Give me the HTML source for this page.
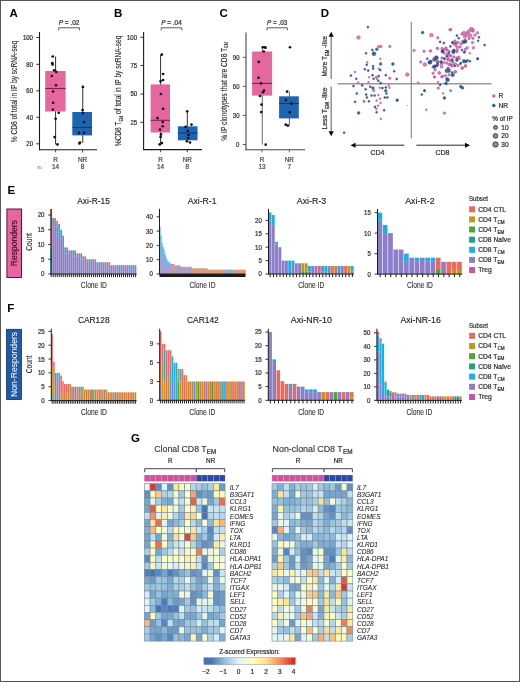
<!DOCTYPE html>
<html><head><meta charset="utf-8"><style>
html,body{margin:0;padding:0;background:#fff;}
svg{display:block;filter:blur(0.3px);}
text{font-family:"Liberation Sans", sans-serif;}
</style></head><body>
<svg width="520" height="682" viewBox="0 0 520 682">
<rect x="0" y="0" width="520" height="682" fill="#fff"/>
<text x="9.60" y="17.20" font-size="11.5" fill="#000" text-anchor="start" font-weight="bold" >A</text>
<text x="114.00" y="17.20" font-size="11.5" fill="#000" text-anchor="start" font-weight="bold" >B</text>
<text x="219.60" y="17.20" font-size="11.5" fill="#000" text-anchor="start" font-weight="bold" >C</text>
<text x="320.80" y="17.20" font-size="11.5" fill="#000" text-anchor="start" font-weight="bold" >D</text>
<text x="7.40" y="193.60" font-size="11.5" fill="#000" text-anchor="start" font-weight="bold" >E</text>
<text x="7.30" y="312.40" font-size="11.5" fill="#000" text-anchor="start" font-weight="bold" >F</text>
<text x="131.00" y="442.00" font-size="11.5" fill="#000" text-anchor="start" font-weight="bold" >G</text>
<line x1="36.30" y1="37.50" x2="39.50" y2="37.50" stroke="#1a1a1a" stroke-width="0.9" />
<text x="33.00" y="39.85" font-size="6.7" fill="#333" text-anchor="end" textLength="10.1" lengthAdjust="spacingAndGlyphs"  stroke="#333" stroke-width="0.24">100</text>
<line x1="36.30" y1="64.30" x2="39.50" y2="64.30" stroke="#1a1a1a" stroke-width="0.9" />
<text x="33.00" y="66.65" font-size="6.7" fill="#333" text-anchor="end" textLength="6.7" lengthAdjust="spacingAndGlyphs"  stroke="#333" stroke-width="0.24">80</text>
<line x1="36.30" y1="90.80" x2="39.50" y2="90.80" stroke="#1a1a1a" stroke-width="0.9" />
<text x="33.00" y="93.15" font-size="6.7" fill="#333" text-anchor="end" textLength="6.7" lengthAdjust="spacingAndGlyphs"  stroke="#333" stroke-width="0.24">60</text>
<line x1="36.30" y1="117.30" x2="39.50" y2="117.30" stroke="#1a1a1a" stroke-width="0.9" />
<text x="33.00" y="119.65" font-size="6.7" fill="#333" text-anchor="end" textLength="6.7" lengthAdjust="spacingAndGlyphs"  stroke="#333" stroke-width="0.24">40</text>
<line x1="36.30" y1="143.80" x2="39.50" y2="143.80" stroke="#1a1a1a" stroke-width="0.9" />
<text x="33.00" y="146.15" font-size="6.7" fill="#333" text-anchor="end" textLength="6.7" lengthAdjust="spacingAndGlyphs"  stroke="#333" stroke-width="0.24">20</text>
<line x1="55.60" y1="56.50" x2="55.60" y2="144.40" stroke="#1a1a1a" stroke-width="0.9" />
<rect x="45.20" y="71.00" width="20.40" height="40.50" fill="#e6669f" />
<line x1="45.20" y1="88.50" x2="65.60" y2="88.50" stroke="#8a1d55" stroke-width="1.1" />
<line x1="82.75" y1="86.90" x2="82.75" y2="142.80" stroke="#1a1a1a" stroke-width="0.9" />
<rect x="72.30" y="112.00" width="19.70" height="23.40" fill="#1f64b1" />
<line x1="72.30" y1="127.50" x2="92.00" y2="127.50" stroke="#143d70" stroke-width="1.1" />
<circle cx="52.75" cy="56.50" r="1.35" fill="#111"/>
<circle cx="52.30" cy="63.20" r="1.35" fill="#111"/>
<circle cx="52.60" cy="64.40" r="1.35" fill="#111"/>
<circle cx="54.10" cy="70.25" r="1.35" fill="#111"/>
<circle cx="56.25" cy="71.90" r="1.35" fill="#111"/>
<circle cx="51.90" cy="76.00" r="1.35" fill="#111"/>
<circle cx="56.00" cy="85.25" r="1.35" fill="#111"/>
<circle cx="53.10" cy="91.50" r="1.35" fill="#111"/>
<circle cx="53.10" cy="102.75" r="1.35" fill="#111"/>
<circle cx="52.90" cy="109.60" r="1.35" fill="#111"/>
<circle cx="58.75" cy="112.75" r="1.35" fill="#111"/>
<circle cx="55.60" cy="118.75" r="1.35" fill="#111"/>
<circle cx="54.60" cy="137.10" r="1.35" fill="#111"/>
<circle cx="57.50" cy="144.40" r="1.35" fill="#111"/>
<circle cx="82.90" cy="86.90" r="1.35" fill="#111"/>
<circle cx="82.50" cy="110.00" r="1.35" fill="#111"/>
<circle cx="82.90" cy="113.10" r="1.35" fill="#111"/>
<circle cx="84.00" cy="122.10" r="1.35" fill="#111"/>
<circle cx="79.00" cy="132.90" r="1.35" fill="#111"/>
<circle cx="84.00" cy="132.90" r="1.35" fill="#111"/>
<circle cx="80.00" cy="142.50" r="1.35" fill="#111"/>
<circle cx="79.40" cy="143.40" r="1.35" fill="#111"/>
<line x1="39.50" y1="32.00" x2="39.50" y2="150.30" stroke="#1a1a1a" stroke-width="1.1" />
<line x1="39.00" y1="149.80" x2="97.00" y2="149.80" stroke="#1a1a1a" stroke-width="1.1" />
<line x1="55.60" y1="149.80" x2="55.60" y2="152.40" stroke="#1a1a1a" stroke-width="0.8" />
<line x1="82.60" y1="149.80" x2="82.60" y2="152.40" stroke="#1a1a1a" stroke-width="0.8" />
<text x="55.60" y="161.60" font-size="6.4" fill="#4d4d4d" text-anchor="middle"  stroke="#4d4d4d" stroke-width="0.24">R</text>
<text x="82.60" y="161.60" font-size="6.4" fill="#4d4d4d" text-anchor="middle"  stroke="#4d4d4d" stroke-width="0.24">NR</text>
<text x="55.60" y="169.40" font-size="6.4" fill="#4d4d4d" text-anchor="middle"  stroke="#4d4d4d" stroke-width="0.24">14</text>
<text x="82.60" y="169.40" font-size="6.4" fill="#4d4d4d" text-anchor="middle"  stroke="#4d4d4d" stroke-width="0.24">8</text>
<text x="17.20" y="91.55" font-size="8.4" fill="#2a2a2a" text-anchor="middle" textLength="101.3" lengthAdjust="spacingAndGlyphs" transform="rotate(-90 17.20 91.55)" stroke="#2a2a2a" stroke-width="0.12">% CD8 of total in IP by scRNA-seq</text>
<text x="69.05" y="25.0" font-size="6.4" fill="#333" text-anchor="middle" textLength="20.7" lengthAdjust="spacingAndGlyphs" stroke="#333" stroke-width="0.24"><tspan font-style="italic">P</tspan> = .02</text>
<polyline points="58.70,30.4 58.70,27.8 79.40,27.8 79.40,30.4" fill="none" stroke="#333" stroke-width="0.8"/>
<text x="39.80" y="169.40" font-size="6.0" fill="#999" text-anchor="middle"  stroke="#999" stroke-width="0.24">n:</text>
<line x1="140.40" y1="37.30" x2="143.60" y2="37.30" stroke="#1a1a1a" stroke-width="0.9" />
<text x="137.10" y="39.65" font-size="6.7" fill="#333" text-anchor="end" textLength="10.1" lengthAdjust="spacingAndGlyphs"  stroke="#333" stroke-width="0.24">100</text>
<line x1="140.40" y1="65.60" x2="143.60" y2="65.60" stroke="#1a1a1a" stroke-width="0.9" />
<text x="137.10" y="67.95" font-size="6.7" fill="#333" text-anchor="end" textLength="6.7" lengthAdjust="spacingAndGlyphs"  stroke="#333" stroke-width="0.24">75</text>
<line x1="140.40" y1="94.00" x2="143.60" y2="94.00" stroke="#1a1a1a" stroke-width="0.9" />
<text x="137.10" y="96.35" font-size="6.7" fill="#333" text-anchor="end" textLength="6.7" lengthAdjust="spacingAndGlyphs"  stroke="#333" stroke-width="0.24">50</text>
<line x1="140.40" y1="122.30" x2="143.60" y2="122.30" stroke="#1a1a1a" stroke-width="0.9" />
<text x="137.10" y="124.65" font-size="6.7" fill="#333" text-anchor="end" textLength="6.7" lengthAdjust="spacingAndGlyphs"  stroke="#333" stroke-width="0.24">25</text>
<line x1="160.60" y1="54.60" x2="160.60" y2="144.20" stroke="#1a1a1a" stroke-width="0.9" />
<rect x="150.60" y="84.40" width="19.40" height="48.10" fill="#e6669f" />
<line x1="150.60" y1="120.30" x2="170.00" y2="120.30" stroke="#8a1d55" stroke-width="1.1" />
<line x1="187.30" y1="111.30" x2="187.30" y2="141.50" stroke="#1a1a1a" stroke-width="0.9" />
<rect x="177.90" y="126.30" width="19.60" height="14.00" fill="#1f64b1" />
<line x1="177.90" y1="133.10" x2="197.50" y2="133.10" stroke="#143d70" stroke-width="1.1" />
<circle cx="161.90" cy="54.60" r="1.35" fill="#111"/>
<circle cx="163.10" cy="74.00" r="1.35" fill="#111"/>
<circle cx="163.10" cy="80.00" r="1.35" fill="#111"/>
<circle cx="160.60" cy="81.25" r="1.35" fill="#111"/>
<circle cx="160.90" cy="94.00" r="1.35" fill="#111"/>
<circle cx="163.10" cy="108.75" r="1.35" fill="#111"/>
<circle cx="157.50" cy="118.10" r="1.35" fill="#111"/>
<circle cx="162.75" cy="122.10" r="1.35" fill="#111"/>
<circle cx="162.75" cy="126.25" r="1.35" fill="#111"/>
<circle cx="160.00" cy="129.60" r="1.35" fill="#111"/>
<circle cx="161.00" cy="134.40" r="1.35" fill="#111"/>
<circle cx="160.60" cy="136.90" r="1.35" fill="#111"/>
<circle cx="161.90" cy="143.10" r="1.35" fill="#111"/>
<circle cx="159.75" cy="144.40" r="1.35" fill="#111"/>
<circle cx="187.25" cy="111.25" r="1.35" fill="#111"/>
<circle cx="185.60" cy="126.90" r="1.35" fill="#111"/>
<circle cx="191.50" cy="124.60" r="1.35" fill="#111"/>
<circle cx="187.90" cy="131.00" r="1.35" fill="#111"/>
<circle cx="188.50" cy="135.00" r="1.35" fill="#111"/>
<circle cx="186.90" cy="141.25" r="1.35" fill="#111"/>
<circle cx="190.00" cy="142.50" r="1.35" fill="#111"/>
<circle cx="188.10" cy="138.10" r="1.35" fill="#111"/>
<line x1="143.60" y1="32.00" x2="143.60" y2="150.10" stroke="#1a1a1a" stroke-width="1.1" />
<line x1="143.10" y1="149.60" x2="202.00" y2="149.60" stroke="#1a1a1a" stroke-width="1.1" />
<line x1="160.60" y1="149.60" x2="160.60" y2="152.20" stroke="#1a1a1a" stroke-width="0.8" />
<line x1="187.30" y1="149.60" x2="187.30" y2="152.20" stroke="#1a1a1a" stroke-width="0.8" />
<text x="160.60" y="161.60" font-size="6.4" fill="#4d4d4d" text-anchor="middle"  stroke="#4d4d4d" stroke-width="0.24">R</text>
<text x="187.30" y="161.60" font-size="6.4" fill="#4d4d4d" text-anchor="middle"  stroke="#4d4d4d" stroke-width="0.24">NR</text>
<text x="160.60" y="169.40" font-size="6.4" fill="#4d4d4d" text-anchor="middle"  stroke="#4d4d4d" stroke-width="0.24">14</text>
<text x="187.30" y="169.40" font-size="6.4" fill="#4d4d4d" text-anchor="middle"  stroke="#4d4d4d" stroke-width="0.24">8</text>
<text x="121.00" y="90.95" font-size="8.4" fill="#2a2a2a" text-anchor="middle" textLength="110.7" lengthAdjust="spacingAndGlyphs" transform="rotate(-90 121.00 90.95)" stroke="#2a2a2a" stroke-width="0.12">%CD8 T<tspan font-size="5" dy="1.6">EM</tspan><tspan dy="-1.6"> of total in IP by scRNA-seq</tspan></text>
<text x="171.50" y="25.0" font-size="6.4" fill="#333" text-anchor="middle" textLength="20.6" lengthAdjust="spacingAndGlyphs" stroke="#333" stroke-width="0.24"><tspan font-style="italic">P</tspan> = .04</text>
<polyline points="161.20,30.4 161.20,27.8 181.80,27.8 181.80,30.4" fill="none" stroke="#333" stroke-width="0.8"/>
<line x1="242.80" y1="57.30" x2="246.00" y2="57.30" stroke="#444" stroke-width="0.9" />
<text x="239.50" y="59.65" font-size="6.7" fill="#333" text-anchor="end" textLength="6.7" lengthAdjust="spacingAndGlyphs"  stroke="#333" stroke-width="0.24">90</text>
<line x1="242.80" y1="86.30" x2="246.00" y2="86.30" stroke="#444" stroke-width="0.9" />
<text x="239.50" y="88.65" font-size="6.7" fill="#333" text-anchor="end" textLength="6.7" lengthAdjust="spacingAndGlyphs"  stroke="#333" stroke-width="0.24">60</text>
<line x1="242.80" y1="115.40" x2="246.00" y2="115.40" stroke="#444" stroke-width="0.9" />
<text x="239.50" y="117.75" font-size="6.7" fill="#333" text-anchor="end" textLength="6.7" lengthAdjust="spacingAndGlyphs"  stroke="#333" stroke-width="0.24">30</text>
<line x1="242.80" y1="144.50" x2="246.00" y2="144.50" stroke="#444" stroke-width="0.9" />
<text x="239.50" y="146.85" font-size="6.7" fill="#333" text-anchor="end" textLength="3.4" lengthAdjust="spacingAndGlyphs"  stroke="#333" stroke-width="0.24">0</text>
<line x1="262.25" y1="47.25" x2="262.25" y2="144.50" stroke="#555" stroke-width="0.9" />
<rect x="252.10" y="51.50" width="20.00" height="44.10" fill="#e6669f" />
<line x1="252.10" y1="83.40" x2="272.10" y2="83.40" stroke="#8a1d55" stroke-width="1.1" />
<line x1="289.40" y1="91.60" x2="289.40" y2="125.60" stroke="#555" stroke-width="0.9" />
<rect x="279.10" y="96.30" width="19.70" height="22.10" fill="#1f64b1" />
<line x1="279.10" y1="103.40" x2="298.80" y2="103.40" stroke="#143d70" stroke-width="1.1" />
<circle cx="262.90" cy="47.25" r="1.35" fill="#111"/>
<circle cx="264.75" cy="47.25" r="1.35" fill="#111"/>
<circle cx="265.60" cy="47.75" r="1.35" fill="#111"/>
<circle cx="263.75" cy="51.50" r="1.35" fill="#111"/>
<circle cx="258.75" cy="61.90" r="1.35" fill="#111"/>
<circle cx="258.50" cy="77.75" r="1.35" fill="#111"/>
<circle cx="261.00" cy="83.40" r="1.35" fill="#111"/>
<circle cx="264.00" cy="90.60" r="1.35" fill="#111"/>
<circle cx="262.90" cy="92.25" r="1.35" fill="#111"/>
<circle cx="260.00" cy="96.00" r="1.35" fill="#111"/>
<circle cx="261.50" cy="104.60" r="1.35" fill="#111"/>
<circle cx="261.25" cy="112.10" r="1.35" fill="#111"/>
<circle cx="265.70" cy="144.70" r="1.35" fill="#111"/>
<circle cx="290.00" cy="47.25" r="1.35" fill="#111"/>
<circle cx="287.10" cy="91.60" r="1.35" fill="#111"/>
<circle cx="285.90" cy="100.00" r="1.35" fill="#111"/>
<circle cx="291.50" cy="103.50" r="1.35" fill="#111"/>
<circle cx="289.75" cy="112.25" r="1.35" fill="#111"/>
<circle cx="285.70" cy="124.70" r="1.35" fill="#111"/>
<circle cx="287.80" cy="125.60" r="1.35" fill="#111"/>
<line x1="246.00" y1="32.50" x2="246.00" y2="150.30" stroke="#444" stroke-width="1.1" />
<line x1="245.50" y1="149.80" x2="305.00" y2="149.80" stroke="#444" stroke-width="1.1" />
<line x1="262.00" y1="149.80" x2="262.00" y2="152.40" stroke="#444" stroke-width="0.8" />
<line x1="289.30" y1="149.80" x2="289.30" y2="152.40" stroke="#444" stroke-width="0.8" />
<text x="262.00" y="161.60" font-size="6.4" fill="#4d4d4d" text-anchor="middle"  stroke="#4d4d4d" stroke-width="0.24">R</text>
<text x="289.30" y="161.60" font-size="6.4" fill="#4d4d4d" text-anchor="middle"  stroke="#4d4d4d" stroke-width="0.24">NR</text>
<text x="262.00" y="169.40" font-size="6.4" fill="#4d4d4d" text-anchor="middle"  stroke="#4d4d4d" stroke-width="0.24">13</text>
<text x="289.30" y="169.40" font-size="6.4" fill="#4d4d4d" text-anchor="middle"  stroke="#4d4d4d" stroke-width="0.24">7</text>
<text x="226.90" y="91.30" font-size="8.4" fill="#2a2a2a" text-anchor="middle" textLength="98.8" lengthAdjust="spacingAndGlyphs" transform="rotate(-90 226.90 91.30)" stroke="#2a2a2a" stroke-width="0.12">% IP clonotypes that are CD8 T<tspan font-size="5" dy="1.6">EM</tspan></text>
<text x="277.15" y="25.0" font-size="6.4" fill="#333" text-anchor="middle" textLength="20.3" lengthAdjust="spacingAndGlyphs" stroke="#333" stroke-width="0.24"><tspan font-style="italic">P</tspan> = .03</text>
<polyline points="267.00,30.4 267.00,27.8 287.30,27.8 287.30,30.4" fill="none" stroke="#333" stroke-width="0.8"/>
<line x1="337.50" y1="83.75" x2="491.50" y2="83.75" stroke="#9a9a9a" stroke-width="1.3" />
<line x1="411.25" y1="21.90" x2="411.25" y2="138.40" stroke="#6a6a6a" stroke-width="0.9" />
<circle cx="443.50" cy="62.50" r="1.20" fill="#d875b2" stroke="#c0509a" stroke-width="0.65" fill-opacity="0.9"/>
<circle cx="362.20" cy="85.40" r="1.05" fill="#2c5c96" stroke="#214a7a" stroke-width="0.4" fill-opacity="0.95"/>
<circle cx="456.90" cy="35.60" r="1.05" fill="#2c5c96" stroke="#214a7a" stroke-width="0.4" fill-opacity="0.95"/>
<circle cx="439.20" cy="73.10" r="1.20" fill="#d875b2" stroke="#c0509a" stroke-width="0.65" fill-opacity="0.9"/>
<circle cx="457.00" cy="51.50" r="1.20" fill="#d875b2" stroke="#c0509a" stroke-width="0.65" fill-opacity="0.9"/>
<circle cx="422.60" cy="32.60" r="1.40" fill="#2c5c96" stroke="#214a7a" stroke-width="0.4" fill-opacity="0.95"/>
<circle cx="479.00" cy="37.30" r="1.05" fill="#2c5c96" stroke="#214a7a" stroke-width="0.4" fill-opacity="0.95"/>
<circle cx="355.10" cy="101.80" r="1.05" fill="#2c5c96" stroke="#214a7a" stroke-width="0.4" fill-opacity="0.95"/>
<circle cx="469.00" cy="38.50" r="1.20" fill="#d875b2" stroke="#c0509a" stroke-width="0.65" fill-opacity="0.9"/>
<circle cx="441.50" cy="64.50" r="1.20" fill="#d875b2" stroke="#c0509a" stroke-width="0.65" fill-opacity="0.9"/>
<circle cx="469.90" cy="61.20" r="1.05" fill="#2c5c96" stroke="#214a7a" stroke-width="0.4" fill-opacity="0.95"/>
<circle cx="456.90" cy="60.20" r="1.05" fill="#2c5c96" stroke="#214a7a" stroke-width="0.4" fill-opacity="0.95"/>
<circle cx="450.40" cy="46.40" r="1.05" fill="#2c5c96" stroke="#214a7a" stroke-width="0.4" fill-opacity="0.95"/>
<circle cx="462.00" cy="50.00" r="1.05" fill="#2c5c96" stroke="#214a7a" stroke-width="0.4" fill-opacity="0.95"/>
<circle cx="465.10" cy="41.20" r="1.95" fill="#2c5c96" stroke="#214a7a" stroke-width="0.4" fill-opacity="0.95"/>
<circle cx="445.00" cy="59.00" r="1.20" fill="#d875b2" stroke="#c0509a" stroke-width="0.65" fill-opacity="0.9"/>
<circle cx="435.10" cy="69.90" r="1.20" fill="#d875b2" stroke="#c0509a" stroke-width="0.65" fill-opacity="0.9"/>
<circle cx="442.30" cy="76.20" r="1.20" fill="#d875b2" stroke="#c0509a" stroke-width="0.65" fill-opacity="0.9"/>
<circle cx="367.30" cy="62.30" r="0.85" fill="#d875b2" stroke="#c0509a" stroke-width="0.65" fill-opacity="0.9"/>
<circle cx="453.90" cy="50.30" r="1.40" fill="#2c5c96" stroke="#214a7a" stroke-width="0.4" fill-opacity="0.95"/>
<circle cx="407.30" cy="74.60" r="1.75" fill="#d875b2" stroke="#c0509a" stroke-width="0.65" fill-opacity="0.9"/>
<circle cx="460.40" cy="63.70" r="1.05" fill="#2c5c96" stroke="#214a7a" stroke-width="0.4" fill-opacity="0.95"/>
<circle cx="444.40" cy="113.10" r="1.20" fill="#d875b2" stroke="#c0509a" stroke-width="0.65" fill-opacity="0.9"/>
<circle cx="456.90" cy="50.30" r="1.20" fill="#d875b2" stroke="#c0509a" stroke-width="0.65" fill-opacity="0.9"/>
<circle cx="366.20" cy="94.50" r="1.05" fill="#2c5c96" stroke="#214a7a" stroke-width="0.4" fill-opacity="0.95"/>
<circle cx="477.50" cy="32.80" r="1.20" fill="#d875b2" stroke="#c0509a" stroke-width="0.65" fill-opacity="0.9"/>
<circle cx="461.00" cy="44.00" r="1.20" fill="#d875b2" stroke="#c0509a" stroke-width="0.65" fill-opacity="0.9"/>
<circle cx="454.00" cy="44.00" r="1.20" fill="#d875b2" stroke="#c0509a" stroke-width="0.65" fill-opacity="0.9"/>
<circle cx="374.70" cy="95.50" r="1.05" fill="#237888" stroke="#214a7a" stroke-width="0.4" fill-opacity="0.95"/>
<circle cx="392.90" cy="64.00" r="1.40" fill="#2c5c96" stroke="#214a7a" stroke-width="0.4" fill-opacity="0.95"/>
<circle cx="437.70" cy="64.60" r="1.20" fill="#d875b2" stroke="#c0509a" stroke-width="0.65" fill-opacity="0.9"/>
<circle cx="430.30" cy="51.00" r="1.20" fill="#d875b2" stroke="#c0509a" stroke-width="0.65" fill-opacity="0.9"/>
<circle cx="447.00" cy="56.00" r="1.40" fill="#2c5c96" stroke="#214a7a" stroke-width="0.4" fill-opacity="0.95"/>
<circle cx="370.30" cy="86.70" r="1.05" fill="#2c5c96" stroke="#214a7a" stroke-width="0.4" fill-opacity="0.95"/>
<circle cx="458.70" cy="57.20" r="1.20" fill="#d875b2" stroke="#c0509a" stroke-width="0.65" fill-opacity="0.9"/>
<circle cx="447.50" cy="79.80" r="1.95" fill="#2c5c96" stroke="#214a7a" stroke-width="0.4" fill-opacity="0.95"/>
<circle cx="424.40" cy="90.70" r="1.05" fill="#2c5c96" stroke="#214a7a" stroke-width="0.4" fill-opacity="0.95"/>
<circle cx="460.00" cy="47.00" r="1.20" fill="#d875b2" stroke="#c0509a" stroke-width="0.65" fill-opacity="0.9"/>
<circle cx="458.70" cy="38.20" r="1.05" fill="#2c5c96" stroke="#214a7a" stroke-width="0.4" fill-opacity="0.95"/>
<circle cx="467.30" cy="47.70" r="1.20" fill="#d875b2" stroke="#c0509a" stroke-width="0.65" fill-opacity="0.9"/>
<circle cx="453.00" cy="62.00" r="1.20" fill="#d875b2" stroke="#c0509a" stroke-width="0.65" fill-opacity="0.9"/>
<circle cx="373.10" cy="68.60" r="1.05" fill="#2c5c96" stroke="#214a7a" stroke-width="0.4" fill-opacity="0.95"/>
<circle cx="457.50" cy="47.50" r="1.20" fill="#d875b2" stroke="#c0509a" stroke-width="0.65" fill-opacity="0.9"/>
<circle cx="472.50" cy="42.50" r="1.20" fill="#d875b2" stroke="#c0509a" stroke-width="0.65" fill-opacity="0.9"/>
<circle cx="467.50" cy="60.50" r="1.05" fill="#2c5c96" stroke="#214a7a" stroke-width="0.4" fill-opacity="0.95"/>
<circle cx="470.00" cy="35.50" r="1.75" fill="#d875b2" stroke="#c0509a" stroke-width="0.65" fill-opacity="0.9"/>
<circle cx="421.80" cy="94.50" r="1.05" fill="#2c5c96" stroke="#214a7a" stroke-width="0.4" fill-opacity="0.95"/>
<circle cx="456.00" cy="43.00" r="1.05" fill="#2c5c96" stroke="#214a7a" stroke-width="0.4" fill-opacity="0.95"/>
<circle cx="477.70" cy="58.50" r="1.05" fill="#2c5c96" stroke="#214a7a" stroke-width="0.4" fill-opacity="0.95"/>
<circle cx="356.80" cy="93.50" r="1.05" fill="#2c5c96" stroke="#214a7a" stroke-width="0.4" fill-opacity="0.95"/>
<circle cx="446.50" cy="63.00" r="1.20" fill="#d875b2" stroke="#c0509a" stroke-width="0.65" fill-opacity="0.9"/>
<circle cx="450.40" cy="90.70" r="0.85" fill="#d875b2" stroke="#c0509a" stroke-width="0.65" fill-opacity="0.9"/>
<circle cx="484.60" cy="45.10" r="1.05" fill="#2c5c96" stroke="#214a7a" stroke-width="0.4" fill-opacity="0.95"/>
<circle cx="452.60" cy="42.50" r="1.05" fill="#2c5c96" stroke="#214a7a" stroke-width="0.4" fill-opacity="0.95"/>
<circle cx="433.10" cy="66.90" r="1.20" fill="#d875b2" stroke="#c0509a" stroke-width="0.65" fill-opacity="0.9"/>
<circle cx="444.00" cy="53.00" r="1.20" fill="#d875b2" stroke="#c0509a" stroke-width="0.65" fill-opacity="0.9"/>
<circle cx="437.80" cy="37.80" r="1.20" fill="#d875b2" stroke="#c0509a" stroke-width="0.65" fill-opacity="0.9"/>
<circle cx="450.90" cy="90.50" r="0.85" fill="#d875b2" stroke="#c0509a" stroke-width="0.65" fill-opacity="0.9"/>
<circle cx="380.20" cy="58.80" r="0.85" fill="#d875b2" stroke="#c0509a" stroke-width="0.65" fill-opacity="0.9"/>
<circle cx="477.50" cy="58.90" r="1.05" fill="#2c5c96" stroke="#214a7a" stroke-width="0.4" fill-opacity="0.95"/>
<circle cx="389.80" cy="46.40" r="1.20" fill="#d875b2" stroke="#c0509a" stroke-width="0.65" fill-opacity="0.9"/>
<circle cx="376.30" cy="108.90" r="0.85" fill="#d875b2" stroke="#c0509a" stroke-width="0.65" fill-opacity="0.9"/>
<circle cx="385.80" cy="87.40" r="1.05" fill="#2c5c96" stroke="#214a7a" stroke-width="0.4" fill-opacity="0.95"/>
<circle cx="434.60" cy="66.20" r="1.40" fill="#2c5c96" stroke="#214a7a" stroke-width="0.4" fill-opacity="0.95"/>
<circle cx="358.10" cy="82.50" r="0.85" fill="#d875b2" stroke="#c0509a" stroke-width="0.65" fill-opacity="0.9"/>
<circle cx="437.30" cy="48.10" r="0.85" fill="#d875b2" stroke="#c0509a" stroke-width="0.65" fill-opacity="0.9"/>
<circle cx="457.00" cy="58.00" r="1.20" fill="#d875b2" stroke="#c0509a" stroke-width="0.65" fill-opacity="0.9"/>
<circle cx="456.90" cy="60.00" r="1.40" fill="#237888" stroke="#214a7a" stroke-width="0.4" fill-opacity="0.95"/>
<circle cx="459.20" cy="58.50" r="1.20" fill="#d875b2" stroke="#c0509a" stroke-width="0.65" fill-opacity="0.9"/>
<circle cx="438.30" cy="88.00" r="1.20" fill="#d875b2" stroke="#c0509a" stroke-width="0.65" fill-opacity="0.9"/>
<circle cx="378.80" cy="68.60" r="0.85" fill="#d875b2" stroke="#c0509a" stroke-width="0.65" fill-opacity="0.9"/>
<circle cx="426.30" cy="109.80" r="0.85" fill="#d875b2" stroke="#c0509a" stroke-width="0.65" fill-opacity="0.9"/>
<circle cx="376.80" cy="49.30" r="1.40" fill="#237888" stroke="#214a7a" stroke-width="0.4" fill-opacity="0.95"/>
<circle cx="473.40" cy="47.70" r="1.20" fill="#d875b2" stroke="#c0509a" stroke-width="0.65" fill-opacity="0.9"/>
<circle cx="444.00" cy="58.50" r="1.05" fill="#2c5c96" stroke="#214a7a" stroke-width="0.4" fill-opacity="0.95"/>
<circle cx="420.70" cy="62.00" r="1.20" fill="#d875b2" stroke="#c0509a" stroke-width="0.65" fill-opacity="0.9"/>
<circle cx="430.80" cy="50.80" r="0.85" fill="#d875b2" stroke="#c0509a" stroke-width="0.65" fill-opacity="0.9"/>
<circle cx="448.00" cy="60.00" r="1.20" fill="#d875b2" stroke="#c0509a" stroke-width="0.65" fill-opacity="0.9"/>
<circle cx="373.00" cy="88.10" r="1.40" fill="#237888" stroke="#214a7a" stroke-width="0.4" fill-opacity="0.95"/>
<circle cx="358.50" cy="37.50" r="1.75" fill="#d875b2" stroke="#c0509a" stroke-width="0.65" fill-opacity="0.9"/>
<circle cx="433.80" cy="60.00" r="1.20" fill="#d875b2" stroke="#c0509a" stroke-width="0.65" fill-opacity="0.9"/>
<circle cx="437.50" cy="48.50" r="1.20" fill="#d875b2" stroke="#c0509a" stroke-width="0.65" fill-opacity="0.9"/>
<circle cx="443.80" cy="43.10" r="1.05" fill="#2c5c96" stroke="#214a7a" stroke-width="0.4" fill-opacity="0.95"/>
<circle cx="473.00" cy="31.00" r="1.20" fill="#d875b2" stroke="#c0509a" stroke-width="0.65" fill-opacity="0.9"/>
<circle cx="384.80" cy="97.50" r="1.05" fill="#2c5c96" stroke="#214a7a" stroke-width="0.4" fill-opacity="0.95"/>
<circle cx="380.90" cy="46.40" r="1.20" fill="#d875b2" stroke="#c0509a" stroke-width="0.65" fill-opacity="0.9"/>
<circle cx="394.20" cy="71.30" r="1.05" fill="#2c5c96" stroke="#214a7a" stroke-width="0.4" fill-opacity="0.95"/>
<circle cx="462.50" cy="41.50" r="1.20" fill="#d875b2" stroke="#c0509a" stroke-width="0.65" fill-opacity="0.9"/>
<circle cx="448.00" cy="68.00" r="1.05" fill="#2c5c96" stroke="#214a7a" stroke-width="0.4" fill-opacity="0.95"/>
<circle cx="375.00" cy="106.90" r="1.05" fill="#2c5c96" stroke="#214a7a" stroke-width="0.4" fill-opacity="0.95"/>
<circle cx="446.90" cy="78.80" r="1.05" fill="#2c5c96" stroke="#214a7a" stroke-width="0.4" fill-opacity="0.95"/>
<circle cx="466.00" cy="61.50" r="1.40" fill="#237888" stroke="#214a7a" stroke-width="0.4" fill-opacity="0.95"/>
<circle cx="427.30" cy="58.80" r="1.05" fill="#2c5c96" stroke="#214a7a" stroke-width="0.4" fill-opacity="0.95"/>
<circle cx="450.00" cy="29.80" r="1.20" fill="#d875b2" stroke="#c0509a" stroke-width="0.65" fill-opacity="0.9"/>
<circle cx="478.10" cy="40.80" r="1.05" fill="#237888" stroke="#214a7a" stroke-width="0.4" fill-opacity="0.95"/>
<circle cx="450.80" cy="64.60" r="1.05" fill="#2c5c96" stroke="#214a7a" stroke-width="0.4" fill-opacity="0.95"/>
<circle cx="465.40" cy="49.20" r="1.20" fill="#d875b2" stroke="#c0509a" stroke-width="0.65" fill-opacity="0.9"/>
<circle cx="441.80" cy="76.90" r="1.20" fill="#d875b2" stroke="#c0509a" stroke-width="0.65" fill-opacity="0.9"/>
<circle cx="449.00" cy="51.50" r="1.20" fill="#d875b2" stroke="#c0509a" stroke-width="0.65" fill-opacity="0.9"/>
<circle cx="451.00" cy="56.00" r="1.20" fill="#d875b2" stroke="#c0509a" stroke-width="0.65" fill-opacity="0.9"/>
<circle cx="454.00" cy="57.00" r="1.20" fill="#d875b2" stroke="#c0509a" stroke-width="0.65" fill-opacity="0.9"/>
<circle cx="449.20" cy="74.80" r="1.20" fill="#d875b2" stroke="#c0509a" stroke-width="0.65" fill-opacity="0.9"/>
<circle cx="449.00" cy="53.00" r="1.05" fill="#2c5c96" stroke="#214a7a" stroke-width="0.4" fill-opacity="0.95"/>
<circle cx="448.40" cy="58.40" r="1.20" fill="#d875b2" stroke="#c0509a" stroke-width="0.65" fill-opacity="0.9"/>
<circle cx="467.00" cy="34.00" r="1.75" fill="#d875b2" stroke="#c0509a" stroke-width="0.65" fill-opacity="0.9"/>
<circle cx="439.30" cy="72.80" r="1.20" fill="#d875b2" stroke="#c0509a" stroke-width="0.65" fill-opacity="0.9"/>
<circle cx="464.20" cy="52.30" r="1.05" fill="#2c5c96" stroke="#214a7a" stroke-width="0.4" fill-opacity="0.95"/>
<circle cx="449.20" cy="69.20" r="1.20" fill="#d875b2" stroke="#c0509a" stroke-width="0.65" fill-opacity="0.9"/>
<circle cx="356.30" cy="78.80" r="1.05" fill="#2c5c96" stroke="#214a7a" stroke-width="0.4" fill-opacity="0.95"/>
<circle cx="358.60" cy="113.00" r="1.40" fill="#2c5c96" stroke="#214a7a" stroke-width="0.4" fill-opacity="0.95"/>
<circle cx="452.60" cy="75.30" r="1.40" fill="#237888" stroke="#214a7a" stroke-width="0.4" fill-opacity="0.95"/>
<circle cx="433.10" cy="73.20" r="1.20" fill="#d875b2" stroke="#c0509a" stroke-width="0.65" fill-opacity="0.9"/>
<circle cx="436.20" cy="57.70" r="1.40" fill="#2c5c96" stroke="#214a7a" stroke-width="0.4" fill-opacity="0.95"/>
<circle cx="446.00" cy="48.00" r="1.20" fill="#d875b2" stroke="#c0509a" stroke-width="0.65" fill-opacity="0.9"/>
<circle cx="366.70" cy="64.80" r="1.05" fill="#2c5c96" stroke="#214a7a" stroke-width="0.4" fill-opacity="0.95"/>
<circle cx="446.00" cy="83.50" r="1.40" fill="#2c5c96" stroke="#214a7a" stroke-width="0.4" fill-opacity="0.95"/>
<circle cx="372.30" cy="50.00" r="1.05" fill="#2c5c96" stroke="#214a7a" stroke-width="0.4" fill-opacity="0.95"/>
<circle cx="431.40" cy="35.10" r="1.75" fill="#d875b2" stroke="#c0509a" stroke-width="0.65" fill-opacity="0.9"/>
<circle cx="354.80" cy="71.90" r="0.85" fill="#d875b2" stroke="#c0509a" stroke-width="0.65" fill-opacity="0.9"/>
<circle cx="449.00" cy="71.00" r="1.40" fill="#237888" stroke="#214a7a" stroke-width="0.4" fill-opacity="0.95"/>
<circle cx="452.00" cy="60.00" r="1.40" fill="#2c5c96" stroke="#214a7a" stroke-width="0.4" fill-opacity="0.95"/>
<circle cx="429.80" cy="62.40" r="1.95" fill="#2c5c96" stroke="#214a7a" stroke-width="0.4" fill-opacity="0.95"/>
<circle cx="364.00" cy="101.30" r="1.20" fill="#d875b2" stroke="#c0509a" stroke-width="0.65" fill-opacity="0.9"/>
<circle cx="450.70" cy="29.50" r="1.20" fill="#d875b2" stroke="#c0509a" stroke-width="0.65" fill-opacity="0.9"/>
<circle cx="443.20" cy="93.40" r="0.85" fill="#d875b2" stroke="#c0509a" stroke-width="0.65" fill-opacity="0.9"/>
<circle cx="462.30" cy="67.70" r="1.20" fill="#d875b2" stroke="#c0509a" stroke-width="0.65" fill-opacity="0.9"/>
<circle cx="378.60" cy="46.70" r="1.20" fill="#d875b2" stroke="#c0509a" stroke-width="0.65" fill-opacity="0.9"/>
<circle cx="444.50" cy="49.50" r="1.20" fill="#d875b2" stroke="#c0509a" stroke-width="0.65" fill-opacity="0.9"/>
<circle cx="450.50" cy="61.00" r="1.20" fill="#d875b2" stroke="#c0509a" stroke-width="0.65" fill-opacity="0.9"/>
<circle cx="465.00" cy="36.50" r="1.75" fill="#d875b2" stroke="#c0509a" stroke-width="0.65" fill-opacity="0.9"/>
<circle cx="385.80" cy="90.80" r="1.40" fill="#237888" stroke="#214a7a" stroke-width="0.4" fill-opacity="0.95"/>
<circle cx="455.00" cy="41.00" r="1.20" fill="#d875b2" stroke="#c0509a" stroke-width="0.65" fill-opacity="0.9"/>
<circle cx="436.40" cy="57.60" r="1.95" fill="#2c5c96" stroke="#214a7a" stroke-width="0.4" fill-opacity="0.95"/>
<circle cx="453.70" cy="51.40" r="1.40" fill="#2c5c96" stroke="#214a7a" stroke-width="0.4" fill-opacity="0.95"/>
<circle cx="465.40" cy="66.20" r="1.20" fill="#d875b2" stroke="#c0509a" stroke-width="0.65" fill-opacity="0.9"/>
<circle cx="464.00" cy="33.00" r="1.75" fill="#d875b2" stroke="#c0509a" stroke-width="0.65" fill-opacity="0.9"/>
<circle cx="460.80" cy="63.10" r="1.05" fill="#2c5c96" stroke="#214a7a" stroke-width="0.4" fill-opacity="0.95"/>
<circle cx="446.90" cy="70.80" r="1.95" fill="#237888" stroke="#214a7a" stroke-width="0.4" fill-opacity="0.95"/>
<circle cx="384.10" cy="110.30" r="1.05" fill="#2c5c96" stroke="#214a7a" stroke-width="0.4" fill-opacity="0.95"/>
<circle cx="452.50" cy="42.50" r="1.05" fill="#2c5c96" stroke="#214a7a" stroke-width="0.4" fill-opacity="0.95"/>
<circle cx="447.00" cy="50.00" r="1.20" fill="#d875b2" stroke="#c0509a" stroke-width="0.65" fill-opacity="0.9"/>
<circle cx="376.60" cy="112.30" r="1.05" fill="#2c5c96" stroke="#214a7a" stroke-width="0.4" fill-opacity="0.95"/>
<circle cx="344.10" cy="132.75" r="1.05" fill="#2c5c96" stroke="#214a7a" stroke-width="0.4" fill-opacity="0.95"/>
<circle cx="444.40" cy="98.00" r="1.40" fill="#2c5c96" stroke="#214a7a" stroke-width="0.4" fill-opacity="0.95"/>
<circle cx="378.40" cy="95.10" r="0.85" fill="#d875b2" stroke="#c0509a" stroke-width="0.65" fill-opacity="0.9"/>
<circle cx="376.30" cy="77.10" r="1.20" fill="#d875b2" stroke="#c0509a" stroke-width="0.65" fill-opacity="0.9"/>
<circle cx="365.60" cy="89.20" r="1.05" fill="#2c5c96" stroke="#214a7a" stroke-width="0.4" fill-opacity="0.95"/>
<circle cx="453.80" cy="64.60" r="1.20" fill="#d875b2" stroke="#c0509a" stroke-width="0.65" fill-opacity="0.9"/>
<circle cx="464.00" cy="61.50" r="1.40" fill="#2c5c96" stroke="#214a7a" stroke-width="0.4" fill-opacity="0.95"/>
<circle cx="442.60" cy="51.00" r="1.40" fill="#2c5c96" stroke="#214a7a" stroke-width="0.4" fill-opacity="0.95"/>
<circle cx="469.90" cy="53.30" r="0.85" fill="#d875b2" stroke="#c0509a" stroke-width="0.65" fill-opacity="0.9"/>
<circle cx="440.10" cy="84.90" r="1.05" fill="#2c5c96" stroke="#214a7a" stroke-width="0.4" fill-opacity="0.95"/>
<circle cx="380.60" cy="64.00" r="1.40" fill="#237888" stroke="#214a7a" stroke-width="0.4" fill-opacity="0.95"/>
<circle cx="436.80" cy="65.70" r="1.40" fill="#2c5c96" stroke="#214a7a" stroke-width="0.4" fill-opacity="0.95"/>
<circle cx="437.50" cy="62.50" r="1.40" fill="#2c5c96" stroke="#214a7a" stroke-width="0.4" fill-opacity="0.95"/>
<circle cx="382.40" cy="88.10" r="1.05" fill="#2c5c96" stroke="#214a7a" stroke-width="0.4" fill-opacity="0.95"/>
<circle cx="468.50" cy="31.50" r="1.75" fill="#d875b2" stroke="#c0509a" stroke-width="0.65" fill-opacity="0.9"/>
<circle cx="434.60" cy="76.90" r="1.20" fill="#d875b2" stroke="#c0509a" stroke-width="0.65" fill-opacity="0.9"/>
<circle cx="442.00" cy="48.50" r="1.20" fill="#d875b2" stroke="#c0509a" stroke-width="0.65" fill-opacity="0.9"/>
<circle cx="367.90" cy="27.10" r="1.05" fill="#2c5c96" stroke="#214a7a" stroke-width="0.4" fill-opacity="0.95"/>
<circle cx="373.10" cy="66.30" r="1.05" fill="#2c5c96" stroke="#214a7a" stroke-width="0.4" fill-opacity="0.95"/>
<circle cx="397.20" cy="100.20" r="1.40" fill="#2c5c96" stroke="#214a7a" stroke-width="0.4" fill-opacity="0.95"/>
<circle cx="462.50" cy="87.90" r="1.40" fill="#2c5c96" stroke="#214a7a" stroke-width="0.4" fill-opacity="0.95"/>
<circle cx="380.00" cy="98.60" r="0.85" fill="#d875b2" stroke="#c0509a" stroke-width="0.65" fill-opacity="0.9"/>
<circle cx="462.10" cy="68.40" r="1.20" fill="#d875b2" stroke="#c0509a" stroke-width="0.65" fill-opacity="0.9"/>
<circle cx="453.50" cy="52.40" r="1.40" fill="#2c5c96" stroke="#214a7a" stroke-width="0.4" fill-opacity="0.95"/>
<circle cx="455.20" cy="71.90" r="1.20" fill="#d875b2" stroke="#c0509a" stroke-width="0.65" fill-opacity="0.9"/>
<circle cx="475.00" cy="35.00" r="1.20" fill="#d875b2" stroke="#c0509a" stroke-width="0.65" fill-opacity="0.9"/>
<circle cx="447.00" cy="54.00" r="1.20" fill="#d875b2" stroke="#c0509a" stroke-width="0.65" fill-opacity="0.9"/>
<circle cx="437.70" cy="60.80" r="1.20" fill="#d875b2" stroke="#c0509a" stroke-width="0.65" fill-opacity="0.9"/>
<circle cx="460.80" cy="86.60" r="1.40" fill="#2c5c96" stroke="#214a7a" stroke-width="0.4" fill-opacity="0.95"/>
<circle cx="441.50" cy="66.90" r="1.20" fill="#d875b2" stroke="#c0509a" stroke-width="0.65" fill-opacity="0.9"/>
<circle cx="458.00" cy="42.50" r="1.20" fill="#d875b2" stroke="#c0509a" stroke-width="0.65" fill-opacity="0.9"/>
<circle cx="452.00" cy="66.00" r="1.20" fill="#d875b2" stroke="#c0509a" stroke-width="0.65" fill-opacity="0.9"/>
<circle cx="380.20" cy="70.10" r="1.05" fill="#2c5c96" stroke="#214a7a" stroke-width="0.4" fill-opacity="0.95"/>
<circle cx="464.70" cy="52.00" r="1.05" fill="#2c5c96" stroke="#214a7a" stroke-width="0.4" fill-opacity="0.95"/>
<circle cx="366.00" cy="53.30" r="1.05" fill="#2c5c96" stroke="#214a7a" stroke-width="0.4" fill-opacity="0.95"/>
<circle cx="434.30" cy="77.10" r="0.85" fill="#d875b2" stroke="#c0509a" stroke-width="0.65" fill-opacity="0.9"/>
<circle cx="386.40" cy="93.50" r="1.05" fill="#237888" stroke="#214a7a" stroke-width="0.4" fill-opacity="0.95"/>
<circle cx="424.60" cy="90.60" r="1.05" fill="#2c5c96" stroke="#214a7a" stroke-width="0.4" fill-opacity="0.95"/>
<circle cx="430.80" cy="61.50" r="1.40" fill="#2c5c96" stroke="#214a7a" stroke-width="0.4" fill-opacity="0.95"/>
<circle cx="379.70" cy="87.80" r="0.85" fill="#d875b2" stroke="#c0509a" stroke-width="0.65" fill-opacity="0.9"/>
<circle cx="350.90" cy="75.60" r="1.05" fill="#2c5c96" stroke="#214a7a" stroke-width="0.4" fill-opacity="0.95"/>
<circle cx="455.00" cy="66.00" r="1.05" fill="#2c5c96" stroke="#214a7a" stroke-width="0.4" fill-opacity="0.95"/>
<circle cx="442.00" cy="58.00" r="1.20" fill="#d875b2" stroke="#c0509a" stroke-width="0.65" fill-opacity="0.9"/>
<circle cx="424.80" cy="64.50" r="1.75" fill="#d875b2" stroke="#c0509a" stroke-width="0.65" fill-opacity="0.9"/>
<circle cx="387.40" cy="97.50" r="1.05" fill="#2c5c96" stroke="#214a7a" stroke-width="0.4" fill-opacity="0.95"/>
<circle cx="434.30" cy="67.00" r="1.40" fill="#2c5c96" stroke="#214a7a" stroke-width="0.4" fill-opacity="0.95"/>
<circle cx="380.60" cy="83.10" r="1.05" fill="#2c5c96" stroke="#214a7a" stroke-width="0.4" fill-opacity="0.95"/>
<circle cx="380.80" cy="118.80" r="0.85" fill="#d875b2" stroke="#c0509a" stroke-width="0.65" fill-opacity="0.9"/>
<circle cx="434.30" cy="59.50" r="1.20" fill="#d875b2" stroke="#c0509a" stroke-width="0.65" fill-opacity="0.9"/>
<circle cx="440.10" cy="41.90" r="1.05" fill="#2c5c96" stroke="#214a7a" stroke-width="0.4" fill-opacity="0.95"/>
<circle cx="373.60" cy="78.80" r="1.05" fill="#2c5c96" stroke="#214a7a" stroke-width="0.4" fill-opacity="0.95"/>
<circle cx="472.50" cy="30.00" r="1.75" fill="#d875b2" stroke="#c0509a" stroke-width="0.65" fill-opacity="0.9"/>
<circle cx="396.70" cy="79.00" r="1.05" fill="#2c5c96" stroke="#214a7a" stroke-width="0.4" fill-opacity="0.95"/>
<circle cx="414.10" cy="50.40" r="1.20" fill="#d875b2" stroke="#c0509a" stroke-width="0.65" fill-opacity="0.9"/>
<circle cx="368.20" cy="70.60" r="1.05" fill="#2c5c96" stroke="#214a7a" stroke-width="0.4" fill-opacity="0.95"/>
<circle cx="471.20" cy="29.10" r="1.75" fill="#d875b2" stroke="#c0509a" stroke-width="0.65" fill-opacity="0.9"/>
<circle cx="453.10" cy="74.60" r="1.40" fill="#237888" stroke="#214a7a" stroke-width="0.4" fill-opacity="0.95"/>
<circle cx="462.00" cy="34.00" r="1.20" fill="#d875b2" stroke="#c0509a" stroke-width="0.65" fill-opacity="0.9"/>
<circle cx="433.90" cy="58.40" r="1.20" fill="#d875b2" stroke="#c0509a" stroke-width="0.65" fill-opacity="0.9"/>
<circle cx="378.80" cy="76.10" r="1.05" fill="#2c5c96" stroke="#214a7a" stroke-width="0.4" fill-opacity="0.95"/>
<circle cx="377.10" cy="79.00" r="0.85" fill="#d875b2" stroke="#c0509a" stroke-width="0.65" fill-opacity="0.9"/>
<circle cx="418.20" cy="82.70" r="0.85" fill="#d875b2" stroke="#c0509a" stroke-width="0.65" fill-opacity="0.9"/>
<circle cx="435.00" cy="59.50" r="1.40" fill="#2c5c96" stroke="#214a7a" stroke-width="0.4" fill-opacity="0.95"/>
<circle cx="452.00" cy="72.50" r="1.05" fill="#2c5c96" stroke="#214a7a" stroke-width="0.4" fill-opacity="0.95"/>
<circle cx="442.30" cy="51.50" r="1.40" fill="#2c5c96" stroke="#214a7a" stroke-width="0.4" fill-opacity="0.95"/>
<circle cx="378.30" cy="80.80" r="1.05" fill="#2c5c96" stroke="#214a7a" stroke-width="0.4" fill-opacity="0.95"/>
<circle cx="463.80" cy="60.80" r="1.40" fill="#237888" stroke="#214a7a" stroke-width="0.4" fill-opacity="0.95"/>
<circle cx="441.00" cy="62.00" r="1.40" fill="#2c5c96" stroke="#214a7a" stroke-width="0.4" fill-opacity="0.95"/>
<circle cx="366.90" cy="97.50" r="1.05" fill="#2c5c96" stroke="#214a7a" stroke-width="0.4" fill-opacity="0.95"/>
<circle cx="371.60" cy="95.50" r="1.05" fill="#237888" stroke="#214a7a" stroke-width="0.4" fill-opacity="0.95"/>
<circle cx="438.00" cy="81.90" r="0.85" fill="#d875b2" stroke="#c0509a" stroke-width="0.65" fill-opacity="0.9"/>
<circle cx="424.00" cy="51.20" r="1.20" fill="#d875b2" stroke="#c0509a" stroke-width="0.65" fill-opacity="0.9"/>
<circle cx="385.80" cy="75.20" r="1.05" fill="#2c5c96" stroke="#214a7a" stroke-width="0.4" fill-opacity="0.95"/>
<circle cx="463.80" cy="42.30" r="1.40" fill="#2c5c96" stroke="#214a7a" stroke-width="0.4" fill-opacity="0.95"/>
<circle cx="373.60" cy="90.50" r="1.20" fill="#d875b2" stroke="#c0509a" stroke-width="0.65" fill-opacity="0.9"/>
<circle cx="458.00" cy="65.50" r="1.20" fill="#d875b2" stroke="#c0509a" stroke-width="0.65" fill-opacity="0.9"/>
<circle cx="372.50" cy="75.20" r="1.05" fill="#2c5c96" stroke="#214a7a" stroke-width="0.4" fill-opacity="0.95"/>
<circle cx="380.60" cy="102.90" r="0.85" fill="#d875b2" stroke="#c0509a" stroke-width="0.65" fill-opacity="0.9"/>
<circle cx="465.60" cy="65.60" r="1.20" fill="#d875b2" stroke="#c0509a" stroke-width="0.65" fill-opacity="0.9"/>
<circle cx="388.70" cy="85.40" r="0.85" fill="#d875b2" stroke="#c0509a" stroke-width="0.65" fill-opacity="0.9"/>
<circle cx="455.50" cy="64.00" r="1.20" fill="#d875b2" stroke="#c0509a" stroke-width="0.65" fill-opacity="0.9"/>
<circle cx="455.40" cy="71.50" r="1.20" fill="#d875b2" stroke="#c0509a" stroke-width="0.65" fill-opacity="0.9"/>
<circle cx="376.60" cy="100.50" r="0.85" fill="#d875b2" stroke="#c0509a" stroke-width="0.65" fill-opacity="0.9"/>
<circle cx="369.00" cy="77.30" r="0.85" fill="#d875b2" stroke="#c0509a" stroke-width="0.65" fill-opacity="0.9"/>
<circle cx="445.50" cy="75.70" r="1.20" fill="#d875b2" stroke="#c0509a" stroke-width="0.65" fill-opacity="0.9"/>
<circle cx="373.90" cy="53.70" r="1.95" fill="#2c5c96" stroke="#214a7a" stroke-width="0.4" fill-opacity="0.95"/>
<circle cx="368.50" cy="82.10" r="0.85" fill="#d875b2" stroke="#c0509a" stroke-width="0.65" fill-opacity="0.9"/>
<circle cx="353.50" cy="86.10" r="1.05" fill="#2c5c96" stroke="#214a7a" stroke-width="0.4" fill-opacity="0.95"/>
<circle cx="449.50" cy="55.00" r="1.20" fill="#d875b2" stroke="#c0509a" stroke-width="0.65" fill-opacity="0.9"/>
<circle cx="378.00" cy="105.60" r="0.85" fill="#d875b2" stroke="#c0509a" stroke-width="0.65" fill-opacity="0.9"/>
<circle cx="364.80" cy="69.20" r="1.05" fill="#2c5c96" stroke="#214a7a" stroke-width="0.4" fill-opacity="0.95"/>
<circle cx="453.10" cy="51.50" r="1.40" fill="#2c5c96" stroke="#214a7a" stroke-width="0.4" fill-opacity="0.95"/>
<circle cx="389.50" cy="87.80" r="0.85" fill="#d875b2" stroke="#c0509a" stroke-width="0.65" fill-opacity="0.9"/>
<circle cx="389.80" cy="78.20" r="1.20" fill="#d875b2" stroke="#c0509a" stroke-width="0.65" fill-opacity="0.9"/>
<circle cx="368.90" cy="101.30" r="1.05" fill="#2c5c96" stroke="#214a7a" stroke-width="0.4" fill-opacity="0.95"/>
<circle cx="449.00" cy="64.50" r="1.20" fill="#d875b2" stroke="#c0509a" stroke-width="0.65" fill-opacity="0.9"/>
<circle cx="472.90" cy="38.20" r="1.20" fill="#d875b2" stroke="#c0509a" stroke-width="0.65" fill-opacity="0.9"/>
<circle cx="456.00" cy="45.50" r="1.20" fill="#d875b2" stroke="#c0509a" stroke-width="0.65" fill-opacity="0.9"/>
<circle cx="407.30" cy="105.60" r="0.70" fill="#999"/>
<line x1="331.20" y1="79.00" x2="331.20" y2="36.20" stroke="#8a8a8a" stroke-width="1.4" />
<polygon points="328.60,36.70 333.80,36.70 331.20,31.70" fill="#000"/>
<line x1="331.20" y1="86.60" x2="331.20" y2="131.80" stroke="#8a8a8a" stroke-width="1.4" />
<polygon points="328.60,131.30 333.80,131.30 331.20,136.30" fill="#000"/>
<line x1="404.30" y1="145.20" x2="355.00" y2="145.20" stroke="#111" stroke-width="0.9" />
<polygon points="355.50,142.70 355.50,147.70 350.50,145.20" fill="#000"/>
<line x1="416.30" y1="145.20" x2="465.50" y2="145.20" stroke="#111" stroke-width="0.9" />
<polygon points="465.00,142.70 465.00,147.70 470.00,145.20" fill="#000"/>
<text x="327.20" y="56.20" font-size="7.2" fill="#333" text-anchor="middle" textLength="40.4" lengthAdjust="spacingAndGlyphs" transform="rotate(-90 327.20 56.20)" stroke="#333" stroke-width="0.24">More T<tspan font-size="4.8" dy="1.6">EM</tspan><tspan dy="-1.6"> -like</tspan></text>
<text x="327.20" y="108.50" font-size="7.2" fill="#333" text-anchor="middle" textLength="42.2" lengthAdjust="spacingAndGlyphs" transform="rotate(-90 327.20 108.50)" stroke="#333" stroke-width="0.24">Less T<tspan font-size="4.8" dy="1.6">EM</tspan><tspan dy="-1.6"> -like</tspan></text>
<text x="377.50" y="154.60" font-size="7.0" fill="#333" text-anchor="middle"  stroke="#333" stroke-width="0.24">CD4</text>
<text x="442.50" y="154.60" font-size="7.0" fill="#333" text-anchor="middle"  stroke="#333" stroke-width="0.24">CD8</text>
<circle cx="493.80" cy="95.90" r="1.50" fill="#d875b2" stroke="#c0509a" stroke-width="0.4"/>
<text x="498.60" y="98.30" font-size="6.6" fill="#333" text-anchor="start"  stroke="#333" stroke-width="0.24">R</text>
<circle cx="493.80" cy="105.40" r="1.50" fill="#2c5c96" stroke="#214a7a" stroke-width="0.4"/>
<text x="498.60" y="107.80" font-size="6.6" fill="#333" text-anchor="start"  stroke="#333" stroke-width="0.24">NR</text>
<text x="492.30" y="120.90" font-size="6.6" fill="#333" text-anchor="start" textLength="20.5" lengthAdjust="spacingAndGlyphs"  stroke="#333" stroke-width="0.24">% of IP</text>
<circle cx="495.50" cy="127.40" r="2.00" fill="#8c8c8c" stroke="#222" stroke-width="0.7"/>
<text x="501.30" y="129.70" font-size="6.6" fill="#333" text-anchor="start"  stroke="#333" stroke-width="0.24">10</text>
<circle cx="495.50" cy="135.90" r="2.40" fill="#8c8c8c" stroke="#222" stroke-width="0.7"/>
<text x="501.30" y="138.20" font-size="6.6" fill="#333" text-anchor="start"  stroke="#333" stroke-width="0.24">20</text>
<circle cx="495.50" cy="144.50" r="2.75" fill="#8c8c8c" stroke="#222" stroke-width="0.7"/>
<text x="501.30" y="146.80" font-size="6.6" fill="#333" text-anchor="start"  stroke="#333" stroke-width="0.24">30</text>
<rect x="50.20" y="265.15" width="1.76" height="8.85" fill="#1cafe1" />
<rect x="50.20" y="247.45" width="1.76" height="17.70" fill="#1ca383" />
<rect x="50.20" y="209.10" width="1.76" height="38.35" fill="#ea6a62" />
<rect x="52.21" y="226.80" width="1.76" height="47.20" fill="#8c7ec9" />
<rect x="52.21" y="217.95" width="1.76" height="8.85" fill="#1cafe1" />
<rect x="54.22" y="220.90" width="1.76" height="53.10" fill="#8c7ec9" />
<rect x="54.22" y="217.95" width="1.76" height="2.95" fill="#ea6a62" />
<rect x="56.23" y="226.80" width="1.76" height="47.20" fill="#8c7ec9" />
<rect x="56.23" y="220.90" width="1.76" height="5.90" fill="#ea6a62" />
<rect x="58.24" y="232.70" width="1.76" height="41.30" fill="#8c7ec9" />
<rect x="58.24" y="223.85" width="1.76" height="8.85" fill="#1cafe1" />
<rect x="60.25" y="238.60" width="1.76" height="35.40" fill="#8c7ec9" />
<rect x="60.25" y="229.75" width="1.76" height="8.85" fill="#1cafe1" />
<rect x="62.26" y="235.65" width="1.76" height="38.35" fill="#8c7ec9" />
<rect x="64.27" y="253.35" width="1.76" height="20.65" fill="#8c7ec9" />
<rect x="64.27" y="247.45" width="1.76" height="5.90" fill="#1cafe1" />
<rect x="66.27" y="247.45" width="1.76" height="26.55" fill="#8c7ec9" />
<rect x="68.28" y="253.35" width="1.76" height="20.65" fill="#8c7ec9" />
<rect x="68.28" y="250.40" width="1.76" height="2.95" fill="#ea6a62" />
<rect x="70.29" y="250.40" width="1.76" height="23.60" fill="#8c7ec9" />
<rect x="72.30" y="256.30" width="1.76" height="17.70" fill="#8c7ec9" />
<rect x="72.30" y="250.40" width="1.76" height="5.90" fill="#1cafe1" />
<rect x="74.31" y="250.40" width="1.76" height="23.60" fill="#8c7ec9" />
<rect x="76.32" y="256.30" width="1.76" height="17.70" fill="#8c7ec9" />
<rect x="76.32" y="253.35" width="1.76" height="2.95" fill="#ea6a62" />
<rect x="78.33" y="253.35" width="1.76" height="20.65" fill="#8c7ec9" />
<rect x="80.34" y="259.25" width="1.76" height="14.75" fill="#8c7ec9" />
<rect x="80.34" y="253.35" width="1.76" height="5.90" fill="#1cafe1" />
<rect x="82.35" y="259.25" width="1.76" height="14.75" fill="#8c7ec9" />
<rect x="82.35" y="256.30" width="1.76" height="2.95" fill="#ea6a62" />
<rect x="84.36" y="256.30" width="1.76" height="17.70" fill="#8c7ec9" />
<rect x="86.37" y="262.20" width="1.76" height="11.80" fill="#8c7ec9" />
<rect x="86.37" y="259.25" width="1.76" height="2.95" fill="#ea6a62" />
<rect x="88.38" y="262.20" width="1.76" height="11.80" fill="#8c7ec9" />
<rect x="88.38" y="259.25" width="1.76" height="2.95" fill="#ea6a62" />
<rect x="90.39" y="265.15" width="1.76" height="8.85" fill="#8c7ec9" />
<rect x="90.39" y="259.25" width="1.76" height="5.90" fill="#1cafe1" />
<rect x="92.40" y="259.25" width="1.76" height="14.75" fill="#8c7ec9" />
<rect x="94.40" y="262.20" width="1.76" height="11.80" fill="#8c7ec9" />
<rect x="94.40" y="259.25" width="1.76" height="2.95" fill="#ea6a62" />
<rect x="96.41" y="262.20" width="1.76" height="11.80" fill="#8c7ec9" />
<rect x="98.42" y="268.10" width="1.76" height="5.90" fill="#8c7ec9" />
<rect x="98.42" y="262.20" width="1.76" height="5.90" fill="#1cafe1" />
<rect x="100.43" y="262.20" width="1.76" height="11.80" fill="#8c7ec9" />
<rect x="102.44" y="265.15" width="1.76" height="8.85" fill="#8c7ec9" />
<rect x="102.44" y="262.20" width="1.76" height="2.95" fill="#ea6a62" />
<rect x="104.45" y="262.20" width="1.76" height="11.80" fill="#8c7ec9" />
<rect x="106.46" y="262.20" width="1.76" height="11.80" fill="#8c7ec9" />
<rect x="108.47" y="265.15" width="1.76" height="8.85" fill="#8c7ec9" />
<rect x="108.47" y="262.20" width="1.76" height="2.95" fill="#ea6a62" />
<rect x="110.48" y="265.15" width="1.76" height="8.85" fill="#8c7ec9" />
<rect x="112.49" y="265.15" width="1.76" height="8.85" fill="#8c7ec9" />
<rect x="114.50" y="268.10" width="1.76" height="5.90" fill="#8c7ec9" />
<rect x="114.50" y="265.15" width="1.76" height="2.95" fill="#ea6a62" />
<rect x="116.51" y="265.15" width="1.76" height="8.85" fill="#8c7ec9" />
<rect x="118.52" y="265.15" width="1.76" height="8.85" fill="#8c7ec9" />
<rect x="120.53" y="271.05" width="1.76" height="2.95" fill="#8c7ec9" />
<rect x="120.53" y="265.15" width="1.76" height="5.90" fill="#1cafe1" />
<rect x="122.53" y="265.15" width="1.76" height="8.85" fill="#8c7ec9" />
<rect x="124.54" y="265.15" width="1.76" height="8.85" fill="#8c7ec9" />
<rect x="126.55" y="268.10" width="1.76" height="5.90" fill="#8c7ec9" />
<rect x="126.55" y="265.15" width="1.76" height="2.95" fill="#ea6a62" />
<rect x="128.56" y="265.15" width="1.76" height="8.85" fill="#8c7ec9" />
<rect x="130.57" y="271.05" width="1.76" height="2.95" fill="#8c7ec9" />
<rect x="130.57" y="265.15" width="1.76" height="5.90" fill="#1cafe1" />
<rect x="132.58" y="265.15" width="1.76" height="8.85" fill="#8c7ec9" />
<rect x="134.59" y="265.15" width="1.76" height="8.85" fill="#8c7ec9" />
<line x1="48.20" y1="215.00" x2="51.10" y2="215.00" stroke="#222" stroke-width="0.9" />
<text x="44.50" y="217.45" font-size="6.9" fill="#333" text-anchor="end" textLength="6.8" lengthAdjust="spacingAndGlyphs"  stroke="#333" stroke-width="0.24">20</text>
<line x1="48.20" y1="229.75" x2="51.10" y2="229.75" stroke="#222" stroke-width="0.9" />
<text x="44.50" y="232.20" font-size="6.9" fill="#333" text-anchor="end" textLength="6.8" lengthAdjust="spacingAndGlyphs"  stroke="#333" stroke-width="0.24">15</text>
<line x1="48.20" y1="244.50" x2="51.10" y2="244.50" stroke="#222" stroke-width="0.9" />
<text x="44.50" y="246.95" font-size="6.9" fill="#333" text-anchor="end" textLength="6.8" lengthAdjust="spacingAndGlyphs"  stroke="#333" stroke-width="0.24">10</text>
<line x1="48.20" y1="259.25" x2="51.10" y2="259.25" stroke="#222" stroke-width="0.9" />
<text x="44.50" y="261.70" font-size="6.9" fill="#333" text-anchor="end" textLength="3.4" lengthAdjust="spacingAndGlyphs"  stroke="#333" stroke-width="0.24">5</text>
<line x1="48.20" y1="274.00" x2="51.10" y2="274.00" stroke="#222" stroke-width="0.9" />
<text x="44.50" y="276.45" font-size="6.9" fill="#333" text-anchor="end" textLength="3.4" lengthAdjust="spacingAndGlyphs"  stroke="#333" stroke-width="0.24">0</text>
<line x1="51.20" y1="274.00" x2="51.20" y2="277.10" stroke="#111" stroke-width="0.95" />
<line x1="53.21" y1="274.00" x2="53.21" y2="277.10" stroke="#111" stroke-width="0.95" />
<line x1="55.22" y1="274.00" x2="55.22" y2="277.10" stroke="#111" stroke-width="0.95" />
<line x1="57.23" y1="274.00" x2="57.23" y2="277.10" stroke="#111" stroke-width="0.95" />
<line x1="59.24" y1="274.00" x2="59.24" y2="277.10" stroke="#111" stroke-width="0.95" />
<line x1="61.25" y1="274.00" x2="61.25" y2="277.10" stroke="#111" stroke-width="0.95" />
<line x1="63.26" y1="274.00" x2="63.26" y2="277.10" stroke="#111" stroke-width="0.95" />
<line x1="65.27" y1="274.00" x2="65.27" y2="277.10" stroke="#111" stroke-width="0.95" />
<line x1="67.28" y1="274.00" x2="67.28" y2="277.10" stroke="#111" stroke-width="0.95" />
<line x1="69.29" y1="274.00" x2="69.29" y2="277.10" stroke="#111" stroke-width="0.95" />
<line x1="71.30" y1="274.00" x2="71.30" y2="277.10" stroke="#111" stroke-width="0.95" />
<line x1="73.31" y1="274.00" x2="73.31" y2="277.10" stroke="#111" stroke-width="0.95" />
<line x1="75.32" y1="274.00" x2="75.32" y2="277.10" stroke="#111" stroke-width="0.95" />
<line x1="77.33" y1="274.00" x2="77.33" y2="277.10" stroke="#111" stroke-width="0.95" />
<line x1="79.33" y1="274.00" x2="79.33" y2="277.10" stroke="#111" stroke-width="0.95" />
<line x1="81.34" y1="274.00" x2="81.34" y2="277.10" stroke="#111" stroke-width="0.95" />
<line x1="83.35" y1="274.00" x2="83.35" y2="277.10" stroke="#111" stroke-width="0.95" />
<line x1="85.36" y1="274.00" x2="85.36" y2="277.10" stroke="#111" stroke-width="0.95" />
<line x1="87.37" y1="274.00" x2="87.37" y2="277.10" stroke="#111" stroke-width="0.95" />
<line x1="89.38" y1="274.00" x2="89.38" y2="277.10" stroke="#111" stroke-width="0.95" />
<line x1="91.39" y1="274.00" x2="91.39" y2="277.10" stroke="#111" stroke-width="0.95" />
<line x1="93.40" y1="274.00" x2="93.40" y2="277.10" stroke="#111" stroke-width="0.95" />
<line x1="95.41" y1="274.00" x2="95.41" y2="277.10" stroke="#111" stroke-width="0.95" />
<line x1="97.42" y1="274.00" x2="97.42" y2="277.10" stroke="#111" stroke-width="0.95" />
<line x1="99.43" y1="274.00" x2="99.43" y2="277.10" stroke="#111" stroke-width="0.95" />
<line x1="101.44" y1="274.00" x2="101.44" y2="277.10" stroke="#111" stroke-width="0.95" />
<line x1="103.45" y1="274.00" x2="103.45" y2="277.10" stroke="#111" stroke-width="0.95" />
<line x1="105.46" y1="274.00" x2="105.46" y2="277.10" stroke="#111" stroke-width="0.95" />
<line x1="107.47" y1="274.00" x2="107.47" y2="277.10" stroke="#111" stroke-width="0.95" />
<line x1="109.47" y1="274.00" x2="109.47" y2="277.10" stroke="#111" stroke-width="0.95" />
<line x1="111.48" y1="274.00" x2="111.48" y2="277.10" stroke="#111" stroke-width="0.95" />
<line x1="113.49" y1="274.00" x2="113.49" y2="277.10" stroke="#111" stroke-width="0.95" />
<line x1="115.50" y1="274.00" x2="115.50" y2="277.10" stroke="#111" stroke-width="0.95" />
<line x1="117.51" y1="274.00" x2="117.51" y2="277.10" stroke="#111" stroke-width="0.95" />
<line x1="119.52" y1="274.00" x2="119.52" y2="277.10" stroke="#111" stroke-width="0.95" />
<line x1="121.53" y1="274.00" x2="121.53" y2="277.10" stroke="#111" stroke-width="0.95" />
<line x1="123.54" y1="274.00" x2="123.54" y2="277.10" stroke="#111" stroke-width="0.95" />
<line x1="125.55" y1="274.00" x2="125.55" y2="277.10" stroke="#111" stroke-width="0.95" />
<line x1="127.56" y1="274.00" x2="127.56" y2="277.10" stroke="#111" stroke-width="0.95" />
<line x1="129.57" y1="274.00" x2="129.57" y2="277.10" stroke="#111" stroke-width="0.95" />
<line x1="131.58" y1="274.00" x2="131.58" y2="277.10" stroke="#111" stroke-width="0.95" />
<line x1="133.59" y1="274.00" x2="133.59" y2="277.10" stroke="#111" stroke-width="0.95" />
<line x1="135.60" y1="274.00" x2="135.60" y2="277.10" stroke="#111" stroke-width="0.95" />
<line x1="51.10" y1="208.80" x2="51.10" y2="274.40" stroke="#1c1c1c" stroke-width="1.0" />
<line x1="50.70" y1="274.00" x2="136.60" y2="274.00" stroke="#1c1c1c" stroke-width="1.0" />
<text x="93.55" y="203.50" font-size="8.6" fill="#1a1a1a" text-anchor="middle" textLength="32.7" lengthAdjust="spacingAndGlyphs"  stroke="#1a1a1a" stroke-width="0.12">Axi-R-15</text>
<text x="93.85" y="288.20" font-size="8.6" fill="#333" text-anchor="middle" textLength="26" lengthAdjust="spacingAndGlyphs"  stroke="#333" stroke-width="0.12">Clone ID</text>
<rect x="159.50" y="259.70" width="1.00" height="14.30" fill="#8c7ec9" />
<rect x="159.50" y="226.81" width="1.00" height="32.89" fill="#1cafe1" />
<rect x="160.50" y="242.54" width="1.00" height="31.46" fill="#8c7ec9" />
<rect x="160.50" y="235.39" width="1.00" height="7.15" fill="#1cafe1" />
<rect x="161.50" y="263.99" width="1.00" height="10.01" fill="#8c7ec9" />
<rect x="161.50" y="242.54" width="1.00" height="21.45" fill="#1cafe1" />
<rect x="162.50" y="252.55" width="1.00" height="21.45" fill="#8c7ec9" />
<rect x="162.50" y="246.83" width="1.00" height="5.72" fill="#1cafe1" />
<rect x="163.50" y="266.85" width="1.00" height="7.15" fill="#8c7ec9" />
<rect x="163.50" y="249.69" width="1.00" height="17.16" fill="#1cafe1" />
<rect x="164.50" y="258.27" width="1.00" height="15.73" fill="#8c7ec9" />
<rect x="164.50" y="253.98" width="1.00" height="4.29" fill="#1cafe1" />
<rect x="165.50" y="268.28" width="1.00" height="5.72" fill="#8c7ec9" />
<rect x="165.50" y="256.84" width="1.00" height="11.44" fill="#1cafe1" />
<rect x="166.50" y="262.56" width="1.00" height="11.44" fill="#8c7ec9" />
<rect x="166.50" y="259.70" width="1.00" height="2.86" fill="#1cafe1" />
<rect x="167.50" y="269.71" width="1.00" height="4.29" fill="#8c7ec9" />
<rect x="167.50" y="261.13" width="1.00" height="8.58" fill="#1cafe1" />
<rect x="168.50" y="265.42" width="1.00" height="8.58" fill="#8c7ec9" />
<rect x="168.50" y="262.56" width="1.00" height="2.86" fill="#1cafe1" />
<rect x="169.50" y="262.56" width="1.00" height="11.44" fill="#8c7ec9" />
<rect x="170.50" y="263.99" width="1.00" height="10.01" fill="#8c7ec9" />
<rect x="171.50" y="263.99" width="1.00" height="10.01" fill="#ea6a62" />
<rect x="172.50" y="263.99" width="1.00" height="10.01" fill="#8c7ec9" />
<rect x="173.50" y="263.99" width="1.00" height="10.01" fill="#8c7ec9" />
<rect x="174.50" y="265.42" width="1.00" height="8.58" fill="#c49614" />
<rect x="175.50" y="265.42" width="1.00" height="8.58" fill="#8c7ec9" />
<rect x="176.50" y="265.42" width="1.00" height="8.58" fill="#ea6a62" />
<rect x="177.50" y="265.42" width="1.00" height="8.58" fill="#8c7ec9" />
<rect x="178.50" y="265.42" width="1.00" height="8.58" fill="#1cafe1" />
<rect x="179.50" y="265.42" width="1.00" height="8.58" fill="#8c7ec9" />
<rect x="180.50" y="266.85" width="1.00" height="7.15" fill="#8c7ec9" />
<rect x="181.50" y="266.85" width="1.00" height="7.15" fill="#8c7ec9" />
<rect x="182.50" y="266.85" width="1.00" height="7.15" fill="#ea6a62" />
<rect x="183.50" y="266.85" width="1.00" height="7.15" fill="#8c7ec9" />
<rect x="184.50" y="266.85" width="1.00" height="7.15" fill="#8c7ec9" />
<rect x="185.50" y="266.85" width="1.00" height="7.15" fill="#c49614" />
<rect x="186.50" y="266.85" width="1.00" height="7.15" fill="#8c7ec9" />
<rect x="187.50" y="266.85" width="1.00" height="7.15" fill="#ea6a62" />
<rect x="188.50" y="266.85" width="1.00" height="7.15" fill="#8c7ec9" />
<rect x="189.50" y="266.85" width="1.00" height="7.15" fill="#1cafe1" />
<rect x="190.50" y="266.85" width="1.00" height="7.15" fill="#8c7ec9" />
<rect x="191.50" y="268.28" width="1.00" height="5.72" fill="#ea6a62" />
<rect x="192.50" y="268.28" width="1.00" height="5.72" fill="#c49614" />
<rect x="193.50" y="268.28" width="1.00" height="5.72" fill="#8c7ec9" />
<rect x="194.50" y="268.28" width="1.00" height="5.72" fill="#ea6a62" />
<rect x="195.50" y="268.28" width="1.00" height="5.72" fill="#c49614" />
<rect x="196.50" y="268.28" width="1.00" height="5.72" fill="#ea6a62" />
<rect x="197.50" y="268.28" width="1.00" height="5.72" fill="#8c7ec9" />
<rect x="198.50" y="268.28" width="1.00" height="5.72" fill="#c49614" />
<rect x="199.50" y="268.28" width="1.00" height="5.72" fill="#ea6a62" />
<rect x="200.50" y="268.28" width="1.00" height="5.72" fill="#c49614" />
<rect x="201.50" y="268.28" width="1.00" height="5.72" fill="#8c7ec9" />
<rect x="202.50" y="268.28" width="1.00" height="5.72" fill="#ea6a62" />
<rect x="203.50" y="268.28" width="1.00" height="5.72" fill="#c49614" />
<rect x="204.50" y="268.28" width="1.00" height="5.72" fill="#ea6a62" />
<rect x="205.50" y="268.28" width="1.00" height="5.72" fill="#8c7ec9" />
<rect x="206.50" y="268.28" width="1.00" height="5.72" fill="#c49614" />
<rect x="207.50" y="269.71" width="1.00" height="4.29" fill="#ea6a62" />
<rect x="208.50" y="269.71" width="1.00" height="4.29" fill="#c49614" />
<rect x="209.50" y="269.71" width="1.00" height="4.29" fill="#ea6a62" />
<rect x="210.50" y="269.71" width="1.00" height="4.29" fill="#c49614" />
<rect x="211.50" y="269.71" width="1.00" height="4.29" fill="#ea6a62" />
<rect x="212.50" y="269.71" width="1.00" height="4.29" fill="#8c7ec9" />
<rect x="213.50" y="269.71" width="1.00" height="4.29" fill="#c49614" />
<rect x="214.50" y="269.71" width="1.00" height="4.29" fill="#ea6a62" />
<rect x="215.50" y="269.71" width="1.00" height="4.29" fill="#ea6a62" />
<rect x="216.50" y="269.71" width="1.00" height="4.29" fill="#c49614" />
<rect x="217.50" y="269.71" width="1.00" height="4.29" fill="#ea6a62" />
<rect x="218.50" y="269.71" width="1.00" height="4.29" fill="#c49614" />
<rect x="219.50" y="269.71" width="1.00" height="4.29" fill="#ea6a62" />
<rect x="220.50" y="269.71" width="1.00" height="4.29" fill="#8c7ec9" />
<rect x="221.50" y="269.71" width="1.00" height="4.29" fill="#c49614" />
<rect x="222.50" y="269.71" width="1.00" height="4.29" fill="#ea6a62" />
<rect x="223.50" y="269.71" width="1.00" height="4.29" fill="#ea6a62" />
<rect x="224.50" y="269.71" width="1.00" height="4.29" fill="#c49614" />
<rect x="225.50" y="269.71" width="1.00" height="4.29" fill="#1cafe1" />
<rect x="226.50" y="269.71" width="1.00" height="4.29" fill="#8c7ec9" />
<rect x="227.50" y="269.71" width="1.00" height="4.29" fill="#1cafe1" />
<rect x="228.50" y="269.71" width="1.00" height="4.29" fill="#8c7ec9" />
<rect x="229.50" y="269.71" width="1.00" height="4.29" fill="#1cafe1" />
<rect x="230.50" y="269.71" width="1.00" height="4.29" fill="#8c7ec9" />
<rect x="231.50" y="269.71" width="1.00" height="4.29" fill="#1cafe1" />
<rect x="232.50" y="269.71" width="1.00" height="4.29" fill="#c49614" />
<rect x="233.50" y="269.71" width="1.00" height="4.29" fill="#ea6a62" />
<rect x="234.50" y="269.71" width="1.00" height="4.29" fill="#c49614" />
<rect x="235.50" y="269.71" width="1.00" height="4.29" fill="#ea6a62" />
<rect x="236.50" y="269.71" width="1.00" height="4.29" fill="#8c7ec9" />
<rect x="237.50" y="269.71" width="1.00" height="4.29" fill="#c49614" />
<rect x="238.50" y="269.71" width="1.00" height="4.29" fill="#ea6a62" />
<rect x="239.50" y="269.71" width="1.00" height="4.29" fill="#ea6a62" />
<rect x="240.50" y="269.71" width="1.00" height="4.29" fill="#c49614" />
<rect x="241.50" y="269.71" width="1.00" height="4.29" fill="#ea6a62" />
<rect x="242.50" y="269.71" width="1.00" height="4.29" fill="#c49614" />
<rect x="243.50" y="269.71" width="1.00" height="4.29" fill="#ea6a62" />
<rect x="244.50" y="269.71" width="1.00" height="4.29" fill="#8c7ec9" />
<line x1="156.60" y1="216.80" x2="159.50" y2="216.80" stroke="#222" stroke-width="0.9" />
<text x="152.90" y="219.25" font-size="6.9" fill="#333" text-anchor="end" textLength="6.8" lengthAdjust="spacingAndGlyphs"  stroke="#333" stroke-width="0.24">40</text>
<line x1="156.60" y1="231.10" x2="159.50" y2="231.10" stroke="#222" stroke-width="0.9" />
<text x="152.90" y="233.55" font-size="6.9" fill="#333" text-anchor="end" textLength="6.8" lengthAdjust="spacingAndGlyphs"  stroke="#333" stroke-width="0.24">30</text>
<line x1="156.60" y1="245.40" x2="159.50" y2="245.40" stroke="#222" stroke-width="0.9" />
<text x="152.90" y="247.85" font-size="6.9" fill="#333" text-anchor="end" textLength="6.8" lengthAdjust="spacingAndGlyphs"  stroke="#333" stroke-width="0.24">20</text>
<line x1="156.60" y1="259.70" x2="159.50" y2="259.70" stroke="#222" stroke-width="0.9" />
<text x="152.90" y="262.15" font-size="6.9" fill="#333" text-anchor="end" textLength="6.8" lengthAdjust="spacingAndGlyphs"  stroke="#333" stroke-width="0.24">10</text>
<line x1="156.60" y1="274.00" x2="159.50" y2="274.00" stroke="#222" stroke-width="0.9" />
<text x="152.90" y="276.45" font-size="6.9" fill="#333" text-anchor="end" textLength="3.4" lengthAdjust="spacingAndGlyphs"  stroke="#333" stroke-width="0.24">0</text>
<rect x="159.50" y="274.00" width="86.00" height="3.00" fill="#1c1c1c" />
<line x1="159.50" y1="208.80" x2="159.50" y2="274.40" stroke="#1c1c1c" stroke-width="1.0" />
<line x1="159.10" y1="274.00" x2="245.50" y2="274.00" stroke="#1c1c1c" stroke-width="1.0" />
<text x="202.10" y="203.50" font-size="8.6" fill="#1a1a1a" text-anchor="middle" textLength="28.8" lengthAdjust="spacingAndGlyphs"  stroke="#1a1a1a" stroke-width="0.12">Axi-R-1</text>
<text x="202.50" y="288.20" font-size="8.6" fill="#333" text-anchor="middle" textLength="26" lengthAdjust="spacingAndGlyphs"  stroke="#333" stroke-width="0.12">Clone ID</text>
<rect x="268.50" y="220.40" width="2.94" height="53.60" fill="#8c7ec9" />
<rect x="268.50" y="212.36" width="2.94" height="8.04" fill="#1cafe1" />
<rect x="271.79" y="225.76" width="2.94" height="48.24" fill="#8c7ec9" />
<rect x="271.79" y="215.04" width="2.94" height="10.72" fill="#1cafe1" />
<rect x="275.08" y="244.52" width="2.94" height="29.48" fill="#8c7ec9" />
<rect x="275.08" y="241.84" width="2.94" height="2.68" fill="#1cafe1" />
<rect x="278.37" y="247.20" width="2.94" height="26.80" fill="#8c7ec9" />
<rect x="281.65" y="260.60" width="2.94" height="13.40" fill="#8c7ec9" />
<rect x="284.94" y="260.60" width="2.94" height="13.40" fill="#8c7ec9" />
<rect x="288.23" y="260.60" width="2.94" height="13.40" fill="#1cafe1" />
<rect x="291.52" y="265.96" width="2.94" height="8.04" fill="#8c7ec9" />
<rect x="291.52" y="260.60" width="2.94" height="5.36" fill="#1cafe1" />
<rect x="294.81" y="263.28" width="2.94" height="10.72" fill="#8c7ec9" />
<rect x="298.10" y="263.28" width="2.94" height="10.72" fill="#8c7ec9" />
<rect x="301.38" y="271.32" width="2.94" height="2.68" fill="#4fa62c" />
<rect x="301.38" y="263.28" width="2.94" height="8.04" fill="#c49614" />
<rect x="304.67" y="271.32" width="2.94" height="2.68" fill="#4fa62c" />
<rect x="304.67" y="263.28" width="2.94" height="8.04" fill="#c49614" />
<rect x="307.96" y="271.32" width="2.94" height="2.68" fill="#8c7ec9" />
<rect x="307.96" y="265.96" width="2.94" height="5.36" fill="#1cafe1" />
<rect x="311.25" y="265.96" width="2.94" height="8.04" fill="#8c7ec9" />
<rect x="314.54" y="265.96" width="2.94" height="8.04" fill="#8c7ec9" />
<rect x="317.83" y="265.96" width="2.94" height="8.04" fill="#ea6a62" />
<rect x="321.12" y="271.32" width="2.94" height="2.68" fill="#8c7ec9" />
<rect x="321.12" y="265.96" width="2.94" height="5.36" fill="#1cafe1" />
<rect x="324.40" y="265.96" width="2.94" height="8.04" fill="#1cafe1" />
<rect x="327.69" y="265.96" width="2.94" height="8.04" fill="#8c7ec9" />
<rect x="330.98" y="265.96" width="2.94" height="8.04" fill="#c49614" />
<rect x="334.27" y="265.96" width="2.94" height="8.04" fill="#ea6a62" />
<rect x="337.56" y="265.96" width="2.94" height="8.04" fill="#1cafe1" />
<rect x="340.85" y="265.96" width="2.94" height="8.04" fill="#8c7ec9" />
<rect x="344.13" y="265.96" width="2.94" height="8.04" fill="#ea6a62" />
<rect x="347.42" y="265.96" width="2.94" height="8.04" fill="#c49614" />
<rect x="350.71" y="271.32" width="2.94" height="2.68" fill="#8c7ec9" />
<rect x="350.71" y="265.96" width="2.94" height="5.36" fill="#1cafe1" />
<line x1="265.60" y1="220.40" x2="268.50" y2="220.40" stroke="#222" stroke-width="0.9" />
<text x="261.90" y="222.85" font-size="6.9" fill="#333" text-anchor="end" textLength="6.8" lengthAdjust="spacingAndGlyphs"  stroke="#333" stroke-width="0.24">20</text>
<line x1="265.60" y1="233.80" x2="268.50" y2="233.80" stroke="#222" stroke-width="0.9" />
<text x="261.90" y="236.25" font-size="6.9" fill="#333" text-anchor="end" textLength="6.8" lengthAdjust="spacingAndGlyphs"  stroke="#333" stroke-width="0.24">15</text>
<line x1="265.60" y1="247.20" x2="268.50" y2="247.20" stroke="#222" stroke-width="0.9" />
<text x="261.90" y="249.65" font-size="6.9" fill="#333" text-anchor="end" textLength="6.8" lengthAdjust="spacingAndGlyphs"  stroke="#333" stroke-width="0.24">10</text>
<line x1="265.60" y1="260.60" x2="268.50" y2="260.60" stroke="#222" stroke-width="0.9" />
<text x="261.90" y="263.05" font-size="6.9" fill="#333" text-anchor="end" textLength="3.4" lengthAdjust="spacingAndGlyphs"  stroke="#333" stroke-width="0.24">5</text>
<line x1="265.60" y1="274.00" x2="268.50" y2="274.00" stroke="#222" stroke-width="0.9" />
<text x="261.90" y="276.45" font-size="6.9" fill="#333" text-anchor="end" textLength="3.4" lengthAdjust="spacingAndGlyphs"  stroke="#333" stroke-width="0.24">0</text>
<line x1="270.14" y1="274.00" x2="270.14" y2="277.10" stroke="#111" stroke-width="0.95" />
<line x1="273.43" y1="274.00" x2="273.43" y2="277.10" stroke="#111" stroke-width="0.95" />
<line x1="276.72" y1="274.00" x2="276.72" y2="277.10" stroke="#111" stroke-width="0.95" />
<line x1="280.01" y1="274.00" x2="280.01" y2="277.10" stroke="#111" stroke-width="0.95" />
<line x1="283.30" y1="274.00" x2="283.30" y2="277.10" stroke="#111" stroke-width="0.95" />
<line x1="286.59" y1="274.00" x2="286.59" y2="277.10" stroke="#111" stroke-width="0.95" />
<line x1="289.88" y1="274.00" x2="289.88" y2="277.10" stroke="#111" stroke-width="0.95" />
<line x1="293.16" y1="274.00" x2="293.16" y2="277.10" stroke="#111" stroke-width="0.95" />
<line x1="296.45" y1="274.00" x2="296.45" y2="277.10" stroke="#111" stroke-width="0.95" />
<line x1="299.74" y1="274.00" x2="299.74" y2="277.10" stroke="#111" stroke-width="0.95" />
<line x1="303.03" y1="274.00" x2="303.03" y2="277.10" stroke="#111" stroke-width="0.95" />
<line x1="306.32" y1="274.00" x2="306.32" y2="277.10" stroke="#111" stroke-width="0.95" />
<line x1="309.61" y1="274.00" x2="309.61" y2="277.10" stroke="#111" stroke-width="0.95" />
<line x1="312.89" y1="274.00" x2="312.89" y2="277.10" stroke="#111" stroke-width="0.95" />
<line x1="316.18" y1="274.00" x2="316.18" y2="277.10" stroke="#111" stroke-width="0.95" />
<line x1="319.47" y1="274.00" x2="319.47" y2="277.10" stroke="#111" stroke-width="0.95" />
<line x1="322.76" y1="274.00" x2="322.76" y2="277.10" stroke="#111" stroke-width="0.95" />
<line x1="326.05" y1="274.00" x2="326.05" y2="277.10" stroke="#111" stroke-width="0.95" />
<line x1="329.34" y1="274.00" x2="329.34" y2="277.10" stroke="#111" stroke-width="0.95" />
<line x1="332.62" y1="274.00" x2="332.62" y2="277.10" stroke="#111" stroke-width="0.95" />
<line x1="335.91" y1="274.00" x2="335.91" y2="277.10" stroke="#111" stroke-width="0.95" />
<line x1="339.20" y1="274.00" x2="339.20" y2="277.10" stroke="#111" stroke-width="0.95" />
<line x1="342.49" y1="274.00" x2="342.49" y2="277.10" stroke="#111" stroke-width="0.95" />
<line x1="345.78" y1="274.00" x2="345.78" y2="277.10" stroke="#111" stroke-width="0.95" />
<line x1="349.07" y1="274.00" x2="349.07" y2="277.10" stroke="#111" stroke-width="0.95" />
<line x1="352.36" y1="274.00" x2="352.36" y2="277.10" stroke="#111" stroke-width="0.95" />
<line x1="268.50" y1="208.80" x2="268.50" y2="274.40" stroke="#1c1c1c" stroke-width="1.0" />
<line x1="268.10" y1="274.00" x2="354.00" y2="274.00" stroke="#1c1c1c" stroke-width="1.0" />
<text x="311.50" y="203.50" font-size="8.6" fill="#1a1a1a" text-anchor="middle" textLength="29.4" lengthAdjust="spacingAndGlyphs"  stroke="#1a1a1a" stroke-width="0.12">Axi-R-3</text>
<text x="311.25" y="288.20" font-size="8.6" fill="#333" text-anchor="middle" textLength="26" lengthAdjust="spacingAndGlyphs"  stroke="#333" stroke-width="0.12">Clone ID</text>
<rect x="377.50" y="220.80" width="4.71" height="53.30" fill="#8c7ec9" />
<rect x="377.50" y="212.60" width="4.71" height="8.20" fill="#1cafe1" />
<rect x="382.81" y="233.10" width="4.71" height="41.00" fill="#8c7ec9" />
<rect x="382.81" y="224.90" width="4.71" height="8.20" fill="#1cafe1" />
<rect x="388.11" y="233.10" width="4.71" height="41.00" fill="#8c7ec9" />
<rect x="393.42" y="249.50" width="4.71" height="24.60" fill="#8c7ec9" />
<rect x="398.73" y="249.50" width="4.71" height="24.60" fill="#8c7ec9" />
<rect x="404.03" y="261.80" width="4.71" height="12.30" fill="#8c7ec9" />
<rect x="404.03" y="253.60" width="4.71" height="8.20" fill="#1cafe1" />
<rect x="409.34" y="257.70" width="4.71" height="16.40" fill="#8c7ec9" />
<rect x="414.64" y="261.80" width="4.71" height="12.30" fill="#8c7ec9" />
<rect x="414.64" y="257.70" width="4.71" height="4.10" fill="#1cafe1" />
<rect x="419.95" y="257.70" width="4.71" height="16.40" fill="#8c7ec9" />
<rect x="425.26" y="261.80" width="4.71" height="12.30" fill="#8c7ec9" />
<rect x="425.26" y="257.70" width="4.71" height="4.10" fill="#1cafe1" />
<rect x="430.56" y="261.80" width="4.71" height="12.30" fill="#8c7ec9" />
<rect x="430.56" y="257.70" width="4.71" height="4.10" fill="#1cafe1" />
<rect x="435.87" y="270.00" width="4.71" height="4.10" fill="#4fa62c" />
<rect x="435.87" y="257.70" width="4.71" height="12.30" fill="#ea6a62" />
<rect x="441.17" y="261.80" width="4.71" height="12.30" fill="#8c7ec9" />
<rect x="446.48" y="261.80" width="4.71" height="12.30" fill="#ea6a62" />
<rect x="451.79" y="270.00" width="4.71" height="4.10" fill="#c49614" />
<rect x="451.79" y="261.80" width="4.71" height="8.20" fill="#ea6a62" />
<rect x="457.09" y="270.00" width="4.71" height="4.10" fill="#c49614" />
<rect x="457.09" y="261.80" width="4.71" height="8.20" fill="#ea6a62" />
<line x1="374.60" y1="212.60" x2="377.50" y2="212.60" stroke="#222" stroke-width="0.9" />
<text x="370.90" y="215.05" font-size="6.9" fill="#333" text-anchor="end" textLength="6.8" lengthAdjust="spacingAndGlyphs"  stroke="#333" stroke-width="0.24">15</text>
<line x1="374.60" y1="233.10" x2="377.50" y2="233.10" stroke="#222" stroke-width="0.9" />
<text x="370.90" y="235.55" font-size="6.9" fill="#333" text-anchor="end" textLength="6.8" lengthAdjust="spacingAndGlyphs"  stroke="#333" stroke-width="0.24">10</text>
<line x1="374.60" y1="253.60" x2="377.50" y2="253.60" stroke="#222" stroke-width="0.9" />
<text x="370.90" y="256.05" font-size="6.9" fill="#333" text-anchor="end" textLength="3.4" lengthAdjust="spacingAndGlyphs"  stroke="#333" stroke-width="0.24">5</text>
<line x1="374.60" y1="274.10" x2="377.50" y2="274.10" stroke="#222" stroke-width="0.9" />
<text x="370.90" y="276.55" font-size="6.9" fill="#333" text-anchor="end" textLength="3.4" lengthAdjust="spacingAndGlyphs"  stroke="#333" stroke-width="0.24">0</text>
<line x1="380.15" y1="274.10" x2="380.15" y2="277.20" stroke="#111" stroke-width="0.95" />
<line x1="385.46" y1="274.10" x2="385.46" y2="277.20" stroke="#111" stroke-width="0.95" />
<line x1="390.77" y1="274.10" x2="390.77" y2="277.20" stroke="#111" stroke-width="0.95" />
<line x1="396.07" y1="274.10" x2="396.07" y2="277.20" stroke="#111" stroke-width="0.95" />
<line x1="401.38" y1="274.10" x2="401.38" y2="277.20" stroke="#111" stroke-width="0.95" />
<line x1="406.68" y1="274.10" x2="406.68" y2="277.20" stroke="#111" stroke-width="0.95" />
<line x1="411.99" y1="274.10" x2="411.99" y2="277.20" stroke="#111" stroke-width="0.95" />
<line x1="417.30" y1="274.10" x2="417.30" y2="277.20" stroke="#111" stroke-width="0.95" />
<line x1="422.60" y1="274.10" x2="422.60" y2="277.20" stroke="#111" stroke-width="0.95" />
<line x1="427.91" y1="274.10" x2="427.91" y2="277.20" stroke="#111" stroke-width="0.95" />
<line x1="433.22" y1="274.10" x2="433.22" y2="277.20" stroke="#111" stroke-width="0.95" />
<line x1="438.52" y1="274.10" x2="438.52" y2="277.20" stroke="#111" stroke-width="0.95" />
<line x1="443.83" y1="274.10" x2="443.83" y2="277.20" stroke="#111" stroke-width="0.95" />
<line x1="449.13" y1="274.10" x2="449.13" y2="277.20" stroke="#111" stroke-width="0.95" />
<line x1="454.44" y1="274.10" x2="454.44" y2="277.20" stroke="#111" stroke-width="0.95" />
<line x1="459.75" y1="274.10" x2="459.75" y2="277.20" stroke="#111" stroke-width="0.95" />
<line x1="377.50" y1="208.90" x2="377.50" y2="274.50" stroke="#1c1c1c" stroke-width="1.0" />
<line x1="377.10" y1="274.10" x2="462.40" y2="274.10" stroke="#1c1c1c" stroke-width="1.0" />
<text x="419.95" y="203.50" font-size="8.6" fill="#1a1a1a" text-anchor="middle" textLength="29.5" lengthAdjust="spacingAndGlyphs"  stroke="#1a1a1a" stroke-width="0.12">Axi-R-2</text>
<text x="419.95" y="288.30" font-size="8.6" fill="#333" text-anchor="middle" textLength="26" lengthAdjust="spacingAndGlyphs"  stroke="#333" stroke-width="0.12">Clone ID</text>
<rect x="51.30" y="395.06" width="1.56" height="5.54" fill="#1cafe1" />
<rect x="51.30" y="367.36" width="1.56" height="27.70" fill="#c49614" />
<rect x="51.30" y="334.12" width="1.56" height="33.24" fill="#ea6a62" />
<rect x="53.11" y="383.98" width="1.56" height="16.62" fill="#c49614" />
<rect x="53.11" y="361.82" width="1.56" height="22.16" fill="#ea6a62" />
<rect x="54.93" y="381.21" width="1.56" height="19.39" fill="#8c7ec9" />
<rect x="54.93" y="372.90" width="1.56" height="8.31" fill="#1cafe1" />
<rect x="56.74" y="381.21" width="1.56" height="19.39" fill="#8c7ec9" />
<rect x="56.74" y="372.90" width="1.56" height="8.31" fill="#1cafe1" />
<rect x="58.55" y="378.44" width="1.56" height="22.16" fill="#8c7ec9" />
<rect x="58.55" y="372.90" width="1.56" height="5.54" fill="#1cafe1" />
<rect x="60.36" y="392.29" width="1.56" height="8.31" fill="#c49614" />
<rect x="60.36" y="375.67" width="1.56" height="16.62" fill="#ea6a62" />
<rect x="62.18" y="395.06" width="1.56" height="5.54" fill="#c49614" />
<rect x="62.18" y="381.21" width="1.56" height="13.85" fill="#ea6a62" />
<rect x="63.99" y="383.98" width="1.56" height="16.62" fill="#ea6a62" />
<rect x="65.80" y="392.29" width="1.56" height="8.31" fill="#c49614" />
<rect x="65.80" y="383.98" width="1.56" height="8.31" fill="#ea6a62" />
<rect x="67.61" y="383.98" width="1.56" height="16.62" fill="#ea6a62" />
<rect x="69.43" y="383.98" width="1.56" height="16.62" fill="#c49614" />
<rect x="71.24" y="386.75" width="1.56" height="13.85" fill="#8c7ec9" />
<rect x="73.05" y="386.75" width="1.56" height="13.85" fill="#ea6a62" />
<rect x="74.87" y="386.75" width="1.56" height="13.85" fill="#8c7ec9" />
<rect x="76.68" y="386.75" width="1.56" height="13.85" fill="#c49614" />
<rect x="78.49" y="386.75" width="1.56" height="13.85" fill="#ea6a62" />
<rect x="80.30" y="392.29" width="1.56" height="8.31" fill="#8c7ec9" />
<rect x="80.30" y="386.75" width="1.56" height="5.54" fill="#1cafe1" />
<rect x="82.12" y="386.75" width="1.56" height="13.85" fill="#c49614" />
<rect x="83.93" y="389.52" width="1.56" height="11.08" fill="#c49614" />
<rect x="85.74" y="389.52" width="1.56" height="11.08" fill="#ea6a62" />
<rect x="87.56" y="389.52" width="1.56" height="11.08" fill="#c49614" />
<rect x="89.37" y="389.52" width="1.56" height="11.08" fill="#ea6a62" />
<rect x="91.18" y="389.52" width="1.56" height="11.08" fill="#1ca383" />
<rect x="92.99" y="389.52" width="1.56" height="11.08" fill="#c49614" />
<rect x="94.81" y="389.52" width="1.56" height="11.08" fill="#ea6a62" />
<rect x="96.62" y="389.52" width="1.56" height="11.08" fill="#c49614" />
<rect x="98.43" y="389.52" width="1.56" height="11.08" fill="#ea6a62" />
<rect x="100.24" y="389.52" width="1.56" height="11.08" fill="#ea6a62" />
<rect x="102.06" y="389.52" width="1.56" height="11.08" fill="#c49614" />
<rect x="103.87" y="389.52" width="1.56" height="11.08" fill="#8c7ec9" />
<rect x="105.68" y="389.52" width="1.56" height="11.08" fill="#c49614" />
<rect x="107.50" y="392.29" width="1.56" height="8.31" fill="#ea6a62" />
<rect x="109.31" y="392.29" width="1.56" height="8.31" fill="#c49614" />
<rect x="111.12" y="392.29" width="1.56" height="8.31" fill="#ea6a62" />
<rect x="112.93" y="392.29" width="1.56" height="8.31" fill="#c49614" />
<rect x="114.75" y="392.29" width="1.56" height="8.31" fill="#1cafe1" />
<rect x="116.56" y="392.29" width="1.56" height="8.31" fill="#ea6a62" />
<rect x="118.37" y="392.29" width="1.56" height="8.31" fill="#c49614" />
<rect x="120.19" y="392.29" width="1.56" height="8.31" fill="#ea6a62" />
<rect x="122.00" y="392.29" width="1.56" height="8.31" fill="#c49614" />
<rect x="123.81" y="392.29" width="1.56" height="8.31" fill="#ea6a62" />
<rect x="125.62" y="392.29" width="1.56" height="8.31" fill="#c49614" />
<rect x="127.44" y="392.29" width="1.56" height="8.31" fill="#ea6a62" />
<rect x="129.25" y="392.29" width="1.56" height="8.31" fill="#c49614" />
<rect x="131.06" y="392.29" width="1.56" height="8.31" fill="#ea6a62" />
<rect x="132.87" y="392.29" width="1.56" height="8.31" fill="#c49614" />
<rect x="134.69" y="392.29" width="1.56" height="8.31" fill="#c49614" />
<line x1="48.40" y1="331.35" x2="51.30" y2="331.35" stroke="#222" stroke-width="0.9" />
<text x="44.70" y="333.80" font-size="6.9" fill="#333" text-anchor="end" textLength="6.8" lengthAdjust="spacingAndGlyphs"  stroke="#333" stroke-width="0.24">25</text>
<line x1="48.40" y1="345.20" x2="51.30" y2="345.20" stroke="#222" stroke-width="0.9" />
<text x="44.70" y="347.65" font-size="6.9" fill="#333" text-anchor="end" textLength="6.8" lengthAdjust="spacingAndGlyphs"  stroke="#333" stroke-width="0.24">20</text>
<line x1="48.40" y1="359.05" x2="51.30" y2="359.05" stroke="#222" stroke-width="0.9" />
<text x="44.70" y="361.50" font-size="6.9" fill="#333" text-anchor="end" textLength="6.8" lengthAdjust="spacingAndGlyphs"  stroke="#333" stroke-width="0.24">15</text>
<line x1="48.40" y1="372.90" x2="51.30" y2="372.90" stroke="#222" stroke-width="0.9" />
<text x="44.70" y="375.35" font-size="6.9" fill="#333" text-anchor="end" textLength="6.8" lengthAdjust="spacingAndGlyphs"  stroke="#333" stroke-width="0.24">10</text>
<line x1="48.40" y1="386.75" x2="51.30" y2="386.75" stroke="#222" stroke-width="0.9" />
<text x="44.70" y="389.20" font-size="6.9" fill="#333" text-anchor="end" textLength="3.4" lengthAdjust="spacingAndGlyphs"  stroke="#333" stroke-width="0.24">5</text>
<line x1="48.40" y1="400.60" x2="51.30" y2="400.60" stroke="#222" stroke-width="0.9" />
<text x="44.70" y="403.05" font-size="6.9" fill="#333" text-anchor="end" textLength="3.4" lengthAdjust="spacingAndGlyphs"  stroke="#333" stroke-width="0.24">0</text>
<line x1="52.21" y1="400.60" x2="52.21" y2="403.70" stroke="#111" stroke-width="0.95" />
<line x1="54.02" y1="400.60" x2="54.02" y2="403.70" stroke="#111" stroke-width="0.95" />
<line x1="55.83" y1="400.60" x2="55.83" y2="403.70" stroke="#111" stroke-width="0.95" />
<line x1="57.64" y1="400.60" x2="57.64" y2="403.70" stroke="#111" stroke-width="0.95" />
<line x1="59.46" y1="400.60" x2="59.46" y2="403.70" stroke="#111" stroke-width="0.95" />
<line x1="61.27" y1="400.60" x2="61.27" y2="403.70" stroke="#111" stroke-width="0.95" />
<line x1="63.08" y1="400.60" x2="63.08" y2="403.70" stroke="#111" stroke-width="0.95" />
<line x1="64.90" y1="400.60" x2="64.90" y2="403.70" stroke="#111" stroke-width="0.95" />
<line x1="66.71" y1="400.60" x2="66.71" y2="403.70" stroke="#111" stroke-width="0.95" />
<line x1="68.52" y1="400.60" x2="68.52" y2="403.70" stroke="#111" stroke-width="0.95" />
<line x1="70.33" y1="400.60" x2="70.33" y2="403.70" stroke="#111" stroke-width="0.95" />
<line x1="72.15" y1="400.60" x2="72.15" y2="403.70" stroke="#111" stroke-width="0.95" />
<line x1="73.96" y1="400.60" x2="73.96" y2="403.70" stroke="#111" stroke-width="0.95" />
<line x1="75.77" y1="400.60" x2="75.77" y2="403.70" stroke="#111" stroke-width="0.95" />
<line x1="77.59" y1="400.60" x2="77.59" y2="403.70" stroke="#111" stroke-width="0.95" />
<line x1="79.40" y1="400.60" x2="79.40" y2="403.70" stroke="#111" stroke-width="0.95" />
<line x1="81.21" y1="400.60" x2="81.21" y2="403.70" stroke="#111" stroke-width="0.95" />
<line x1="83.02" y1="400.60" x2="83.02" y2="403.70" stroke="#111" stroke-width="0.95" />
<line x1="84.84" y1="400.60" x2="84.84" y2="403.70" stroke="#111" stroke-width="0.95" />
<line x1="86.65" y1="400.60" x2="86.65" y2="403.70" stroke="#111" stroke-width="0.95" />
<line x1="88.46" y1="400.60" x2="88.46" y2="403.70" stroke="#111" stroke-width="0.95" />
<line x1="90.27" y1="400.60" x2="90.27" y2="403.70" stroke="#111" stroke-width="0.95" />
<line x1="92.09" y1="400.60" x2="92.09" y2="403.70" stroke="#111" stroke-width="0.95" />
<line x1="93.90" y1="400.60" x2="93.90" y2="403.70" stroke="#111" stroke-width="0.95" />
<line x1="95.71" y1="400.60" x2="95.71" y2="403.70" stroke="#111" stroke-width="0.95" />
<line x1="97.53" y1="400.60" x2="97.53" y2="403.70" stroke="#111" stroke-width="0.95" />
<line x1="99.34" y1="400.60" x2="99.34" y2="403.70" stroke="#111" stroke-width="0.95" />
<line x1="101.15" y1="400.60" x2="101.15" y2="403.70" stroke="#111" stroke-width="0.95" />
<line x1="102.96" y1="400.60" x2="102.96" y2="403.70" stroke="#111" stroke-width="0.95" />
<line x1="104.78" y1="400.60" x2="104.78" y2="403.70" stroke="#111" stroke-width="0.95" />
<line x1="106.59" y1="400.60" x2="106.59" y2="403.70" stroke="#111" stroke-width="0.95" />
<line x1="108.40" y1="400.60" x2="108.40" y2="403.70" stroke="#111" stroke-width="0.95" />
<line x1="110.21" y1="400.60" x2="110.21" y2="403.70" stroke="#111" stroke-width="0.95" />
<line x1="112.03" y1="400.60" x2="112.03" y2="403.70" stroke="#111" stroke-width="0.95" />
<line x1="113.84" y1="400.60" x2="113.84" y2="403.70" stroke="#111" stroke-width="0.95" />
<line x1="115.65" y1="400.60" x2="115.65" y2="403.70" stroke="#111" stroke-width="0.95" />
<line x1="117.47" y1="400.60" x2="117.47" y2="403.70" stroke="#111" stroke-width="0.95" />
<line x1="119.28" y1="400.60" x2="119.28" y2="403.70" stroke="#111" stroke-width="0.95" />
<line x1="121.09" y1="400.60" x2="121.09" y2="403.70" stroke="#111" stroke-width="0.95" />
<line x1="122.90" y1="400.60" x2="122.90" y2="403.70" stroke="#111" stroke-width="0.95" />
<line x1="124.72" y1="400.60" x2="124.72" y2="403.70" stroke="#111" stroke-width="0.95" />
<line x1="126.53" y1="400.60" x2="126.53" y2="403.70" stroke="#111" stroke-width="0.95" />
<line x1="128.34" y1="400.60" x2="128.34" y2="403.70" stroke="#111" stroke-width="0.95" />
<line x1="130.16" y1="400.60" x2="130.16" y2="403.70" stroke="#111" stroke-width="0.95" />
<line x1="131.97" y1="400.60" x2="131.97" y2="403.70" stroke="#111" stroke-width="0.95" />
<line x1="133.78" y1="400.60" x2="133.78" y2="403.70" stroke="#111" stroke-width="0.95" />
<line x1="135.59" y1="400.60" x2="135.59" y2="403.70" stroke="#111" stroke-width="0.95" />
<line x1="51.30" y1="328.70" x2="51.30" y2="401.00" stroke="#1c1c1c" stroke-width="1.0" />
<line x1="50.90" y1="400.60" x2="136.50" y2="400.60" stroke="#1c1c1c" stroke-width="1.0" />
<text x="93.75" y="322.60" font-size="8.6" fill="#1a1a1a" text-anchor="middle" textLength="31.7" lengthAdjust="spacingAndGlyphs"  stroke="#1a1a1a" stroke-width="0.12">CAR128</text>
<text x="93.90" y="414.80" font-size="8.6" fill="#333" text-anchor="middle" textLength="26" lengthAdjust="spacingAndGlyphs"  stroke="#333" stroke-width="0.12">Clone ID</text>
<rect x="159.70" y="387.76" width="1.73" height="12.54" fill="#8c7ec9" />
<rect x="159.70" y="331.33" width="1.73" height="56.43" fill="#ea6a62" />
<rect x="161.68" y="362.68" width="1.73" height="37.62" fill="#c49614" />
<rect x="161.68" y="343.87" width="1.73" height="18.81" fill="#ea6a62" />
<rect x="163.67" y="381.49" width="1.73" height="18.81" fill="#c49614" />
<rect x="163.67" y="350.14" width="1.73" height="31.35" fill="#1cafe1" />
<rect x="163.67" y="343.87" width="1.73" height="6.27" fill="#ea6a62" />
<rect x="165.65" y="350.14" width="1.73" height="50.16" fill="#ea6a62" />
<rect x="167.63" y="375.22" width="1.73" height="25.08" fill="#c49614" />
<rect x="167.63" y="350.14" width="1.73" height="25.08" fill="#ea6a62" />
<rect x="169.62" y="368.95" width="1.73" height="31.35" fill="#8c7ec9" />
<rect x="169.62" y="350.14" width="1.73" height="18.81" fill="#ea6a62" />
<rect x="171.60" y="356.41" width="1.73" height="43.89" fill="#1cafe1" />
<rect x="173.59" y="381.49" width="1.73" height="18.81" fill="#8c7ec9" />
<rect x="173.59" y="362.68" width="1.73" height="18.81" fill="#1cafe1" />
<rect x="175.57" y="362.68" width="1.73" height="37.62" fill="#1cafe1" />
<rect x="177.55" y="381.49" width="1.73" height="18.81" fill="#4fa62c" />
<rect x="177.55" y="368.95" width="1.73" height="12.54" fill="#c49614" />
<rect x="179.54" y="381.49" width="1.73" height="18.81" fill="#c49614" />
<rect x="179.54" y="368.95" width="1.73" height="12.54" fill="#1cafe1" />
<rect x="181.52" y="368.95" width="1.73" height="31.35" fill="#ea6a62" />
<rect x="183.50" y="375.22" width="1.73" height="25.08" fill="#ea6a62" />
<rect x="185.49" y="375.22" width="1.73" height="25.08" fill="#c49614" />
<rect x="187.47" y="381.49" width="1.73" height="18.81" fill="#ea6a62" />
<rect x="189.46" y="381.49" width="1.73" height="18.81" fill="#c49614" />
<rect x="191.44" y="381.49" width="1.73" height="18.81" fill="#ea6a62" />
<rect x="193.42" y="381.49" width="1.73" height="18.81" fill="#1cafe1" />
<rect x="195.41" y="381.49" width="1.73" height="18.81" fill="#c49614" />
<rect x="197.39" y="381.49" width="1.73" height="18.81" fill="#4fa62c" />
<rect x="199.37" y="381.49" width="1.73" height="18.81" fill="#ea6a62" />
<rect x="201.36" y="381.49" width="1.73" height="18.81" fill="#c49614" />
<rect x="203.34" y="381.49" width="1.73" height="18.81" fill="#ea6a62" />
<rect x="205.33" y="381.49" width="1.73" height="18.81" fill="#8c7ec9" />
<rect x="207.31" y="381.49" width="1.73" height="18.81" fill="#c49614" />
<rect x="209.29" y="381.49" width="1.73" height="18.81" fill="#ea6a62" />
<rect x="211.28" y="381.49" width="1.73" height="18.81" fill="#4fa62c" />
<rect x="213.26" y="381.49" width="1.73" height="18.81" fill="#c49614" />
<rect x="215.24" y="381.49" width="1.73" height="18.81" fill="#ea6a62" />
<rect x="217.23" y="381.49" width="1.73" height="18.81" fill="#ea6a62" />
<rect x="219.21" y="381.49" width="1.73" height="18.81" fill="#c49614" />
<rect x="221.20" y="381.49" width="1.73" height="18.81" fill="#1cafe1" />
<rect x="223.18" y="381.49" width="1.73" height="18.81" fill="#1cafe1" />
<rect x="225.16" y="381.49" width="1.73" height="18.81" fill="#ea6a62" />
<rect x="227.15" y="381.49" width="1.73" height="18.81" fill="#c49614" />
<rect x="229.13" y="381.49" width="1.73" height="18.81" fill="#c49614" />
<rect x="231.11" y="381.49" width="1.73" height="18.81" fill="#ea6a62" />
<rect x="233.10" y="381.49" width="1.73" height="18.81" fill="#ea6a62" />
<rect x="235.08" y="381.49" width="1.73" height="18.81" fill="#c49614" />
<rect x="237.07" y="381.49" width="1.73" height="18.81" fill="#ea6a62" />
<rect x="239.05" y="381.49" width="1.73" height="18.81" fill="#8c7ec9" />
<rect x="241.03" y="381.49" width="1.73" height="18.81" fill="#ea6a62" />
<rect x="243.02" y="381.49" width="1.73" height="18.81" fill="#c49614" />
<line x1="156.80" y1="343.87" x2="159.70" y2="343.87" stroke="#222" stroke-width="0.9" />
<text x="153.10" y="346.32" font-size="6.9" fill="#333" text-anchor="end" textLength="3.4" lengthAdjust="spacingAndGlyphs"  stroke="#333" stroke-width="0.24">9</text>
<line x1="156.80" y1="362.68" x2="159.70" y2="362.68" stroke="#222" stroke-width="0.9" />
<text x="153.10" y="365.13" font-size="6.9" fill="#333" text-anchor="end" textLength="3.4" lengthAdjust="spacingAndGlyphs"  stroke="#333" stroke-width="0.24">6</text>
<line x1="156.80" y1="381.49" x2="159.70" y2="381.49" stroke="#222" stroke-width="0.9" />
<text x="153.10" y="383.94" font-size="6.9" fill="#333" text-anchor="end" textLength="3.4" lengthAdjust="spacingAndGlyphs"  stroke="#333" stroke-width="0.24">3</text>
<line x1="156.80" y1="400.30" x2="159.70" y2="400.30" stroke="#222" stroke-width="0.9" />
<text x="153.10" y="402.75" font-size="6.9" fill="#333" text-anchor="end" textLength="3.4" lengthAdjust="spacingAndGlyphs"  stroke="#333" stroke-width="0.24">0</text>
<line x1="160.69" y1="400.30" x2="160.69" y2="403.40" stroke="#111" stroke-width="0.95" />
<line x1="162.68" y1="400.30" x2="162.68" y2="403.40" stroke="#111" stroke-width="0.95" />
<line x1="164.66" y1="400.30" x2="164.66" y2="403.40" stroke="#111" stroke-width="0.95" />
<line x1="166.64" y1="400.30" x2="166.64" y2="403.40" stroke="#111" stroke-width="0.95" />
<line x1="168.63" y1="400.30" x2="168.63" y2="403.40" stroke="#111" stroke-width="0.95" />
<line x1="170.61" y1="400.30" x2="170.61" y2="403.40" stroke="#111" stroke-width="0.95" />
<line x1="172.59" y1="400.30" x2="172.59" y2="403.40" stroke="#111" stroke-width="0.95" />
<line x1="174.58" y1="400.30" x2="174.58" y2="403.40" stroke="#111" stroke-width="0.95" />
<line x1="176.56" y1="400.30" x2="176.56" y2="403.40" stroke="#111" stroke-width="0.95" />
<line x1="178.55" y1="400.30" x2="178.55" y2="403.40" stroke="#111" stroke-width="0.95" />
<line x1="180.53" y1="400.30" x2="180.53" y2="403.40" stroke="#111" stroke-width="0.95" />
<line x1="182.51" y1="400.30" x2="182.51" y2="403.40" stroke="#111" stroke-width="0.95" />
<line x1="184.50" y1="400.30" x2="184.50" y2="403.40" stroke="#111" stroke-width="0.95" />
<line x1="186.48" y1="400.30" x2="186.48" y2="403.40" stroke="#111" stroke-width="0.95" />
<line x1="188.46" y1="400.30" x2="188.46" y2="403.40" stroke="#111" stroke-width="0.95" />
<line x1="190.45" y1="400.30" x2="190.45" y2="403.40" stroke="#111" stroke-width="0.95" />
<line x1="192.43" y1="400.30" x2="192.43" y2="403.40" stroke="#111" stroke-width="0.95" />
<line x1="194.42" y1="400.30" x2="194.42" y2="403.40" stroke="#111" stroke-width="0.95" />
<line x1="196.40" y1="400.30" x2="196.40" y2="403.40" stroke="#111" stroke-width="0.95" />
<line x1="198.38" y1="400.30" x2="198.38" y2="403.40" stroke="#111" stroke-width="0.95" />
<line x1="200.37" y1="400.30" x2="200.37" y2="403.40" stroke="#111" stroke-width="0.95" />
<line x1="202.35" y1="400.30" x2="202.35" y2="403.40" stroke="#111" stroke-width="0.95" />
<line x1="204.33" y1="400.30" x2="204.33" y2="403.40" stroke="#111" stroke-width="0.95" />
<line x1="206.32" y1="400.30" x2="206.32" y2="403.40" stroke="#111" stroke-width="0.95" />
<line x1="208.30" y1="400.30" x2="208.30" y2="403.40" stroke="#111" stroke-width="0.95" />
<line x1="210.28" y1="400.30" x2="210.28" y2="403.40" stroke="#111" stroke-width="0.95" />
<line x1="212.27" y1="400.30" x2="212.27" y2="403.40" stroke="#111" stroke-width="0.95" />
<line x1="214.25" y1="400.30" x2="214.25" y2="403.40" stroke="#111" stroke-width="0.95" />
<line x1="216.24" y1="400.30" x2="216.24" y2="403.40" stroke="#111" stroke-width="0.95" />
<line x1="218.22" y1="400.30" x2="218.22" y2="403.40" stroke="#111" stroke-width="0.95" />
<line x1="220.20" y1="400.30" x2="220.20" y2="403.40" stroke="#111" stroke-width="0.95" />
<line x1="222.19" y1="400.30" x2="222.19" y2="403.40" stroke="#111" stroke-width="0.95" />
<line x1="224.17" y1="400.30" x2="224.17" y2="403.40" stroke="#111" stroke-width="0.95" />
<line x1="226.15" y1="400.30" x2="226.15" y2="403.40" stroke="#111" stroke-width="0.95" />
<line x1="228.14" y1="400.30" x2="228.14" y2="403.40" stroke="#111" stroke-width="0.95" />
<line x1="230.12" y1="400.30" x2="230.12" y2="403.40" stroke="#111" stroke-width="0.95" />
<line x1="232.11" y1="400.30" x2="232.11" y2="403.40" stroke="#111" stroke-width="0.95" />
<line x1="234.09" y1="400.30" x2="234.09" y2="403.40" stroke="#111" stroke-width="0.95" />
<line x1="236.07" y1="400.30" x2="236.07" y2="403.40" stroke="#111" stroke-width="0.95" />
<line x1="238.06" y1="400.30" x2="238.06" y2="403.40" stroke="#111" stroke-width="0.95" />
<line x1="240.04" y1="400.30" x2="240.04" y2="403.40" stroke="#111" stroke-width="0.95" />
<line x1="242.02" y1="400.30" x2="242.02" y2="403.40" stroke="#111" stroke-width="0.95" />
<line x1="244.01" y1="400.30" x2="244.01" y2="403.40" stroke="#111" stroke-width="0.95" />
<line x1="159.70" y1="328.70" x2="159.70" y2="400.70" stroke="#1c1c1c" stroke-width="1.0" />
<line x1="159.30" y1="400.30" x2="245.00" y2="400.30" stroke="#1c1c1c" stroke-width="1.0" />
<text x="202.90" y="322.60" font-size="8.6" fill="#1a1a1a" text-anchor="middle" textLength="31.8" lengthAdjust="spacingAndGlyphs"  stroke="#1a1a1a" stroke-width="0.12">CAR142</text>
<text x="202.35" y="414.50" font-size="8.6" fill="#333" text-anchor="middle" textLength="26" lengthAdjust="spacingAndGlyphs"  stroke="#333" stroke-width="0.12">Clone ID</text>
<rect x="268.30" y="332.00" width="3.63" height="68.30" fill="#8c7ec9" />
<rect x="272.38" y="362.05" width="3.63" height="38.25" fill="#8c7ec9" />
<rect x="272.38" y="359.32" width="3.63" height="2.73" fill="#1cafe1" />
<rect x="276.46" y="370.25" width="3.63" height="30.05" fill="#ea6a62" />
<rect x="280.54" y="381.18" width="3.63" height="19.12" fill="#ea6a62" />
<rect x="284.62" y="383.91" width="3.63" height="16.39" fill="#ea6a62" />
<rect x="288.70" y="386.64" width="3.63" height="13.66" fill="#8c7ec9" />
<rect x="288.70" y="383.91" width="3.63" height="2.73" fill="#1cafe1" />
<rect x="292.79" y="383.91" width="3.63" height="16.39" fill="#ea6a62" />
<rect x="296.87" y="386.64" width="3.63" height="13.66" fill="#8c7ec9" />
<rect x="300.95" y="386.64" width="3.63" height="13.66" fill="#8c7ec9" />
<rect x="305.03" y="392.10" width="3.63" height="8.20" fill="#8c7ec9" />
<rect x="305.03" y="389.37" width="3.63" height="2.73" fill="#1cafe1" />
<rect x="309.11" y="392.10" width="3.63" height="8.20" fill="#8c7ec9" />
<rect x="309.11" y="389.37" width="3.63" height="2.73" fill="#1cafe1" />
<rect x="313.19" y="392.10" width="3.63" height="8.20" fill="#8c7ec9" />
<rect x="313.19" y="389.37" width="3.63" height="2.73" fill="#1cafe1" />
<rect x="317.27" y="392.10" width="3.63" height="8.20" fill="#8c7ec9" />
<rect x="321.35" y="392.10" width="3.63" height="8.20" fill="#c49614" />
<rect x="325.43" y="392.10" width="3.63" height="8.20" fill="#ea6a62" />
<rect x="329.51" y="392.10" width="3.63" height="8.20" fill="#8c7ec9" />
<rect x="333.60" y="392.10" width="3.63" height="8.20" fill="#4fa62c" />
<rect x="337.68" y="392.10" width="3.63" height="8.20" fill="#8c7ec9" />
<rect x="341.76" y="392.10" width="3.63" height="8.20" fill="#ea6a62" />
<rect x="345.84" y="392.10" width="3.63" height="8.20" fill="#8c7ec9" />
<rect x="349.92" y="397.57" width="3.63" height="2.73" fill="#c49614" />
<rect x="349.92" y="392.10" width="3.63" height="5.46" fill="#ea6a62" />
<line x1="265.40" y1="332.00" x2="268.30" y2="332.00" stroke="#222" stroke-width="0.9" />
<text x="261.70" y="334.45" font-size="6.9" fill="#333" text-anchor="end" textLength="6.8" lengthAdjust="spacingAndGlyphs"  stroke="#333" stroke-width="0.24">25</text>
<line x1="265.40" y1="345.66" x2="268.30" y2="345.66" stroke="#222" stroke-width="0.9" />
<text x="261.70" y="348.11" font-size="6.9" fill="#333" text-anchor="end" textLength="6.8" lengthAdjust="spacingAndGlyphs"  stroke="#333" stroke-width="0.24">20</text>
<line x1="265.40" y1="359.32" x2="268.30" y2="359.32" stroke="#222" stroke-width="0.9" />
<text x="261.70" y="361.77" font-size="6.9" fill="#333" text-anchor="end" textLength="6.8" lengthAdjust="spacingAndGlyphs"  stroke="#333" stroke-width="0.24">15</text>
<line x1="265.40" y1="372.98" x2="268.30" y2="372.98" stroke="#222" stroke-width="0.9" />
<text x="261.70" y="375.43" font-size="6.9" fill="#333" text-anchor="end" textLength="6.8" lengthAdjust="spacingAndGlyphs"  stroke="#333" stroke-width="0.24">10</text>
<line x1="265.40" y1="386.64" x2="268.30" y2="386.64" stroke="#222" stroke-width="0.9" />
<text x="261.70" y="389.09" font-size="6.9" fill="#333" text-anchor="end" textLength="3.4" lengthAdjust="spacingAndGlyphs"  stroke="#333" stroke-width="0.24">5</text>
<line x1="265.40" y1="400.30" x2="268.30" y2="400.30" stroke="#222" stroke-width="0.9" />
<text x="261.70" y="402.75" font-size="6.9" fill="#333" text-anchor="end" textLength="3.4" lengthAdjust="spacingAndGlyphs"  stroke="#333" stroke-width="0.24">0</text>
<line x1="270.34" y1="400.30" x2="270.34" y2="403.40" stroke="#111" stroke-width="0.95" />
<line x1="274.42" y1="400.30" x2="274.42" y2="403.40" stroke="#111" stroke-width="0.95" />
<line x1="278.50" y1="400.30" x2="278.50" y2="403.40" stroke="#111" stroke-width="0.95" />
<line x1="282.58" y1="400.30" x2="282.58" y2="403.40" stroke="#111" stroke-width="0.95" />
<line x1="286.66" y1="400.30" x2="286.66" y2="403.40" stroke="#111" stroke-width="0.95" />
<line x1="290.75" y1="400.30" x2="290.75" y2="403.40" stroke="#111" stroke-width="0.95" />
<line x1="294.83" y1="400.30" x2="294.83" y2="403.40" stroke="#111" stroke-width="0.95" />
<line x1="298.91" y1="400.30" x2="298.91" y2="403.40" stroke="#111" stroke-width="0.95" />
<line x1="302.99" y1="400.30" x2="302.99" y2="403.40" stroke="#111" stroke-width="0.95" />
<line x1="307.07" y1="400.30" x2="307.07" y2="403.40" stroke="#111" stroke-width="0.95" />
<line x1="311.15" y1="400.30" x2="311.15" y2="403.40" stroke="#111" stroke-width="0.95" />
<line x1="315.23" y1="400.30" x2="315.23" y2="403.40" stroke="#111" stroke-width="0.95" />
<line x1="319.31" y1="400.30" x2="319.31" y2="403.40" stroke="#111" stroke-width="0.95" />
<line x1="323.39" y1="400.30" x2="323.39" y2="403.40" stroke="#111" stroke-width="0.95" />
<line x1="327.47" y1="400.30" x2="327.47" y2="403.40" stroke="#111" stroke-width="0.95" />
<line x1="331.55" y1="400.30" x2="331.55" y2="403.40" stroke="#111" stroke-width="0.95" />
<line x1="335.64" y1="400.30" x2="335.64" y2="403.40" stroke="#111" stroke-width="0.95" />
<line x1="339.72" y1="400.30" x2="339.72" y2="403.40" stroke="#111" stroke-width="0.95" />
<line x1="343.80" y1="400.30" x2="343.80" y2="403.40" stroke="#111" stroke-width="0.95" />
<line x1="347.88" y1="400.30" x2="347.88" y2="403.40" stroke="#111" stroke-width="0.95" />
<line x1="351.96" y1="400.30" x2="351.96" y2="403.40" stroke="#111" stroke-width="0.95" />
<line x1="268.30" y1="328.70" x2="268.30" y2="400.70" stroke="#1c1c1c" stroke-width="1.0" />
<line x1="267.90" y1="400.30" x2="354.00" y2="400.30" stroke="#1c1c1c" stroke-width="1.0" />
<text x="311.40" y="322.60" font-size="8.6" fill="#1a1a1a" text-anchor="middle" textLength="41.2" lengthAdjust="spacingAndGlyphs"  stroke="#1a1a1a" stroke-width="0.12">Axi-NR-10</text>
<text x="311.15" y="414.50" font-size="8.6" fill="#333" text-anchor="middle" textLength="26" lengthAdjust="spacingAndGlyphs"  stroke="#333" stroke-width="0.12">Clone ID</text>
<rect x="376.90" y="351.80" width="2.20" height="48.60" fill="#8c7ec9" />
<rect x="376.90" y="335.60" width="2.20" height="16.20" fill="#1cafe1" />
<rect x="376.90" y="331.55" width="2.20" height="4.05" fill="#ea6a62" />
<rect x="379.40" y="384.20" width="2.20" height="16.20" fill="#8c7ec9" />
<rect x="379.40" y="342.35" width="2.20" height="41.85" fill="#1cafe1" />
<rect x="379.40" y="338.30" width="2.20" height="4.05" fill="#ea6a62" />
<rect x="381.90" y="395.00" width="2.20" height="5.40" fill="#8c7ec9" />
<rect x="381.90" y="343.70" width="2.20" height="51.30" fill="#1cafe1" />
<rect x="384.40" y="395.00" width="2.20" height="5.40" fill="#8c7ec9" />
<rect x="384.40" y="382.85" width="2.20" height="12.15" fill="#1cafe1" />
<rect x="384.40" y="381.50" width="2.20" height="1.35" fill="#ea6a62" />
<rect x="386.90" y="395.00" width="2.20" height="5.40" fill="#8c7ec9" />
<rect x="386.90" y="389.60" width="2.20" height="5.40" fill="#1ca383" />
<rect x="389.40" y="396.35" width="2.20" height="4.05" fill="#8c7ec9" />
<rect x="389.40" y="392.30" width="2.20" height="4.05" fill="#1ca383" />
<rect x="389.40" y="390.95" width="2.20" height="1.35" fill="#ea6a62" />
<rect x="391.90" y="395.00" width="2.20" height="5.40" fill="#8c7ec9" />
<rect x="391.90" y="392.30" width="2.20" height="2.70" fill="#ea6a62" />
<rect x="394.40" y="397.70" width="2.20" height="2.70" fill="#8c7ec9" />
<rect x="394.40" y="392.30" width="2.20" height="5.40" fill="#ea6a62" />
<rect x="396.90" y="396.35" width="2.20" height="4.05" fill="#8c7ec9" />
<rect x="396.90" y="393.65" width="2.20" height="2.70" fill="#1cafe1" />
<rect x="399.40" y="393.65" width="2.20" height="6.75" fill="#8c7ec9" />
<rect x="401.90" y="396.35" width="2.20" height="4.05" fill="#8c7ec9" />
<rect x="401.90" y="393.65" width="2.20" height="2.70" fill="#ea6a62" />
<rect x="404.40" y="393.65" width="2.20" height="6.75" fill="#8c7ec9" />
<rect x="406.90" y="395.00" width="2.20" height="5.40" fill="#8c7ec9" />
<rect x="409.40" y="395.00" width="2.20" height="5.40" fill="#c49614" />
<rect x="411.90" y="397.70" width="2.20" height="2.70" fill="#8c7ec9" />
<rect x="411.90" y="395.00" width="2.20" height="2.70" fill="#1cafe1" />
<rect x="414.40" y="395.00" width="2.20" height="5.40" fill="#ea6a62" />
<rect x="416.90" y="395.00" width="2.20" height="5.40" fill="#ea6a62" />
<rect x="419.40" y="395.00" width="2.20" height="5.40" fill="#1cafe1" />
<rect x="421.90" y="395.00" width="2.20" height="5.40" fill="#1cafe1" />
<rect x="424.40" y="397.70" width="2.20" height="2.70" fill="#c49614" />
<rect x="424.40" y="395.00" width="2.20" height="2.70" fill="#ea6a62" />
<rect x="426.90" y="395.00" width="2.20" height="5.40" fill="#ea6a62" />
<rect x="429.40" y="396.35" width="2.20" height="4.05" fill="#ea6a62" />
<rect x="431.90" y="396.35" width="2.20" height="4.05" fill="#c49614" />
<rect x="434.40" y="396.35" width="2.20" height="4.05" fill="#ea6a62" />
<rect x="436.90" y="396.35" width="2.20" height="4.05" fill="#8c7ec9" />
<rect x="439.40" y="396.35" width="2.20" height="4.05" fill="#c556ab" />
<rect x="441.90" y="396.35" width="2.20" height="4.05" fill="#c49614" />
<rect x="444.40" y="396.35" width="2.20" height="4.05" fill="#c49614" />
<rect x="446.90" y="396.35" width="2.20" height="4.05" fill="#ea6a62" />
<rect x="449.40" y="396.35" width="2.20" height="4.05" fill="#c49614" />
<rect x="451.90" y="396.35" width="2.20" height="4.05" fill="#ea6a62" />
<rect x="454.40" y="396.35" width="2.20" height="4.05" fill="#1ca383" />
<rect x="456.90" y="396.35" width="2.20" height="4.05" fill="#1ca383" />
<rect x="459.40" y="396.35" width="2.20" height="4.05" fill="#ea6a62" />
<line x1="374.00" y1="332.90" x2="376.90" y2="332.90" stroke="#222" stroke-width="0.9" />
<text x="370.30" y="335.35" font-size="6.9" fill="#333" text-anchor="end" textLength="6.8" lengthAdjust="spacingAndGlyphs"  stroke="#333" stroke-width="0.24">50</text>
<line x1="374.00" y1="346.40" x2="376.90" y2="346.40" stroke="#222" stroke-width="0.9" />
<text x="370.30" y="348.85" font-size="6.9" fill="#333" text-anchor="end" textLength="6.8" lengthAdjust="spacingAndGlyphs"  stroke="#333" stroke-width="0.24">40</text>
<line x1="374.00" y1="359.90" x2="376.90" y2="359.90" stroke="#222" stroke-width="0.9" />
<text x="370.30" y="362.35" font-size="6.9" fill="#333" text-anchor="end" textLength="6.8" lengthAdjust="spacingAndGlyphs"  stroke="#333" stroke-width="0.24">30</text>
<line x1="374.00" y1="373.40" x2="376.90" y2="373.40" stroke="#222" stroke-width="0.9" />
<text x="370.30" y="375.85" font-size="6.9" fill="#333" text-anchor="end" textLength="6.8" lengthAdjust="spacingAndGlyphs"  stroke="#333" stroke-width="0.24">20</text>
<line x1="374.00" y1="386.90" x2="376.90" y2="386.90" stroke="#222" stroke-width="0.9" />
<text x="370.30" y="389.35" font-size="6.9" fill="#333" text-anchor="end" textLength="6.8" lengthAdjust="spacingAndGlyphs"  stroke="#333" stroke-width="0.24">10</text>
<line x1="374.00" y1="400.40" x2="376.90" y2="400.40" stroke="#222" stroke-width="0.9" />
<text x="370.30" y="402.85" font-size="6.9" fill="#333" text-anchor="end" textLength="3.4" lengthAdjust="spacingAndGlyphs"  stroke="#333" stroke-width="0.24">0</text>
<line x1="378.15" y1="400.40" x2="378.15" y2="403.50" stroke="#111" stroke-width="0.95" />
<line x1="380.65" y1="400.40" x2="380.65" y2="403.50" stroke="#111" stroke-width="0.95" />
<line x1="383.15" y1="400.40" x2="383.15" y2="403.50" stroke="#111" stroke-width="0.95" />
<line x1="385.65" y1="400.40" x2="385.65" y2="403.50" stroke="#111" stroke-width="0.95" />
<line x1="388.15" y1="400.40" x2="388.15" y2="403.50" stroke="#111" stroke-width="0.95" />
<line x1="390.65" y1="400.40" x2="390.65" y2="403.50" stroke="#111" stroke-width="0.95" />
<line x1="393.15" y1="400.40" x2="393.15" y2="403.50" stroke="#111" stroke-width="0.95" />
<line x1="395.65" y1="400.40" x2="395.65" y2="403.50" stroke="#111" stroke-width="0.95" />
<line x1="398.15" y1="400.40" x2="398.15" y2="403.50" stroke="#111" stroke-width="0.95" />
<line x1="400.65" y1="400.40" x2="400.65" y2="403.50" stroke="#111" stroke-width="0.95" />
<line x1="403.15" y1="400.40" x2="403.15" y2="403.50" stroke="#111" stroke-width="0.95" />
<line x1="405.65" y1="400.40" x2="405.65" y2="403.50" stroke="#111" stroke-width="0.95" />
<line x1="408.15" y1="400.40" x2="408.15" y2="403.50" stroke="#111" stroke-width="0.95" />
<line x1="410.65" y1="400.40" x2="410.65" y2="403.50" stroke="#111" stroke-width="0.95" />
<line x1="413.15" y1="400.40" x2="413.15" y2="403.50" stroke="#111" stroke-width="0.95" />
<line x1="415.65" y1="400.40" x2="415.65" y2="403.50" stroke="#111" stroke-width="0.95" />
<line x1="418.15" y1="400.40" x2="418.15" y2="403.50" stroke="#111" stroke-width="0.95" />
<line x1="420.65" y1="400.40" x2="420.65" y2="403.50" stroke="#111" stroke-width="0.95" />
<line x1="423.15" y1="400.40" x2="423.15" y2="403.50" stroke="#111" stroke-width="0.95" />
<line x1="425.65" y1="400.40" x2="425.65" y2="403.50" stroke="#111" stroke-width="0.95" />
<line x1="428.15" y1="400.40" x2="428.15" y2="403.50" stroke="#111" stroke-width="0.95" />
<line x1="430.65" y1="400.40" x2="430.65" y2="403.50" stroke="#111" stroke-width="0.95" />
<line x1="433.15" y1="400.40" x2="433.15" y2="403.50" stroke="#111" stroke-width="0.95" />
<line x1="435.65" y1="400.40" x2="435.65" y2="403.50" stroke="#111" stroke-width="0.95" />
<line x1="438.15" y1="400.40" x2="438.15" y2="403.50" stroke="#111" stroke-width="0.95" />
<line x1="440.65" y1="400.40" x2="440.65" y2="403.50" stroke="#111" stroke-width="0.95" />
<line x1="443.15" y1="400.40" x2="443.15" y2="403.50" stroke="#111" stroke-width="0.95" />
<line x1="445.65" y1="400.40" x2="445.65" y2="403.50" stroke="#111" stroke-width="0.95" />
<line x1="448.15" y1="400.40" x2="448.15" y2="403.50" stroke="#111" stroke-width="0.95" />
<line x1="450.65" y1="400.40" x2="450.65" y2="403.50" stroke="#111" stroke-width="0.95" />
<line x1="453.15" y1="400.40" x2="453.15" y2="403.50" stroke="#111" stroke-width="0.95" />
<line x1="455.65" y1="400.40" x2="455.65" y2="403.50" stroke="#111" stroke-width="0.95" />
<line x1="458.15" y1="400.40" x2="458.15" y2="403.50" stroke="#111" stroke-width="0.95" />
<line x1="460.65" y1="400.40" x2="460.65" y2="403.50" stroke="#111" stroke-width="0.95" />
<line x1="376.90" y1="328.70" x2="376.90" y2="400.80" stroke="#1c1c1c" stroke-width="1.0" />
<line x1="376.50" y1="400.40" x2="461.90" y2="400.40" stroke="#1c1c1c" stroke-width="1.0" />
<text x="420.60" y="322.60" font-size="8.6" fill="#1a1a1a" text-anchor="middle" textLength="40.4" lengthAdjust="spacingAndGlyphs"  stroke="#1a1a1a" stroke-width="0.12">Axi-NR-16</text>
<text x="419.40" y="414.60" font-size="8.6" fill="#333" text-anchor="middle" textLength="26" lengthAdjust="spacingAndGlyphs"  stroke="#333" stroke-width="0.12">Clone ID</text>
<text x="31.90" y="241.95" font-size="8.7" fill="#2a2a2a" text-anchor="middle" textLength="17.8" lengthAdjust="spacingAndGlyphs" transform="rotate(-90 31.90 241.95)" stroke="#2a2a2a" stroke-width="0.12">Count</text>
<text x="31.90" y="364.40" font-size="8.7" fill="#2a2a2a" text-anchor="middle" textLength="17.8" lengthAdjust="spacingAndGlyphs" transform="rotate(-90 31.90 364.40)" stroke="#2a2a2a" stroke-width="0.12">Count</text>
<rect x="6.90" y="209.00" width="14.60" height="68.50" fill="#e8659f" stroke="#3a1026" stroke-width="0.9" />
<text x="17.4" y="243.2" font-size="8.2" fill="#3d0a24" text-anchor="middle" textLength="46" lengthAdjust="spacingAndGlyphs" transform="rotate(-90 17.4 243.2)" stroke="#3d0a24" stroke-width="0.12">Responders</text>
<rect x="6.60" y="329.30" width="14.80" height="70.20" fill="#1f5aa6" stroke="#0d2d5c" stroke-width="0.8" />
<text x="17.2" y="364.4" font-size="8.8" fill="#ffffff" text-anchor="middle" textLength="65" lengthAdjust="spacingAndGlyphs" transform="rotate(-90 17.2 364.4)" stroke="#ffffff" stroke-width="0.0">Non-Responders</text>
<text x="469.00" y="201.30" font-size="6.6" fill="#333" text-anchor="start" textLength="19" lengthAdjust="spacingAndGlyphs"  stroke="#333" stroke-width="0.24">Subset</text>
<rect x="469.10" y="206.30" width="5.90" height="6.00" fill="#ea6a62" />
<text x="478.20" y="211.60" font-size="6.7" fill="#333" text-anchor="start"  stroke="#333" stroke-width="0.24">CD4 CTL</text>
<rect x="469.10" y="216.40" width="5.90" height="6.00" fill="#c49614" />
<text x="478.2" y="221.70" font-size="6.7" fill="#333" stroke="#333" stroke-width="0.24">CD4 T<tspan font-size="4.6" dy="1.8">CM</tspan></text>
<rect x="469.10" y="226.50" width="5.90" height="6.00" fill="#4fa62c" />
<text x="478.2" y="231.80" font-size="6.7" fill="#333" stroke="#333" stroke-width="0.24">CD4 T<tspan font-size="4.6" dy="1.8">EM</tspan></text>
<rect x="469.10" y="236.70" width="5.90" height="6.00" fill="#1ca383" />
<text x="478.20" y="242.00" font-size="6.7" fill="#333" text-anchor="start"  stroke="#333" stroke-width="0.24">CD8 Naïve</text>
<rect x="469.10" y="246.80" width="5.90" height="6.00" fill="#1cafe1" />
<text x="478.2" y="252.10" font-size="6.7" fill="#333" stroke="#333" stroke-width="0.24">CD8 T<tspan font-size="4.6" dy="1.8">CM</tspan></text>
<rect x="469.10" y="256.90" width="5.90" height="6.00" fill="#8c7ec9" />
<text x="478.2" y="262.20" font-size="6.7" fill="#333" stroke="#333" stroke-width="0.24">CD8 T<tspan font-size="4.6" dy="1.8">EM</tspan></text>
<rect x="469.10" y="267.00" width="5.90" height="6.00" fill="#c556ab" />
<text x="478.20" y="272.30" font-size="6.7" fill="#333" text-anchor="start"  stroke="#333" stroke-width="0.24">Treg</text>
<text x="469.00" y="327.80" font-size="6.6" fill="#333" text-anchor="start" textLength="19" lengthAdjust="spacingAndGlyphs"  stroke="#333" stroke-width="0.24">Subset</text>
<rect x="469.10" y="332.80" width="5.90" height="6.00" fill="#ea6a62" />
<text x="478.20" y="338.10" font-size="6.7" fill="#333" text-anchor="start"  stroke="#333" stroke-width="0.24">CD4 CTL</text>
<rect x="469.10" y="343.00" width="5.90" height="6.00" fill="#c49614" />
<text x="478.2" y="348.30" font-size="6.7" fill="#333" stroke="#333" stroke-width="0.24">CD4 T<tspan font-size="4.6" dy="1.8">CM</tspan></text>
<rect x="469.10" y="353.20" width="5.90" height="6.00" fill="#4fa62c" />
<text x="478.2" y="358.50" font-size="6.7" fill="#333" stroke="#333" stroke-width="0.24">CD4 T<tspan font-size="4.6" dy="1.8">EM</tspan></text>
<rect x="469.10" y="363.40" width="5.90" height="6.00" fill="#1ca383" />
<text x="478.20" y="368.70" font-size="6.7" fill="#333" text-anchor="start"  stroke="#333" stroke-width="0.24">CD8 Naïve</text>
<rect x="469.10" y="373.60" width="5.90" height="6.00" fill="#1cafe1" />
<text x="478.2" y="378.90" font-size="6.7" fill="#333" stroke="#333" stroke-width="0.24">CD8 T<tspan font-size="4.6" dy="1.8">CM</tspan></text>
<rect x="469.10" y="383.80" width="5.90" height="6.00" fill="#8c7ec9" />
<text x="478.2" y="389.10" font-size="6.7" fill="#333" stroke="#333" stroke-width="0.24">CD8 T<tspan font-size="4.6" dy="1.8">EM</tspan></text>
<rect x="469.10" y="394.00" width="5.90" height="6.00" fill="#c556ab" />
<text x="478.20" y="399.30" font-size="6.7" fill="#333" text-anchor="start"  stroke="#333" stroke-width="0.24">Treg</text>
<rect x="144.30" y="483.70" width="5.77" height="7.16" fill="#e9f7e7" stroke="#76899a" stroke-width="0.6" />
<rect x="150.07" y="483.70" width="5.77" height="7.16" fill="#da392c" stroke="#76899a" stroke-width="0.6" />
<rect x="155.84" y="483.70" width="5.77" height="7.16" fill="#6291c3" stroke="#76899a" stroke-width="0.6" />
<rect x="161.61" y="483.70" width="5.77" height="7.16" fill="#e0f3f8" stroke="#76899a" stroke-width="0.6" />
<rect x="167.38" y="483.70" width="5.77" height="7.16" fill="#6291c3" stroke="#76899a" stroke-width="0.6" />
<rect x="173.15" y="483.70" width="5.77" height="7.16" fill="#fee699" stroke="#76899a" stroke-width="0.6" />
<rect x="178.92" y="483.70" width="5.77" height="7.16" fill="#fff9b6" stroke="#76899a" stroke-width="0.6" />
<rect x="184.69" y="483.70" width="5.77" height="7.16" fill="#f7fccd" stroke="#76899a" stroke-width="0.6" />
<rect x="190.46" y="483.70" width="5.77" height="7.16" fill="#b5d7e8" stroke="#76899a" stroke-width="0.6" />
<rect x="196.23" y="483.70" width="5.77" height="7.16" fill="#abd0e4" stroke="#76899a" stroke-width="0.6" />
<rect x="202.00" y="483.70" width="5.77" height="7.16" fill="#95c2dd" stroke="#76899a" stroke-width="0.6" />
<rect x="207.77" y="483.70" width="5.77" height="7.16" fill="#abd0e4" stroke="#76899a" stroke-width="0.6" />
<rect x="213.54" y="483.70" width="5.77" height="7.16" fill="#fee699" stroke="#76899a" stroke-width="0.6" />
<rect x="219.31" y="483.70" width="5.77" height="7.16" fill="#6c9bc8" stroke="#76899a" stroke-width="0.6" />
<rect x="144.30" y="490.85" width="5.77" height="7.16" fill="#6291c3" stroke="#76899a" stroke-width="0.6" />
<rect x="150.07" y="490.85" width="5.77" height="7.16" fill="#fff9b6" stroke="#76899a" stroke-width="0.6" />
<rect x="155.84" y="490.85" width="5.77" height="7.16" fill="#fecb82" stroke="#76899a" stroke-width="0.6" />
<rect x="161.61" y="490.85" width="5.77" height="7.16" fill="#abd0e4" stroke="#76899a" stroke-width="0.6" />
<rect x="167.38" y="490.85" width="5.77" height="7.16" fill="#b5d7e8" stroke="#76899a" stroke-width="0.6" />
<rect x="173.15" y="490.85" width="5.77" height="7.16" fill="#f7fccd" stroke="#76899a" stroke-width="0.6" />
<rect x="178.92" y="490.85" width="5.77" height="7.16" fill="#a0c9e1" stroke="#76899a" stroke-width="0.6" />
<rect x="184.69" y="490.85" width="5.77" height="7.16" fill="#fcfec5" stroke="#76899a" stroke-width="0.6" />
<rect x="190.46" y="490.85" width="5.77" height="7.16" fill="#fca167" stroke="#76899a" stroke-width="0.6" />
<rect x="196.23" y="490.85" width="5.77" height="7.16" fill="#6291c3" stroke="#76899a" stroke-width="0.6" />
<rect x="202.00" y="490.85" width="5.77" height="7.16" fill="#76a5cd" stroke="#76899a" stroke-width="0.6" />
<rect x="207.77" y="490.85" width="5.77" height="7.16" fill="#6c9bc8" stroke="#76899a" stroke-width="0.6" />
<rect x="213.54" y="490.85" width="5.77" height="7.16" fill="#fff9b6" stroke="#76899a" stroke-width="0.6" />
<rect x="219.31" y="490.85" width="5.77" height="7.16" fill="#fffdbd" stroke="#76899a" stroke-width="0.6" />
<rect x="144.30" y="498.01" width="5.77" height="7.16" fill="#76a5cd" stroke="#76899a" stroke-width="0.6" />
<rect x="150.07" y="498.01" width="5.77" height="7.16" fill="#e9f7e7" stroke="#76899a" stroke-width="0.6" />
<rect x="155.84" y="498.01" width="5.77" height="7.16" fill="#abd0e4" stroke="#76899a" stroke-width="0.6" />
<rect x="161.61" y="498.01" width="5.77" height="7.16" fill="#81afd3" stroke="#76899a" stroke-width="0.6" />
<rect x="167.38" y="498.01" width="5.77" height="7.16" fill="#76a5cd" stroke="#76899a" stroke-width="0.6" />
<rect x="173.15" y="498.01" width="5.77" height="7.16" fill="#e9f7e7" stroke="#76899a" stroke-width="0.6" />
<rect x="178.92" y="498.01" width="5.77" height="7.16" fill="#c0deec" stroke="#76899a" stroke-width="0.6" />
<rect x="184.69" y="498.01" width="5.77" height="7.16" fill="#f7fccd" stroke="#76899a" stroke-width="0.6" />
<rect x="190.46" y="498.01" width="5.77" height="7.16" fill="#ea6141" stroke="#76899a" stroke-width="0.6" />
<rect x="196.23" y="498.01" width="5.77" height="7.16" fill="#cbe5f0" stroke="#76899a" stroke-width="0.6" />
<rect x="202.00" y="498.01" width="5.77" height="7.16" fill="#eef8de" stroke="#76899a" stroke-width="0.6" />
<rect x="207.77" y="498.01" width="5.77" height="7.16" fill="#76a5cd" stroke="#76899a" stroke-width="0.6" />
<rect x="213.54" y="498.01" width="5.77" height="7.16" fill="#a0c9e1" stroke="#76899a" stroke-width="0.6" />
<rect x="219.31" y="498.01" width="5.77" height="7.16" fill="#f06e48" stroke="#76899a" stroke-width="0.6" />
<rect x="144.30" y="505.16" width="5.77" height="7.16" fill="#76a5cd" stroke="#76899a" stroke-width="0.6" />
<rect x="150.07" y="505.16" width="5.77" height="7.16" fill="#e85a3e" stroke="#76899a" stroke-width="0.6" />
<rect x="155.84" y="505.16" width="5.77" height="7.16" fill="#fffdbd" stroke="#76899a" stroke-width="0.6" />
<rect x="161.61" y="505.16" width="5.77" height="7.16" fill="#fee699" stroke="#76899a" stroke-width="0.6" />
<rect x="167.38" y="505.16" width="5.77" height="7.16" fill="#f3fad6" stroke="#76899a" stroke-width="0.6" />
<rect x="173.15" y="505.16" width="5.77" height="7.16" fill="#eef8de" stroke="#76899a" stroke-width="0.6" />
<rect x="178.92" y="505.16" width="5.77" height="7.16" fill="#a0c9e1" stroke="#76899a" stroke-width="0.6" />
<rect x="184.69" y="505.16" width="5.77" height="7.16" fill="#fcfec5" stroke="#76899a" stroke-width="0.6" />
<rect x="190.46" y="505.16" width="5.77" height="7.16" fill="#fef0a8" stroke="#76899a" stroke-width="0.6" />
<rect x="196.23" y="505.16" width="5.77" height="7.16" fill="#95c2dd" stroke="#76899a" stroke-width="0.6" />
<rect x="202.00" y="505.16" width="5.77" height="7.16" fill="#4575b4" stroke="#76899a" stroke-width="0.6" />
<rect x="207.77" y="505.16" width="5.77" height="7.16" fill="#cbe5f0" stroke="#76899a" stroke-width="0.6" />
<rect x="213.54" y="505.16" width="5.77" height="7.16" fill="#cbe5f0" stroke="#76899a" stroke-width="0.6" />
<rect x="219.31" y="505.16" width="5.77" height="7.16" fill="#c0deec" stroke="#76899a" stroke-width="0.6" />
<rect x="144.30" y="512.32" width="5.77" height="7.16" fill="#c0deec" stroke="#76899a" stroke-width="0.6" />
<rect x="150.07" y="512.32" width="5.77" height="7.16" fill="#fc8f5b" stroke="#76899a" stroke-width="0.6" />
<rect x="155.84" y="512.32" width="5.77" height="7.16" fill="#e0f3f8" stroke="#76899a" stroke-width="0.6" />
<rect x="161.61" y="512.32" width="5.77" height="7.16" fill="#fef0a8" stroke="#76899a" stroke-width="0.6" />
<rect x="167.38" y="512.32" width="5.77" height="7.16" fill="#eef8de" stroke="#76899a" stroke-width="0.6" />
<rect x="173.15" y="512.32" width="5.77" height="7.16" fill="#b5d7e8" stroke="#76899a" stroke-width="0.6" />
<rect x="178.92" y="512.32" width="5.77" height="7.16" fill="#8bb9d8" stroke="#76899a" stroke-width="0.6" />
<rect x="184.69" y="512.32" width="5.77" height="7.16" fill="#fee699" stroke="#76899a" stroke-width="0.6" />
<rect x="190.46" y="512.32" width="5.77" height="7.16" fill="#fed88b" stroke="#76899a" stroke-width="0.6" />
<rect x="196.23" y="512.32" width="5.77" height="7.16" fill="#fcfec5" stroke="#76899a" stroke-width="0.6" />
<rect x="202.00" y="512.32" width="5.77" height="7.16" fill="#4575b4" stroke="#76899a" stroke-width="0.6" />
<rect x="207.77" y="512.32" width="5.77" height="7.16" fill="#b5d7e8" stroke="#76899a" stroke-width="0.6" />
<rect x="213.54" y="512.32" width="5.77" height="7.16" fill="#c0deec" stroke="#76899a" stroke-width="0.6" />
<rect x="219.31" y="512.32" width="5.77" height="7.16" fill="#b5d7e8" stroke="#76899a" stroke-width="0.6" />
<rect x="144.30" y="519.48" width="5.77" height="7.16" fill="#76a5cd" stroke="#76899a" stroke-width="0.6" />
<rect x="150.07" y="519.48" width="5.77" height="7.16" fill="#fee699" stroke="#76899a" stroke-width="0.6" />
<rect x="155.84" y="519.48" width="5.77" height="7.16" fill="#f06e48" stroke="#76899a" stroke-width="0.6" />
<rect x="161.61" y="519.48" width="5.77" height="7.16" fill="#e0f3f8" stroke="#76899a" stroke-width="0.6" />
<rect x="167.38" y="519.48" width="5.77" height="7.16" fill="#76a5cd" stroke="#76899a" stroke-width="0.6" />
<rect x="173.15" y="519.48" width="5.77" height="7.16" fill="#8bb9d8" stroke="#76899a" stroke-width="0.6" />
<rect x="178.92" y="519.48" width="5.77" height="7.16" fill="#a0c9e1" stroke="#76899a" stroke-width="0.6" />
<rect x="184.69" y="519.48" width="5.77" height="7.16" fill="#fffdbd" stroke="#76899a" stroke-width="0.6" />
<rect x="190.46" y="519.48" width="5.77" height="7.16" fill="#b5d7e8" stroke="#76899a" stroke-width="0.6" />
<rect x="196.23" y="519.48" width="5.77" height="7.16" fill="#8bb9d8" stroke="#76899a" stroke-width="0.6" />
<rect x="202.00" y="519.48" width="5.77" height="7.16" fill="#f3fad6" stroke="#76899a" stroke-width="0.6" />
<rect x="207.77" y="519.48" width="5.77" height="7.16" fill="#8bb9d8" stroke="#76899a" stroke-width="0.6" />
<rect x="213.54" y="519.48" width="5.77" height="7.16" fill="#fee292" stroke="#76899a" stroke-width="0.6" />
<rect x="219.31" y="519.48" width="5.77" height="7.16" fill="#fdb976" stroke="#76899a" stroke-width="0.6" />
<rect x="144.30" y="526.63" width="5.77" height="7.16" fill="#81afd3" stroke="#76899a" stroke-width="0.6" />
<rect x="150.07" y="526.63" width="5.77" height="7.16" fill="#fdb976" stroke="#76899a" stroke-width="0.6" />
<rect x="155.84" y="526.63" width="5.77" height="7.16" fill="#fcfec5" stroke="#76899a" stroke-width="0.6" />
<rect x="161.61" y="526.63" width="5.77" height="7.16" fill="#f3fad6" stroke="#76899a" stroke-width="0.6" />
<rect x="167.38" y="526.63" width="5.77" height="7.16" fill="#b5d7e8" stroke="#76899a" stroke-width="0.6" />
<rect x="173.15" y="526.63" width="5.77" height="7.16" fill="#fff9b6" stroke="#76899a" stroke-width="0.6" />
<rect x="178.92" y="526.63" width="5.77" height="7.16" fill="#fcfec5" stroke="#76899a" stroke-width="0.6" />
<rect x="184.69" y="526.63" width="5.77" height="7.16" fill="#eef8de" stroke="#76899a" stroke-width="0.6" />
<rect x="190.46" y="526.63" width="5.77" height="7.16" fill="#fee699" stroke="#76899a" stroke-width="0.6" />
<rect x="196.23" y="526.63" width="5.77" height="7.16" fill="#cbe5f0" stroke="#76899a" stroke-width="0.6" />
<rect x="202.00" y="526.63" width="5.77" height="7.16" fill="#abd0e4" stroke="#76899a" stroke-width="0.6" />
<rect x="207.77" y="526.63" width="5.77" height="7.16" fill="#5887be" stroke="#76899a" stroke-width="0.6" />
<rect x="213.54" y="526.63" width="5.77" height="7.16" fill="#c0deec" stroke="#76899a" stroke-width="0.6" />
<rect x="219.31" y="526.63" width="5.77" height="7.16" fill="#c0deec" stroke="#76899a" stroke-width="0.6" />
<rect x="144.30" y="533.78" width="5.77" height="7.16" fill="#76a5cd" stroke="#76899a" stroke-width="0.6" />
<rect x="150.07" y="533.78" width="5.77" height="7.16" fill="#c0deec" stroke="#76899a" stroke-width="0.6" />
<rect x="155.84" y="533.78" width="5.77" height="7.16" fill="#76a5cd" stroke="#76899a" stroke-width="0.6" />
<rect x="161.61" y="533.78" width="5.77" height="7.16" fill="#eef8de" stroke="#76899a" stroke-width="0.6" />
<rect x="167.38" y="533.78" width="5.77" height="7.16" fill="#81afd3" stroke="#76899a" stroke-width="0.6" />
<rect x="173.15" y="533.78" width="5.77" height="7.16" fill="#fee292" stroke="#76899a" stroke-width="0.6" />
<rect x="178.92" y="533.78" width="5.77" height="7.16" fill="#f3fad6" stroke="#76899a" stroke-width="0.6" />
<rect x="184.69" y="533.78" width="5.77" height="7.16" fill="#e04633" stroke="#76899a" stroke-width="0.6" />
<rect x="190.46" y="533.78" width="5.77" height="7.16" fill="#fecb82" stroke="#76899a" stroke-width="0.6" />
<rect x="196.23" y="533.78" width="5.77" height="7.16" fill="#81afd3" stroke="#76899a" stroke-width="0.6" />
<rect x="202.00" y="533.78" width="5.77" height="7.16" fill="#a0c9e1" stroke="#76899a" stroke-width="0.6" />
<rect x="207.77" y="533.78" width="5.77" height="7.16" fill="#6291c3" stroke="#76899a" stroke-width="0.6" />
<rect x="213.54" y="533.78" width="5.77" height="7.16" fill="#d5ecf4" stroke="#76899a" stroke-width="0.6" />
<rect x="219.31" y="533.78" width="5.77" height="7.16" fill="#fef0a8" stroke="#76899a" stroke-width="0.6" />
<rect x="144.30" y="540.94" width="5.77" height="7.16" fill="#76a5cd" stroke="#76899a" stroke-width="0.6" />
<rect x="150.07" y="540.94" width="5.77" height="7.16" fill="#fffdbd" stroke="#76899a" stroke-width="0.6" />
<rect x="155.84" y="540.94" width="5.77" height="7.16" fill="#f06e48" stroke="#76899a" stroke-width="0.6" />
<rect x="161.61" y="540.94" width="5.77" height="7.16" fill="#fcfec5" stroke="#76899a" stroke-width="0.6" />
<rect x="167.38" y="540.94" width="5.77" height="7.16" fill="#a0c9e1" stroke="#76899a" stroke-width="0.6" />
<rect x="173.15" y="540.94" width="5.77" height="7.16" fill="#cbe5f0" stroke="#76899a" stroke-width="0.6" />
<rect x="178.92" y="540.94" width="5.77" height="7.16" fill="#d5ecf4" stroke="#76899a" stroke-width="0.6" />
<rect x="184.69" y="540.94" width="5.77" height="7.16" fill="#fffdbd" stroke="#76899a" stroke-width="0.6" />
<rect x="190.46" y="540.94" width="5.77" height="7.16" fill="#b5d7e8" stroke="#76899a" stroke-width="0.6" />
<rect x="196.23" y="540.94" width="5.77" height="7.16" fill="#81afd3" stroke="#76899a" stroke-width="0.6" />
<rect x="202.00" y="540.94" width="5.77" height="7.16" fill="#6291c3" stroke="#76899a" stroke-width="0.6" />
<rect x="207.77" y="540.94" width="5.77" height="7.16" fill="#6c9bc8" stroke="#76899a" stroke-width="0.6" />
<rect x="213.54" y="540.94" width="5.77" height="7.16" fill="#feeba0" stroke="#76899a" stroke-width="0.6" />
<rect x="219.31" y="540.94" width="5.77" height="7.16" fill="#eef8de" stroke="#76899a" stroke-width="0.6" />
<rect x="144.30" y="548.10" width="5.77" height="7.16" fill="#abd0e4" stroke="#76899a" stroke-width="0.6" />
<rect x="150.07" y="548.10" width="5.77" height="7.16" fill="#fffdbd" stroke="#76899a" stroke-width="0.6" />
<rect x="155.84" y="548.10" width="5.77" height="7.16" fill="#76a5cd" stroke="#76899a" stroke-width="0.6" />
<rect x="161.61" y="548.10" width="5.77" height="7.16" fill="#a0c9e1" stroke="#76899a" stroke-width="0.6" />
<rect x="167.38" y="548.10" width="5.77" height="7.16" fill="#c0deec" stroke="#76899a" stroke-width="0.6" />
<rect x="173.15" y="548.10" width="5.77" height="7.16" fill="#f7fccd" stroke="#76899a" stroke-width="0.6" />
<rect x="178.92" y="548.10" width="5.77" height="7.16" fill="#cbe5f0" stroke="#76899a" stroke-width="0.6" />
<rect x="184.69" y="548.10" width="5.77" height="7.16" fill="#fff9b6" stroke="#76899a" stroke-width="0.6" />
<rect x="190.46" y="548.10" width="5.77" height="7.16" fill="#f7fccd" stroke="#76899a" stroke-width="0.6" />
<rect x="196.23" y="548.10" width="5.77" height="7.16" fill="#f57c50" stroke="#76899a" stroke-width="0.6" />
<rect x="202.00" y="548.10" width="5.77" height="7.16" fill="#e9f7e7" stroke="#76899a" stroke-width="0.6" />
<rect x="207.77" y="548.10" width="5.77" height="7.16" fill="#eef8de" stroke="#76899a" stroke-width="0.6" />
<rect x="213.54" y="548.10" width="5.77" height="7.16" fill="#f3fad6" stroke="#76899a" stroke-width="0.6" />
<rect x="219.31" y="548.10" width="5.77" height="7.16" fill="#abd0e4" stroke="#76899a" stroke-width="0.6" />
<rect x="144.30" y="555.25" width="5.77" height="7.16" fill="#5887be" stroke="#76899a" stroke-width="0.6" />
<rect x="150.07" y="555.25" width="5.77" height="7.16" fill="#fff9b6" stroke="#76899a" stroke-width="0.6" />
<rect x="155.84" y="555.25" width="5.77" height="7.16" fill="#c0deec" stroke="#76899a" stroke-width="0.6" />
<rect x="161.61" y="555.25" width="5.77" height="7.16" fill="#fcfec5" stroke="#76899a" stroke-width="0.6" />
<rect x="167.38" y="555.25" width="5.77" height="7.16" fill="#f7fccd" stroke="#76899a" stroke-width="0.6" />
<rect x="173.15" y="555.25" width="5.77" height="7.16" fill="#fcfec5" stroke="#76899a" stroke-width="0.6" />
<rect x="178.92" y="555.25" width="5.77" height="7.16" fill="#fcfec5" stroke="#76899a" stroke-width="0.6" />
<rect x="184.69" y="555.25" width="5.77" height="7.16" fill="#fef0a8" stroke="#76899a" stroke-width="0.6" />
<rect x="190.46" y="555.25" width="5.77" height="7.16" fill="#fff9b6" stroke="#76899a" stroke-width="0.6" />
<rect x="196.23" y="555.25" width="5.77" height="7.16" fill="#c0deec" stroke="#76899a" stroke-width="0.6" />
<rect x="202.00" y="555.25" width="5.77" height="7.16" fill="#6291c3" stroke="#76899a" stroke-width="0.6" />
<rect x="207.77" y="555.25" width="5.77" height="7.16" fill="#eef8de" stroke="#76899a" stroke-width="0.6" />
<rect x="213.54" y="555.25" width="5.77" height="7.16" fill="#f3fad6" stroke="#76899a" stroke-width="0.6" />
<rect x="219.31" y="555.25" width="5.77" height="7.16" fill="#f3fad6" stroke="#76899a" stroke-width="0.6" />
<rect x="144.30" y="562.40" width="5.77" height="7.16" fill="#a0c9e1" stroke="#76899a" stroke-width="0.6" />
<rect x="150.07" y="562.40" width="5.77" height="7.16" fill="#fff9b6" stroke="#76899a" stroke-width="0.6" />
<rect x="155.84" y="562.40" width="5.77" height="7.16" fill="#cbe5f0" stroke="#76899a" stroke-width="0.6" />
<rect x="161.61" y="562.40" width="5.77" height="7.16" fill="#f3fad6" stroke="#76899a" stroke-width="0.6" />
<rect x="167.38" y="562.40" width="5.77" height="7.16" fill="#e9f7e7" stroke="#76899a" stroke-width="0.6" />
<rect x="173.15" y="562.40" width="5.77" height="7.16" fill="#d5ecf4" stroke="#76899a" stroke-width="0.6" />
<rect x="178.92" y="562.40" width="5.77" height="7.16" fill="#eef8de" stroke="#76899a" stroke-width="0.6" />
<rect x="184.69" y="562.40" width="5.77" height="7.16" fill="#fff9b6" stroke="#76899a" stroke-width="0.6" />
<rect x="190.46" y="562.40" width="5.77" height="7.16" fill="#fef0a8" stroke="#76899a" stroke-width="0.6" />
<rect x="196.23" y="562.40" width="5.77" height="7.16" fill="#cbe5f0" stroke="#76899a" stroke-width="0.6" />
<rect x="202.00" y="562.40" width="5.77" height="7.16" fill="#5887be" stroke="#76899a" stroke-width="0.6" />
<rect x="207.77" y="562.40" width="5.77" height="7.16" fill="#a0c9e1" stroke="#76899a" stroke-width="0.6" />
<rect x="213.54" y="562.40" width="5.77" height="7.16" fill="#fffdbd" stroke="#76899a" stroke-width="0.6" />
<rect x="219.31" y="562.40" width="5.77" height="7.16" fill="#f7fccd" stroke="#76899a" stroke-width="0.6" />
<rect x="144.30" y="569.56" width="5.77" height="7.16" fill="#4d7db8" stroke="#76899a" stroke-width="0.6" />
<rect x="150.07" y="569.56" width="5.77" height="7.16" fill="#4575b4" stroke="#76899a" stroke-width="0.6" />
<rect x="155.84" y="569.56" width="5.77" height="7.16" fill="#5887be" stroke="#76899a" stroke-width="0.6" />
<rect x="161.61" y="569.56" width="5.77" height="7.16" fill="#76a5cd" stroke="#76899a" stroke-width="0.6" />
<rect x="167.38" y="569.56" width="5.77" height="7.16" fill="#4d7db8" stroke="#76899a" stroke-width="0.6" />
<rect x="173.15" y="569.56" width="5.77" height="7.16" fill="#6291c3" stroke="#76899a" stroke-width="0.6" />
<rect x="178.92" y="569.56" width="5.77" height="7.16" fill="#81afd3" stroke="#76899a" stroke-width="0.6" />
<rect x="184.69" y="569.56" width="5.77" height="7.16" fill="#95c2dd" stroke="#76899a" stroke-width="0.6" />
<rect x="190.46" y="569.56" width="5.77" height="7.16" fill="#6291c3" stroke="#76899a" stroke-width="0.6" />
<rect x="196.23" y="569.56" width="5.77" height="7.16" fill="#6c9bc8" stroke="#76899a" stroke-width="0.6" />
<rect x="202.00" y="569.56" width="5.77" height="7.16" fill="#e0f3f8" stroke="#76899a" stroke-width="0.6" />
<rect x="207.77" y="569.56" width="5.77" height="7.16" fill="#f3fad6" stroke="#76899a" stroke-width="0.6" />
<rect x="213.54" y="569.56" width="5.77" height="7.16" fill="#6291c3" stroke="#76899a" stroke-width="0.6" />
<rect x="219.31" y="569.56" width="5.77" height="7.16" fill="#cbe5f0" stroke="#76899a" stroke-width="0.6" />
<rect x="144.30" y="576.72" width="5.77" height="7.16" fill="#76a5cd" stroke="#76899a" stroke-width="0.6" />
<rect x="150.07" y="576.72" width="5.77" height="7.16" fill="#6c9bc8" stroke="#76899a" stroke-width="0.6" />
<rect x="155.84" y="576.72" width="5.77" height="7.16" fill="#a0c9e1" stroke="#76899a" stroke-width="0.6" />
<rect x="161.61" y="576.72" width="5.77" height="7.16" fill="#95c2dd" stroke="#76899a" stroke-width="0.6" />
<rect x="167.38" y="576.72" width="5.77" height="7.16" fill="#76a5cd" stroke="#76899a" stroke-width="0.6" />
<rect x="173.15" y="576.72" width="5.77" height="7.16" fill="#b5d7e8" stroke="#76899a" stroke-width="0.6" />
<rect x="178.92" y="576.72" width="5.77" height="7.16" fill="#abd0e4" stroke="#76899a" stroke-width="0.6" />
<rect x="184.69" y="576.72" width="5.77" height="7.16" fill="#e5f5ef" stroke="#76899a" stroke-width="0.6" />
<rect x="190.46" y="576.72" width="5.77" height="7.16" fill="#a0c9e1" stroke="#76899a" stroke-width="0.6" />
<rect x="196.23" y="576.72" width="5.77" height="7.16" fill="#76a5cd" stroke="#76899a" stroke-width="0.6" />
<rect x="202.00" y="576.72" width="5.77" height="7.16" fill="#81afd3" stroke="#76899a" stroke-width="0.6" />
<rect x="207.77" y="576.72" width="5.77" height="7.16" fill="#eef8de" stroke="#76899a" stroke-width="0.6" />
<rect x="213.54" y="576.72" width="5.77" height="7.16" fill="#81afd3" stroke="#76899a" stroke-width="0.6" />
<rect x="219.31" y="576.72" width="5.77" height="7.16" fill="#e9f7e7" stroke="#76899a" stroke-width="0.6" />
<rect x="144.30" y="583.87" width="5.77" height="7.16" fill="#a0c9e1" stroke="#76899a" stroke-width="0.6" />
<rect x="150.07" y="583.87" width="5.77" height="7.16" fill="#95c2dd" stroke="#76899a" stroke-width="0.6" />
<rect x="155.84" y="583.87" width="5.77" height="7.16" fill="#a0c9e1" stroke="#76899a" stroke-width="0.6" />
<rect x="161.61" y="583.87" width="5.77" height="7.16" fill="#95c2dd" stroke="#76899a" stroke-width="0.6" />
<rect x="167.38" y="583.87" width="5.77" height="7.16" fill="#81afd3" stroke="#76899a" stroke-width="0.6" />
<rect x="173.15" y="583.87" width="5.77" height="7.16" fill="#abd0e4" stroke="#76899a" stroke-width="0.6" />
<rect x="178.92" y="583.87" width="5.77" height="7.16" fill="#abd0e4" stroke="#76899a" stroke-width="0.6" />
<rect x="184.69" y="583.87" width="5.77" height="7.16" fill="#c0deec" stroke="#76899a" stroke-width="0.6" />
<rect x="190.46" y="583.87" width="5.77" height="7.16" fill="#95c2dd" stroke="#76899a" stroke-width="0.6" />
<rect x="196.23" y="583.87" width="5.77" height="7.16" fill="#81afd3" stroke="#76899a" stroke-width="0.6" />
<rect x="202.00" y="583.87" width="5.77" height="7.16" fill="#abd0e4" stroke="#76899a" stroke-width="0.6" />
<rect x="207.77" y="583.87" width="5.77" height="7.16" fill="#cbe5f0" stroke="#76899a" stroke-width="0.6" />
<rect x="213.54" y="583.87" width="5.77" height="7.16" fill="#81afd3" stroke="#76899a" stroke-width="0.6" />
<rect x="219.31" y="583.87" width="5.77" height="7.16" fill="#abd0e4" stroke="#76899a" stroke-width="0.6" />
<rect x="144.30" y="591.02" width="5.77" height="7.16" fill="#d5ecf4" stroke="#76899a" stroke-width="0.6" />
<rect x="150.07" y="591.02" width="5.77" height="7.16" fill="#76a5cd" stroke="#76899a" stroke-width="0.6" />
<rect x="155.84" y="591.02" width="5.77" height="7.16" fill="#95c2dd" stroke="#76899a" stroke-width="0.6" />
<rect x="161.61" y="591.02" width="5.77" height="7.16" fill="#76a5cd" stroke="#76899a" stroke-width="0.6" />
<rect x="167.38" y="591.02" width="5.77" height="7.16" fill="#81afd3" stroke="#76899a" stroke-width="0.6" />
<rect x="173.15" y="591.02" width="5.77" height="7.16" fill="#81afd3" stroke="#76899a" stroke-width="0.6" />
<rect x="178.92" y="591.02" width="5.77" height="7.16" fill="#f7fccd" stroke="#76899a" stroke-width="0.6" />
<rect x="184.69" y="591.02" width="5.77" height="7.16" fill="#e9f7e7" stroke="#76899a" stroke-width="0.6" />
<rect x="190.46" y="591.02" width="5.77" height="7.16" fill="#6291c3" stroke="#76899a" stroke-width="0.6" />
<rect x="196.23" y="591.02" width="5.77" height="7.16" fill="#6c9bc8" stroke="#76899a" stroke-width="0.6" />
<rect x="202.00" y="591.02" width="5.77" height="7.16" fill="#8bb9d8" stroke="#76899a" stroke-width="0.6" />
<rect x="207.77" y="591.02" width="5.77" height="7.16" fill="#fcfec5" stroke="#76899a" stroke-width="0.6" />
<rect x="213.54" y="591.02" width="5.77" height="7.16" fill="#6291c3" stroke="#76899a" stroke-width="0.6" />
<rect x="219.31" y="591.02" width="5.77" height="7.16" fill="#6c9bc8" stroke="#76899a" stroke-width="0.6" />
<rect x="144.30" y="598.18" width="5.77" height="7.16" fill="#e0f3f8" stroke="#76899a" stroke-width="0.6" />
<rect x="150.07" y="598.18" width="5.77" height="7.16" fill="#a0c9e1" stroke="#76899a" stroke-width="0.6" />
<rect x="155.84" y="598.18" width="5.77" height="7.16" fill="#81afd3" stroke="#76899a" stroke-width="0.6" />
<rect x="161.61" y="598.18" width="5.77" height="7.16" fill="#4d7db8" stroke="#76899a" stroke-width="0.6" />
<rect x="167.38" y="598.18" width="5.77" height="7.16" fill="#8bb9d8" stroke="#76899a" stroke-width="0.6" />
<rect x="173.15" y="598.18" width="5.77" height="7.16" fill="#6c9bc8" stroke="#76899a" stroke-width="0.6" />
<rect x="178.92" y="598.18" width="5.77" height="7.16" fill="#76a5cd" stroke="#76899a" stroke-width="0.6" />
<rect x="184.69" y="598.18" width="5.77" height="7.16" fill="#a0c9e1" stroke="#76899a" stroke-width="0.6" />
<rect x="190.46" y="598.18" width="5.77" height="7.16" fill="#6291c3" stroke="#76899a" stroke-width="0.6" />
<rect x="196.23" y="598.18" width="5.77" height="7.16" fill="#e9f7e7" stroke="#76899a" stroke-width="0.6" />
<rect x="202.00" y="598.18" width="5.77" height="7.16" fill="#e5f5ef" stroke="#76899a" stroke-width="0.6" />
<rect x="207.77" y="598.18" width="5.77" height="7.16" fill="#e5f5ef" stroke="#76899a" stroke-width="0.6" />
<rect x="213.54" y="598.18" width="5.77" height="7.16" fill="#6291c3" stroke="#76899a" stroke-width="0.6" />
<rect x="219.31" y="598.18" width="5.77" height="7.16" fill="#6c9bc8" stroke="#76899a" stroke-width="0.6" />
<rect x="144.30" y="605.34" width="5.77" height="7.16" fill="#e0f3f8" stroke="#76899a" stroke-width="0.6" />
<rect x="150.07" y="605.34" width="5.77" height="7.16" fill="#8bb9d8" stroke="#76899a" stroke-width="0.6" />
<rect x="155.84" y="605.34" width="5.77" height="7.16" fill="#4575b4" stroke="#76899a" stroke-width="0.6" />
<rect x="161.61" y="605.34" width="5.77" height="7.16" fill="#5887be" stroke="#76899a" stroke-width="0.6" />
<rect x="167.38" y="605.34" width="5.77" height="7.16" fill="#4d7db8" stroke="#76899a" stroke-width="0.6" />
<rect x="173.15" y="605.34" width="5.77" height="7.16" fill="#4d7db8" stroke="#76899a" stroke-width="0.6" />
<rect x="178.92" y="605.34" width="5.77" height="7.16" fill="#e0f3f8" stroke="#76899a" stroke-width="0.6" />
<rect x="184.69" y="605.34" width="5.77" height="7.16" fill="#a0c9e1" stroke="#76899a" stroke-width="0.6" />
<rect x="190.46" y="605.34" width="5.77" height="7.16" fill="#95c2dd" stroke="#76899a" stroke-width="0.6" />
<rect x="196.23" y="605.34" width="5.77" height="7.16" fill="#d5ecf4" stroke="#76899a" stroke-width="0.6" />
<rect x="202.00" y="605.34" width="5.77" height="7.16" fill="#cbe5f0" stroke="#76899a" stroke-width="0.6" />
<rect x="207.77" y="605.34" width="5.77" height="7.16" fill="#c0deec" stroke="#76899a" stroke-width="0.6" />
<rect x="213.54" y="605.34" width="5.77" height="7.16" fill="#a0c9e1" stroke="#76899a" stroke-width="0.6" />
<rect x="219.31" y="605.34" width="5.77" height="7.16" fill="#8bb9d8" stroke="#76899a" stroke-width="0.6" />
<rect x="144.30" y="612.49" width="5.77" height="7.16" fill="#76a5cd" stroke="#76899a" stroke-width="0.6" />
<rect x="150.07" y="612.49" width="5.77" height="7.16" fill="#fff9b6" stroke="#76899a" stroke-width="0.6" />
<rect x="155.84" y="612.49" width="5.77" height="7.16" fill="#a0c9e1" stroke="#76899a" stroke-width="0.6" />
<rect x="161.61" y="612.49" width="5.77" height="7.16" fill="#76a5cd" stroke="#76899a" stroke-width="0.6" />
<rect x="167.38" y="612.49" width="5.77" height="7.16" fill="#76a5cd" stroke="#76899a" stroke-width="0.6" />
<rect x="173.15" y="612.49" width="5.77" height="7.16" fill="#95c2dd" stroke="#76899a" stroke-width="0.6" />
<rect x="178.92" y="612.49" width="5.77" height="7.16" fill="#c0deec" stroke="#76899a" stroke-width="0.6" />
<rect x="184.69" y="612.49" width="5.77" height="7.16" fill="#76a5cd" stroke="#76899a" stroke-width="0.6" />
<rect x="190.46" y="612.49" width="5.77" height="7.16" fill="#76a5cd" stroke="#76899a" stroke-width="0.6" />
<rect x="196.23" y="612.49" width="5.77" height="7.16" fill="#a0c9e1" stroke="#76899a" stroke-width="0.6" />
<rect x="202.00" y="612.49" width="5.77" height="7.16" fill="#e5f5ef" stroke="#76899a" stroke-width="0.6" />
<rect x="207.77" y="612.49" width="5.77" height="7.16" fill="#76a5cd" stroke="#76899a" stroke-width="0.6" />
<rect x="213.54" y="612.49" width="5.77" height="7.16" fill="#81afd3" stroke="#76899a" stroke-width="0.6" />
<rect x="219.31" y="612.49" width="5.77" height="7.16" fill="#a0c9e1" stroke="#76899a" stroke-width="0.6" />
<rect x="144.30" y="619.64" width="5.77" height="7.16" fill="#fdb976" stroke="#76899a" stroke-width="0.6" />
<rect x="150.07" y="619.64" width="5.77" height="7.16" fill="#6c9bc8" stroke="#76899a" stroke-width="0.6" />
<rect x="155.84" y="619.64" width="5.77" height="7.16" fill="#95c2dd" stroke="#76899a" stroke-width="0.6" />
<rect x="161.61" y="619.64" width="5.77" height="7.16" fill="#5887be" stroke="#76899a" stroke-width="0.6" />
<rect x="167.38" y="619.64" width="5.77" height="7.16" fill="#c0deec" stroke="#76899a" stroke-width="0.6" />
<rect x="173.15" y="619.64" width="5.77" height="7.16" fill="#76a5cd" stroke="#76899a" stroke-width="0.6" />
<rect x="178.92" y="619.64" width="5.77" height="7.16" fill="#76a5cd" stroke="#76899a" stroke-width="0.6" />
<rect x="184.69" y="619.64" width="5.77" height="7.16" fill="#a0c9e1" stroke="#76899a" stroke-width="0.6" />
<rect x="190.46" y="619.64" width="5.77" height="7.16" fill="#a0c9e1" stroke="#76899a" stroke-width="0.6" />
<rect x="196.23" y="619.64" width="5.77" height="7.16" fill="#d5ecf4" stroke="#76899a" stroke-width="0.6" />
<rect x="202.00" y="619.64" width="5.77" height="7.16" fill="#95c2dd" stroke="#76899a" stroke-width="0.6" />
<rect x="207.77" y="619.64" width="5.77" height="7.16" fill="#c0deec" stroke="#76899a" stroke-width="0.6" />
<rect x="213.54" y="619.64" width="5.77" height="7.16" fill="#c0deec" stroke="#76899a" stroke-width="0.6" />
<rect x="219.31" y="619.64" width="5.77" height="7.16" fill="#76a5cd" stroke="#76899a" stroke-width="0.6" />
<rect x="144.30" y="626.80" width="5.77" height="7.16" fill="#abd0e4" stroke="#76899a" stroke-width="0.6" />
<rect x="150.07" y="626.80" width="5.77" height="7.16" fill="#76a5cd" stroke="#76899a" stroke-width="0.6" />
<rect x="155.84" y="626.80" width="5.77" height="7.16" fill="#76a5cd" stroke="#76899a" stroke-width="0.6" />
<rect x="161.61" y="626.80" width="5.77" height="7.16" fill="#8bb9d8" stroke="#76899a" stroke-width="0.6" />
<rect x="167.38" y="626.80" width="5.77" height="7.16" fill="#6c9bc8" stroke="#76899a" stroke-width="0.6" />
<rect x="173.15" y="626.80" width="5.77" height="7.16" fill="#6c9bc8" stroke="#76899a" stroke-width="0.6" />
<rect x="178.92" y="626.80" width="5.77" height="7.16" fill="#e9f7e7" stroke="#76899a" stroke-width="0.6" />
<rect x="184.69" y="626.80" width="5.77" height="7.16" fill="#95c2dd" stroke="#76899a" stroke-width="0.6" />
<rect x="190.46" y="626.80" width="5.77" height="7.16" fill="#95c2dd" stroke="#76899a" stroke-width="0.6" />
<rect x="196.23" y="626.80" width="5.77" height="7.16" fill="#95c2dd" stroke="#76899a" stroke-width="0.6" />
<rect x="202.00" y="626.80" width="5.77" height="7.16" fill="#81afd3" stroke="#76899a" stroke-width="0.6" />
<rect x="207.77" y="626.80" width="5.77" height="7.16" fill="#a0c9e1" stroke="#76899a" stroke-width="0.6" />
<rect x="213.54" y="626.80" width="5.77" height="7.16" fill="#a0c9e1" stroke="#76899a" stroke-width="0.6" />
<rect x="219.31" y="626.80" width="5.77" height="7.16" fill="#e5f5ef" stroke="#76899a" stroke-width="0.6" />
<rect x="144.30" y="633.95" width="5.77" height="7.16" fill="#a0c9e1" stroke="#76899a" stroke-width="0.6" />
<rect x="150.07" y="633.95" width="5.77" height="7.16" fill="#76a5cd" stroke="#76899a" stroke-width="0.6" />
<rect x="155.84" y="633.95" width="5.77" height="7.16" fill="#6291c3" stroke="#76899a" stroke-width="0.6" />
<rect x="161.61" y="633.95" width="5.77" height="7.16" fill="#76a5cd" stroke="#76899a" stroke-width="0.6" />
<rect x="167.38" y="633.95" width="5.77" height="7.16" fill="#5887be" stroke="#76899a" stroke-width="0.6" />
<rect x="173.15" y="633.95" width="5.77" height="7.16" fill="#95c2dd" stroke="#76899a" stroke-width="0.6" />
<rect x="178.92" y="633.95" width="5.77" height="7.16" fill="#8bb9d8" stroke="#76899a" stroke-width="0.6" />
<rect x="184.69" y="633.95" width="5.77" height="7.16" fill="#76a5cd" stroke="#76899a" stroke-width="0.6" />
<rect x="190.46" y="633.95" width="5.77" height="7.16" fill="#fff4af" stroke="#76899a" stroke-width="0.6" />
<rect x="196.23" y="633.95" width="5.77" height="7.16" fill="#76a5cd" stroke="#76899a" stroke-width="0.6" />
<rect x="202.00" y="633.95" width="5.77" height="7.16" fill="#f7fccd" stroke="#76899a" stroke-width="0.6" />
<rect x="207.77" y="633.95" width="5.77" height="7.16" fill="#abd0e4" stroke="#76899a" stroke-width="0.6" />
<rect x="213.54" y="633.95" width="5.77" height="7.16" fill="#d5ecf4" stroke="#76899a" stroke-width="0.6" />
<rect x="219.31" y="633.95" width="5.77" height="7.16" fill="#81afd3" stroke="#76899a" stroke-width="0.6" />
<text x="229.80" y="489.88" font-size="6.5" fill="#222" font-style="italic" stroke="#222" stroke-width="0.06">IL7</text>
<text x="229.80" y="497.03" font-size="6.5" fill="#222" font-style="italic" stroke="#222" stroke-width="0.06">B3GAT1</text>
<text x="229.80" y="504.19" font-size="6.5" fill="#222" font-style="italic" stroke="#222" stroke-width="0.06">CCL3</text>
<text x="229.80" y="511.34" font-size="6.5" fill="#222" font-style="italic" stroke="#222" stroke-width="0.06">KLRG1</text>
<text x="229.80" y="518.50" font-size="6.5" fill="#222" font-style="italic" stroke="#222" stroke-width="0.06">EOMES</text>
<text x="229.80" y="525.65" font-size="6.5" fill="#222" font-style="italic" stroke="#222" stroke-width="0.06">IFNG</text>
<text x="229.80" y="532.81" font-size="6.5" fill="#222" font-style="italic" stroke="#222" stroke-width="0.06">TOX</text>
<text x="229.80" y="539.96" font-size="6.5" fill="#222" font-style="italic" stroke="#222" stroke-width="0.06">LTA</text>
<text x="229.80" y="547.12" font-size="6.5" fill="#222" font-style="italic" stroke="#222" stroke-width="0.06">KLRD1</text>
<text x="229.80" y="554.27" font-size="6.5" fill="#222" font-style="italic" stroke="#222" stroke-width="0.06">CD86</text>
<text x="229.80" y="561.43" font-size="6.5" fill="#222" font-style="italic" stroke="#222" stroke-width="0.06">HLA-DPA1</text>
<text x="229.80" y="568.58" font-size="6.5" fill="#222" font-style="italic" stroke="#222" stroke-width="0.06">HLA-DPB1</text>
<text x="229.80" y="575.74" font-size="6.5" fill="#222" font-style="italic" stroke="#222" stroke-width="0.06">BACH2</text>
<text x="229.80" y="582.89" font-size="6.5" fill="#222" font-style="italic" stroke="#222" stroke-width="0.06">TCF7</text>
<text x="229.80" y="590.05" font-size="6.5" fill="#222" font-style="italic" stroke="#222" stroke-width="0.06">ITGAX</text>
<text x="229.80" y="597.20" font-size="6.5" fill="#222" font-style="italic" stroke="#222" stroke-width="0.06">LEF1</text>
<text x="229.80" y="604.36" font-size="6.5" fill="#222" font-style="italic" stroke="#222" stroke-width="0.06">SELL</text>
<text x="229.80" y="611.51" font-size="6.5" fill="#222" font-style="italic" stroke="#222" stroke-width="0.06">CD27</text>
<text x="229.80" y="618.67" font-size="6.5" fill="#222" font-style="italic" stroke="#222" stroke-width="0.06">CD52</text>
<text x="229.80" y="625.82" font-size="6.5" fill="#222" font-style="italic" stroke="#222" stroke-width="0.06">CD28</text>
<text x="229.80" y="632.98" font-size="6.5" fill="#222" font-style="italic" stroke="#222" stroke-width="0.06">CD7</text>
<text x="229.80" y="640.13" font-size="6.5" fill="#222" font-style="italic" stroke="#222" stroke-width="0.06">GATA3</text>
<rect x="144.30" y="475.00" width="5.77" height="6.30" fill="#d0529f" stroke="#b9b9c9" stroke-width="0.3" />
<rect x="150.07" y="475.00" width="5.77" height="6.30" fill="#d0529f" stroke="#b9b9c9" stroke-width="0.3" />
<rect x="155.84" y="475.00" width="5.77" height="6.30" fill="#d0529f" stroke="#b9b9c9" stroke-width="0.3" />
<rect x="161.61" y="475.00" width="5.77" height="6.30" fill="#d0529f" stroke="#b9b9c9" stroke-width="0.3" />
<rect x="167.38" y="475.00" width="5.77" height="6.30" fill="#d0529f" stroke="#b9b9c9" stroke-width="0.3" />
<rect x="173.15" y="475.00" width="5.77" height="6.30" fill="#d0529f" stroke="#b9b9c9" stroke-width="0.3" />
<rect x="178.92" y="475.00" width="5.77" height="6.30" fill="#d0529f" stroke="#b9b9c9" stroke-width="0.3" />
<rect x="184.69" y="475.00" width="5.77" height="6.30" fill="#d0529f" stroke="#b9b9c9" stroke-width="0.3" />
<rect x="190.46" y="475.00" width="5.77" height="6.30" fill="#d0529f" stroke="#b9b9c9" stroke-width="0.3" />
<rect x="196.23" y="475.00" width="5.77" height="6.30" fill="#2b49a1" stroke="#b9b9c9" stroke-width="0.3" />
<rect x="202.00" y="475.00" width="5.77" height="6.30" fill="#2b49a1" stroke="#b9b9c9" stroke-width="0.3" />
<rect x="207.77" y="475.00" width="5.77" height="6.30" fill="#2b49a1" stroke="#b9b9c9" stroke-width="0.3" />
<rect x="213.54" y="475.00" width="5.77" height="6.30" fill="#2b49a1" stroke="#b9b9c9" stroke-width="0.3" />
<rect x="219.31" y="475.00" width="5.77" height="6.30" fill="#2b49a1" stroke="#b9b9c9" stroke-width="0.3" />
<polyline points="144.70,472.2 144.70,468.7 224.68,468.7 224.68,472.2" fill="none" stroke="#333" stroke-width="0.9"/>
<line x1="196.23" y1="468.70" x2="196.23" y2="472.20" stroke="#333" stroke-width="1.0" />
<text x="170.27" y="463.20" font-size="6.3" fill="#333" text-anchor="middle"  stroke="#333" stroke-width="0.24">R</text>
<text x="210.66" y="463.20" font-size="6.3" fill="#333" text-anchor="middle"  stroke="#333" stroke-width="0.24">NR</text>
<text x="154.30" y="451.9" font-size="8.2" fill="#333" textLength="52.4" lengthAdjust="spacingAndGlyphs" stroke="#333" stroke-width="0.12">Clonal CD8 T</text>
<text x="206.8" y="454.4" font-size="6.3" fill="#333" textLength="9.3" lengthAdjust="spacingAndGlyphs" stroke="#333" stroke-width="0.24">EM</text>
<rect x="272.00" y="483.70" width="5.77" height="7.16" fill="#a0c9e1" stroke="#76899a" stroke-width="0.6" />
<rect x="277.77" y="483.70" width="5.77" height="7.16" fill="#81afd3" stroke="#76899a" stroke-width="0.6" />
<rect x="283.54" y="483.70" width="5.77" height="7.16" fill="#c0deec" stroke="#76899a" stroke-width="0.6" />
<rect x="289.31" y="483.70" width="5.77" height="7.16" fill="#81afd3" stroke="#76899a" stroke-width="0.6" />
<rect x="295.08" y="483.70" width="5.77" height="7.16" fill="#abd0e4" stroke="#76899a" stroke-width="0.6" />
<rect x="300.85" y="483.70" width="5.77" height="7.16" fill="#95c2dd" stroke="#76899a" stroke-width="0.6" />
<rect x="306.62" y="483.70" width="5.77" height="7.16" fill="#a0c9e1" stroke="#76899a" stroke-width="0.6" />
<rect x="312.39" y="483.70" width="5.77" height="7.16" fill="#d5ecf4" stroke="#76899a" stroke-width="0.6" />
<rect x="318.16" y="483.70" width="5.77" height="7.16" fill="#a0c9e1" stroke="#76899a" stroke-width="0.6" />
<rect x="323.93" y="483.70" width="5.77" height="7.16" fill="#8bb9d8" stroke="#76899a" stroke-width="0.6" />
<rect x="329.70" y="483.70" width="5.77" height="7.16" fill="#a0c9e1" stroke="#76899a" stroke-width="0.6" />
<rect x="335.47" y="483.70" width="5.77" height="7.16" fill="#6c9bc8" stroke="#76899a" stroke-width="0.6" />
<rect x="341.24" y="483.70" width="5.77" height="7.16" fill="#f7fccd" stroke="#76899a" stroke-width="0.6" />
<rect x="347.01" y="483.70" width="5.77" height="7.16" fill="#6291c3" stroke="#76899a" stroke-width="0.6" />
<rect x="272.00" y="490.85" width="5.77" height="7.16" fill="#81afd3" stroke="#76899a" stroke-width="0.6" />
<rect x="277.77" y="490.85" width="5.77" height="7.16" fill="#fee292" stroke="#76899a" stroke-width="0.6" />
<rect x="283.54" y="490.85" width="5.77" height="7.16" fill="#c0deec" stroke="#76899a" stroke-width="0.6" />
<rect x="289.31" y="490.85" width="5.77" height="7.16" fill="#76a5cd" stroke="#76899a" stroke-width="0.6" />
<rect x="295.08" y="490.85" width="5.77" height="7.16" fill="#f7fccd" stroke="#76899a" stroke-width="0.6" />
<rect x="300.85" y="490.85" width="5.77" height="7.16" fill="#a0c9e1" stroke="#76899a" stroke-width="0.6" />
<rect x="306.62" y="490.85" width="5.77" height="7.16" fill="#95c2dd" stroke="#76899a" stroke-width="0.6" />
<rect x="312.39" y="490.85" width="5.77" height="7.16" fill="#c0deec" stroke="#76899a" stroke-width="0.6" />
<rect x="318.16" y="490.85" width="5.77" height="7.16" fill="#cbe5f0" stroke="#76899a" stroke-width="0.6" />
<rect x="323.93" y="490.85" width="5.77" height="7.16" fill="#76a5cd" stroke="#76899a" stroke-width="0.6" />
<rect x="329.70" y="490.85" width="5.77" height="7.16" fill="#76a5cd" stroke="#76899a" stroke-width="0.6" />
<rect x="335.47" y="490.85" width="5.77" height="7.16" fill="#76a5cd" stroke="#76899a" stroke-width="0.6" />
<rect x="341.24" y="490.85" width="5.77" height="7.16" fill="#76a5cd" stroke="#76899a" stroke-width="0.6" />
<rect x="347.01" y="490.85" width="5.77" height="7.16" fill="#c0deec" stroke="#76899a" stroke-width="0.6" />
<rect x="272.00" y="498.01" width="5.77" height="7.16" fill="#95c2dd" stroke="#76899a" stroke-width="0.6" />
<rect x="277.77" y="498.01" width="5.77" height="7.16" fill="#95c2dd" stroke="#76899a" stroke-width="0.6" />
<rect x="283.54" y="498.01" width="5.77" height="7.16" fill="#81afd3" stroke="#76899a" stroke-width="0.6" />
<rect x="289.31" y="498.01" width="5.77" height="7.16" fill="#81afd3" stroke="#76899a" stroke-width="0.6" />
<rect x="295.08" y="498.01" width="5.77" height="7.16" fill="#8bb9d8" stroke="#76899a" stroke-width="0.6" />
<rect x="300.85" y="498.01" width="5.77" height="7.16" fill="#a0c9e1" stroke="#76899a" stroke-width="0.6" />
<rect x="306.62" y="498.01" width="5.77" height="7.16" fill="#95c2dd" stroke="#76899a" stroke-width="0.6" />
<rect x="312.39" y="498.01" width="5.77" height="7.16" fill="#abd0e4" stroke="#76899a" stroke-width="0.6" />
<rect x="318.16" y="498.01" width="5.77" height="7.16" fill="#fee292" stroke="#76899a" stroke-width="0.6" />
<rect x="323.93" y="498.01" width="5.77" height="7.16" fill="#95c2dd" stroke="#76899a" stroke-width="0.6" />
<rect x="329.70" y="498.01" width="5.77" height="7.16" fill="#eef8de" stroke="#76899a" stroke-width="0.6" />
<rect x="335.47" y="498.01" width="5.77" height="7.16" fill="#c0deec" stroke="#76899a" stroke-width="0.6" />
<rect x="341.24" y="498.01" width="5.77" height="7.16" fill="#abd0e4" stroke="#76899a" stroke-width="0.6" />
<rect x="347.01" y="498.01" width="5.77" height="7.16" fill="#8bb9d8" stroke="#76899a" stroke-width="0.6" />
<rect x="272.00" y="505.16" width="5.77" height="7.16" fill="#81afd3" stroke="#76899a" stroke-width="0.6" />
<rect x="277.77" y="505.16" width="5.77" height="7.16" fill="#fef0a8" stroke="#76899a" stroke-width="0.6" />
<rect x="283.54" y="505.16" width="5.77" height="7.16" fill="#95c2dd" stroke="#76899a" stroke-width="0.6" />
<rect x="289.31" y="505.16" width="5.77" height="7.16" fill="#95c2dd" stroke="#76899a" stroke-width="0.6" />
<rect x="295.08" y="505.16" width="5.77" height="7.16" fill="#a0c9e1" stroke="#76899a" stroke-width="0.6" />
<rect x="300.85" y="505.16" width="5.77" height="7.16" fill="#b5d7e8" stroke="#76899a" stroke-width="0.6" />
<rect x="306.62" y="505.16" width="5.77" height="7.16" fill="#a0c9e1" stroke="#76899a" stroke-width="0.6" />
<rect x="312.39" y="505.16" width="5.77" height="7.16" fill="#d5ecf4" stroke="#76899a" stroke-width="0.6" />
<rect x="318.16" y="505.16" width="5.77" height="7.16" fill="#8bb9d8" stroke="#76899a" stroke-width="0.6" />
<rect x="323.93" y="505.16" width="5.77" height="7.16" fill="#6291c3" stroke="#76899a" stroke-width="0.6" />
<rect x="329.70" y="505.16" width="5.77" height="7.16" fill="#5887be" stroke="#76899a" stroke-width="0.6" />
<rect x="335.47" y="505.16" width="5.77" height="7.16" fill="#a0c9e1" stroke="#76899a" stroke-width="0.6" />
<rect x="341.24" y="505.16" width="5.77" height="7.16" fill="#95c2dd" stroke="#76899a" stroke-width="0.6" />
<rect x="347.01" y="505.16" width="5.77" height="7.16" fill="#8bb9d8" stroke="#76899a" stroke-width="0.6" />
<rect x="272.00" y="512.32" width="5.77" height="7.16" fill="#76a5cd" stroke="#76899a" stroke-width="0.6" />
<rect x="277.77" y="512.32" width="5.77" height="7.16" fill="#e9f7e7" stroke="#76899a" stroke-width="0.6" />
<rect x="283.54" y="512.32" width="5.77" height="7.16" fill="#abd0e4" stroke="#76899a" stroke-width="0.6" />
<rect x="289.31" y="512.32" width="5.77" height="7.16" fill="#c0deec" stroke="#76899a" stroke-width="0.6" />
<rect x="295.08" y="512.32" width="5.77" height="7.16" fill="#e5f5ef" stroke="#76899a" stroke-width="0.6" />
<rect x="300.85" y="512.32" width="5.77" height="7.16" fill="#6291c3" stroke="#76899a" stroke-width="0.6" />
<rect x="306.62" y="512.32" width="5.77" height="7.16" fill="#6291c3" stroke="#76899a" stroke-width="0.6" />
<rect x="312.39" y="512.32" width="5.77" height="7.16" fill="#c0deec" stroke="#76899a" stroke-width="0.6" />
<rect x="318.16" y="512.32" width="5.77" height="7.16" fill="#abd0e4" stroke="#76899a" stroke-width="0.6" />
<rect x="323.93" y="512.32" width="5.77" height="7.16" fill="#76a5cd" stroke="#76899a" stroke-width="0.6" />
<rect x="329.70" y="512.32" width="5.77" height="7.16" fill="#6291c3" stroke="#76899a" stroke-width="0.6" />
<rect x="335.47" y="512.32" width="5.77" height="7.16" fill="#c0deec" stroke="#76899a" stroke-width="0.6" />
<rect x="341.24" y="512.32" width="5.77" height="7.16" fill="#8bb9d8" stroke="#76899a" stroke-width="0.6" />
<rect x="347.01" y="512.32" width="5.77" height="7.16" fill="#a0c9e1" stroke="#76899a" stroke-width="0.6" />
<rect x="272.00" y="519.48" width="5.77" height="7.16" fill="#a0c9e1" stroke="#76899a" stroke-width="0.6" />
<rect x="277.77" y="519.48" width="5.77" height="7.16" fill="#eef8de" stroke="#76899a" stroke-width="0.6" />
<rect x="283.54" y="519.48" width="5.77" height="7.16" fill="#e0f3f8" stroke="#76899a" stroke-width="0.6" />
<rect x="289.31" y="519.48" width="5.77" height="7.16" fill="#8bb9d8" stroke="#76899a" stroke-width="0.6" />
<rect x="295.08" y="519.48" width="5.77" height="7.16" fill="#95c2dd" stroke="#76899a" stroke-width="0.6" />
<rect x="300.85" y="519.48" width="5.77" height="7.16" fill="#81afd3" stroke="#76899a" stroke-width="0.6" />
<rect x="306.62" y="519.48" width="5.77" height="7.16" fill="#76a5cd" stroke="#76899a" stroke-width="0.6" />
<rect x="312.39" y="519.48" width="5.77" height="7.16" fill="#b5d7e8" stroke="#76899a" stroke-width="0.6" />
<rect x="318.16" y="519.48" width="5.77" height="7.16" fill="#a0c9e1" stroke="#76899a" stroke-width="0.6" />
<rect x="323.93" y="519.48" width="5.77" height="7.16" fill="#81afd3" stroke="#76899a" stroke-width="0.6" />
<rect x="329.70" y="519.48" width="5.77" height="7.16" fill="#95c2dd" stroke="#76899a" stroke-width="0.6" />
<rect x="335.47" y="519.48" width="5.77" height="7.16" fill="#a0c9e1" stroke="#76899a" stroke-width="0.6" />
<rect x="341.24" y="519.48" width="5.77" height="7.16" fill="#c0deec" stroke="#76899a" stroke-width="0.6" />
<rect x="347.01" y="519.48" width="5.77" height="7.16" fill="#cbe5f0" stroke="#76899a" stroke-width="0.6" />
<rect x="272.00" y="526.63" width="5.77" height="7.16" fill="#5887be" stroke="#76899a" stroke-width="0.6" />
<rect x="277.77" y="526.63" width="5.77" height="7.16" fill="#fdad6e" stroke="#76899a" stroke-width="0.6" />
<rect x="283.54" y="526.63" width="5.77" height="7.16" fill="#e0f3f8" stroke="#76899a" stroke-width="0.6" />
<rect x="289.31" y="526.63" width="5.77" height="7.16" fill="#81afd3" stroke="#76899a" stroke-width="0.6" />
<rect x="295.08" y="526.63" width="5.77" height="7.16" fill="#e9f7e7" stroke="#76899a" stroke-width="0.6" />
<rect x="300.85" y="526.63" width="5.77" height="7.16" fill="#a0c9e1" stroke="#76899a" stroke-width="0.6" />
<rect x="306.62" y="526.63" width="5.77" height="7.16" fill="#8bb9d8" stroke="#76899a" stroke-width="0.6" />
<rect x="312.39" y="526.63" width="5.77" height="7.16" fill="#b5d7e8" stroke="#76899a" stroke-width="0.6" />
<rect x="318.16" y="526.63" width="5.77" height="7.16" fill="#a0c9e1" stroke="#76899a" stroke-width="0.6" />
<rect x="323.93" y="526.63" width="5.77" height="7.16" fill="#8bb9d8" stroke="#76899a" stroke-width="0.6" />
<rect x="329.70" y="526.63" width="5.77" height="7.16" fill="#b5d7e8" stroke="#76899a" stroke-width="0.6" />
<rect x="335.47" y="526.63" width="5.77" height="7.16" fill="#a0c9e1" stroke="#76899a" stroke-width="0.6" />
<rect x="341.24" y="526.63" width="5.77" height="7.16" fill="#b5d7e8" stroke="#76899a" stroke-width="0.6" />
<rect x="347.01" y="526.63" width="5.77" height="7.16" fill="#6291c3" stroke="#76899a" stroke-width="0.6" />
<rect x="272.00" y="533.78" width="5.77" height="7.16" fill="#e5f5ef" stroke="#76899a" stroke-width="0.6" />
<rect x="277.77" y="533.78" width="5.77" height="7.16" fill="#8bb9d8" stroke="#76899a" stroke-width="0.6" />
<rect x="283.54" y="533.78" width="5.77" height="7.16" fill="#76a5cd" stroke="#76899a" stroke-width="0.6" />
<rect x="289.31" y="533.78" width="5.77" height="7.16" fill="#81afd3" stroke="#76899a" stroke-width="0.6" />
<rect x="295.08" y="533.78" width="5.77" height="7.16" fill="#95c2dd" stroke="#76899a" stroke-width="0.6" />
<rect x="300.85" y="533.78" width="5.77" height="7.16" fill="#d5ecf4" stroke="#76899a" stroke-width="0.6" />
<rect x="306.62" y="533.78" width="5.77" height="7.16" fill="#d5ecf4" stroke="#76899a" stroke-width="0.6" />
<rect x="312.39" y="533.78" width="5.77" height="7.16" fill="#8bb9d8" stroke="#76899a" stroke-width="0.6" />
<rect x="318.16" y="533.78" width="5.77" height="7.16" fill="#8bb9d8" stroke="#76899a" stroke-width="0.6" />
<rect x="323.93" y="533.78" width="5.77" height="7.16" fill="#95c2dd" stroke="#76899a" stroke-width="0.6" />
<rect x="329.70" y="533.78" width="5.77" height="7.16" fill="#8bb9d8" stroke="#76899a" stroke-width="0.6" />
<rect x="335.47" y="533.78" width="5.77" height="7.16" fill="#d5ecf4" stroke="#76899a" stroke-width="0.6" />
<rect x="341.24" y="533.78" width="5.77" height="7.16" fill="#cbe5f0" stroke="#76899a" stroke-width="0.6" />
<rect x="347.01" y="533.78" width="5.77" height="7.16" fill="#e0f3f8" stroke="#76899a" stroke-width="0.6" />
<rect x="272.00" y="540.94" width="5.77" height="7.16" fill="#95c2dd" stroke="#76899a" stroke-width="0.6" />
<rect x="277.77" y="540.94" width="5.77" height="7.16" fill="#fcfec5" stroke="#76899a" stroke-width="0.6" />
<rect x="283.54" y="540.94" width="5.77" height="7.16" fill="#f3fad6" stroke="#76899a" stroke-width="0.6" />
<rect x="289.31" y="540.94" width="5.77" height="7.16" fill="#eef8de" stroke="#76899a" stroke-width="0.6" />
<rect x="295.08" y="540.94" width="5.77" height="7.16" fill="#95c2dd" stroke="#76899a" stroke-width="0.6" />
<rect x="300.85" y="540.94" width="5.77" height="7.16" fill="#81afd3" stroke="#76899a" stroke-width="0.6" />
<rect x="306.62" y="540.94" width="5.77" height="7.16" fill="#81afd3" stroke="#76899a" stroke-width="0.6" />
<rect x="312.39" y="540.94" width="5.77" height="7.16" fill="#a0c9e1" stroke="#76899a" stroke-width="0.6" />
<rect x="318.16" y="540.94" width="5.77" height="7.16" fill="#81afd3" stroke="#76899a" stroke-width="0.6" />
<rect x="323.93" y="540.94" width="5.77" height="7.16" fill="#81afd3" stroke="#76899a" stroke-width="0.6" />
<rect x="329.70" y="540.94" width="5.77" height="7.16" fill="#76a5cd" stroke="#76899a" stroke-width="0.6" />
<rect x="335.47" y="540.94" width="5.77" height="7.16" fill="#cbe5f0" stroke="#76899a" stroke-width="0.6" />
<rect x="341.24" y="540.94" width="5.77" height="7.16" fill="#b5d7e8" stroke="#76899a" stroke-width="0.6" />
<rect x="347.01" y="540.94" width="5.77" height="7.16" fill="#e0f3f8" stroke="#76899a" stroke-width="0.6" />
<rect x="272.00" y="548.10" width="5.77" height="7.16" fill="#81afd3" stroke="#76899a" stroke-width="0.6" />
<rect x="277.77" y="548.10" width="5.77" height="7.16" fill="#eef8de" stroke="#76899a" stroke-width="0.6" />
<rect x="283.54" y="548.10" width="5.77" height="7.16" fill="#5887be" stroke="#76899a" stroke-width="0.6" />
<rect x="289.31" y="548.10" width="5.77" height="7.16" fill="#d5ecf4" stroke="#76899a" stroke-width="0.6" />
<rect x="295.08" y="548.10" width="5.77" height="7.16" fill="#95c2dd" stroke="#76899a" stroke-width="0.6" />
<rect x="300.85" y="548.10" width="5.77" height="7.16" fill="#6291c3" stroke="#76899a" stroke-width="0.6" />
<rect x="306.62" y="548.10" width="5.77" height="7.16" fill="#5887be" stroke="#76899a" stroke-width="0.6" />
<rect x="312.39" y="548.10" width="5.77" height="7.16" fill="#e9f7e7" stroke="#76899a" stroke-width="0.6" />
<rect x="318.16" y="548.10" width="5.77" height="7.16" fill="#fcfec5" stroke="#76899a" stroke-width="0.6" />
<rect x="323.93" y="548.10" width="5.77" height="7.16" fill="#6291c3" stroke="#76899a" stroke-width="0.6" />
<rect x="329.70" y="548.10" width="5.77" height="7.16" fill="#6291c3" stroke="#76899a" stroke-width="0.6" />
<rect x="335.47" y="548.10" width="5.77" height="7.16" fill="#a0c9e1" stroke="#76899a" stroke-width="0.6" />
<rect x="341.24" y="548.10" width="5.77" height="7.16" fill="#fee699" stroke="#76899a" stroke-width="0.6" />
<rect x="347.01" y="548.10" width="5.77" height="7.16" fill="#c0deec" stroke="#76899a" stroke-width="0.6" />
<rect x="272.00" y="555.25" width="5.77" height="7.16" fill="#6c9bc8" stroke="#76899a" stroke-width="0.6" />
<rect x="277.77" y="555.25" width="5.77" height="7.16" fill="#fef0a8" stroke="#76899a" stroke-width="0.6" />
<rect x="283.54" y="555.25" width="5.77" height="7.16" fill="#a0c9e1" stroke="#76899a" stroke-width="0.6" />
<rect x="289.31" y="555.25" width="5.77" height="7.16" fill="#6c9bc8" stroke="#76899a" stroke-width="0.6" />
<rect x="295.08" y="555.25" width="5.77" height="7.16" fill="#d5ecf4" stroke="#76899a" stroke-width="0.6" />
<rect x="300.85" y="555.25" width="5.77" height="7.16" fill="#6291c3" stroke="#76899a" stroke-width="0.6" />
<rect x="306.62" y="555.25" width="5.77" height="7.16" fill="#76a5cd" stroke="#76899a" stroke-width="0.6" />
<rect x="312.39" y="555.25" width="5.77" height="7.16" fill="#e5f5ef" stroke="#76899a" stroke-width="0.6" />
<rect x="318.16" y="555.25" width="5.77" height="7.16" fill="#f7fccd" stroke="#76899a" stroke-width="0.6" />
<rect x="323.93" y="555.25" width="5.77" height="7.16" fill="#76a5cd" stroke="#76899a" stroke-width="0.6" />
<rect x="329.70" y="555.25" width="5.77" height="7.16" fill="#4d7db8" stroke="#76899a" stroke-width="0.6" />
<rect x="335.47" y="555.25" width="5.77" height="7.16" fill="#e5f5ef" stroke="#76899a" stroke-width="0.6" />
<rect x="341.24" y="555.25" width="5.77" height="7.16" fill="#feeba0" stroke="#76899a" stroke-width="0.6" />
<rect x="347.01" y="555.25" width="5.77" height="7.16" fill="#8bb9d8" stroke="#76899a" stroke-width="0.6" />
<rect x="272.00" y="562.40" width="5.77" height="7.16" fill="#abd0e4" stroke="#76899a" stroke-width="0.6" />
<rect x="277.77" y="562.40" width="5.77" height="7.16" fill="#fecb82" stroke="#76899a" stroke-width="0.6" />
<rect x="283.54" y="562.40" width="5.77" height="7.16" fill="#a0c9e1" stroke="#76899a" stroke-width="0.6" />
<rect x="289.31" y="562.40" width="5.77" height="7.16" fill="#6c9bc8" stroke="#76899a" stroke-width="0.6" />
<rect x="295.08" y="562.40" width="5.77" height="7.16" fill="#c0deec" stroke="#76899a" stroke-width="0.6" />
<rect x="300.85" y="562.40" width="5.77" height="7.16" fill="#6c9bc8" stroke="#76899a" stroke-width="0.6" />
<rect x="306.62" y="562.40" width="5.77" height="7.16" fill="#76a5cd" stroke="#76899a" stroke-width="0.6" />
<rect x="312.39" y="562.40" width="5.77" height="7.16" fill="#eef8de" stroke="#76899a" stroke-width="0.6" />
<rect x="318.16" y="562.40" width="5.77" height="7.16" fill="#e9f7e7" stroke="#76899a" stroke-width="0.6" />
<rect x="323.93" y="562.40" width="5.77" height="7.16" fill="#76a5cd" stroke="#76899a" stroke-width="0.6" />
<rect x="329.70" y="562.40" width="5.77" height="7.16" fill="#81afd3" stroke="#76899a" stroke-width="0.6" />
<rect x="335.47" y="562.40" width="5.77" height="7.16" fill="#abd0e4" stroke="#76899a" stroke-width="0.6" />
<rect x="341.24" y="562.40" width="5.77" height="7.16" fill="#fcfec5" stroke="#76899a" stroke-width="0.6" />
<rect x="347.01" y="562.40" width="5.77" height="7.16" fill="#a0c9e1" stroke="#76899a" stroke-width="0.6" />
<rect x="272.00" y="569.56" width="5.77" height="7.16" fill="#fee699" stroke="#76899a" stroke-width="0.6" />
<rect x="277.77" y="569.56" width="5.77" height="7.16" fill="#fff9b6" stroke="#76899a" stroke-width="0.6" />
<rect x="283.54" y="569.56" width="5.77" height="7.16" fill="#e5f5ef" stroke="#76899a" stroke-width="0.6" />
<rect x="289.31" y="569.56" width="5.77" height="7.16" fill="#fef0a8" stroke="#76899a" stroke-width="0.6" />
<rect x="295.08" y="569.56" width="5.77" height="7.16" fill="#e0f3f8" stroke="#76899a" stroke-width="0.6" />
<rect x="300.85" y="569.56" width="5.77" height="7.16" fill="#e9f7e7" stroke="#76899a" stroke-width="0.6" />
<rect x="306.62" y="569.56" width="5.77" height="7.16" fill="#fecb82" stroke="#76899a" stroke-width="0.6" />
<rect x="312.39" y="569.56" width="5.77" height="7.16" fill="#fdc57e" stroke="#76899a" stroke-width="0.6" />
<rect x="318.16" y="569.56" width="5.77" height="7.16" fill="#c0deec" stroke="#76899a" stroke-width="0.6" />
<rect x="323.93" y="569.56" width="5.77" height="7.16" fill="#fee699" stroke="#76899a" stroke-width="0.6" />
<rect x="329.70" y="569.56" width="5.77" height="7.16" fill="#cbe5f0" stroke="#76899a" stroke-width="0.6" />
<rect x="335.47" y="569.56" width="5.77" height="7.16" fill="#c0deec" stroke="#76899a" stroke-width="0.6" />
<rect x="341.24" y="569.56" width="5.77" height="7.16" fill="#fcfec5" stroke="#76899a" stroke-width="0.6" />
<rect x="347.01" y="569.56" width="5.77" height="7.16" fill="#fff9b6" stroke="#76899a" stroke-width="0.6" />
<rect x="272.00" y="576.72" width="5.77" height="7.16" fill="#abd0e4" stroke="#76899a" stroke-width="0.6" />
<rect x="277.77" y="576.72" width="5.77" height="7.16" fill="#a0c9e1" stroke="#76899a" stroke-width="0.6" />
<rect x="283.54" y="576.72" width="5.77" height="7.16" fill="#8bb9d8" stroke="#76899a" stroke-width="0.6" />
<rect x="289.31" y="576.72" width="5.77" height="7.16" fill="#eef8de" stroke="#76899a" stroke-width="0.6" />
<rect x="295.08" y="576.72" width="5.77" height="7.16" fill="#fcfec5" stroke="#76899a" stroke-width="0.6" />
<rect x="300.85" y="576.72" width="5.77" height="7.16" fill="#c0deec" stroke="#76899a" stroke-width="0.6" />
<rect x="306.62" y="576.72" width="5.77" height="7.16" fill="#fff9b6" stroke="#76899a" stroke-width="0.6" />
<rect x="312.39" y="576.72" width="5.77" height="7.16" fill="#fee699" stroke="#76899a" stroke-width="0.6" />
<rect x="318.16" y="576.72" width="5.77" height="7.16" fill="#8bb9d8" stroke="#76899a" stroke-width="0.6" />
<rect x="323.93" y="576.72" width="5.77" height="7.16" fill="#e9f7e7" stroke="#76899a" stroke-width="0.6" />
<rect x="329.70" y="576.72" width="5.77" height="7.16" fill="#81afd3" stroke="#76899a" stroke-width="0.6" />
<rect x="335.47" y="576.72" width="5.77" height="7.16" fill="#d5ecf4" stroke="#76899a" stroke-width="0.6" />
<rect x="341.24" y="576.72" width="5.77" height="7.16" fill="#e85a3e" stroke="#76899a" stroke-width="0.6" />
<rect x="347.01" y="576.72" width="5.77" height="7.16" fill="#fcfec5" stroke="#76899a" stroke-width="0.6" />
<rect x="272.00" y="583.87" width="5.77" height="7.16" fill="#eef8de" stroke="#76899a" stroke-width="0.6" />
<rect x="277.77" y="583.87" width="5.77" height="7.16" fill="#e5f5ef" stroke="#76899a" stroke-width="0.6" />
<rect x="283.54" y="583.87" width="5.77" height="7.16" fill="#d5ecf4" stroke="#76899a" stroke-width="0.6" />
<rect x="289.31" y="583.87" width="5.77" height="7.16" fill="#76a5cd" stroke="#76899a" stroke-width="0.6" />
<rect x="295.08" y="583.87" width="5.77" height="7.16" fill="#76a5cd" stroke="#76899a" stroke-width="0.6" />
<rect x="300.85" y="583.87" width="5.77" height="7.16" fill="#fcfec5" stroke="#76899a" stroke-width="0.6" />
<rect x="306.62" y="583.87" width="5.77" height="7.16" fill="#fef0a8" stroke="#76899a" stroke-width="0.6" />
<rect x="312.39" y="583.87" width="5.77" height="7.16" fill="#f3fad6" stroke="#76899a" stroke-width="0.6" />
<rect x="318.16" y="583.87" width="5.77" height="7.16" fill="#a0c9e1" stroke="#76899a" stroke-width="0.6" />
<rect x="323.93" y="583.87" width="5.77" height="7.16" fill="#e5f5ef" stroke="#76899a" stroke-width="0.6" />
<rect x="329.70" y="583.87" width="5.77" height="7.16" fill="#b5d7e8" stroke="#76899a" stroke-width="0.6" />
<rect x="335.47" y="583.87" width="5.77" height="7.16" fill="#feeba0" stroke="#76899a" stroke-width="0.6" />
<rect x="341.24" y="583.87" width="5.77" height="7.16" fill="#da392c" stroke="#76899a" stroke-width="0.6" />
<rect x="347.01" y="583.87" width="5.77" height="7.16" fill="#cbe5f0" stroke="#76899a" stroke-width="0.6" />
<rect x="272.00" y="591.02" width="5.77" height="7.16" fill="#fff9b6" stroke="#76899a" stroke-width="0.6" />
<rect x="277.77" y="591.02" width="5.77" height="7.16" fill="#abd0e4" stroke="#76899a" stroke-width="0.6" />
<rect x="283.54" y="591.02" width="5.77" height="7.16" fill="#e0f3f8" stroke="#76899a" stroke-width="0.6" />
<rect x="289.31" y="591.02" width="5.77" height="7.16" fill="#95c2dd" stroke="#76899a" stroke-width="0.6" />
<rect x="295.08" y="591.02" width="5.77" height="7.16" fill="#eef8de" stroke="#76899a" stroke-width="0.6" />
<rect x="300.85" y="591.02" width="5.77" height="7.16" fill="#eef8de" stroke="#76899a" stroke-width="0.6" />
<rect x="306.62" y="591.02" width="5.77" height="7.16" fill="#fecb82" stroke="#76899a" stroke-width="0.6" />
<rect x="312.39" y="591.02" width="5.77" height="7.16" fill="#fdc57e" stroke="#76899a" stroke-width="0.6" />
<rect x="318.16" y="591.02" width="5.77" height="7.16" fill="#8bb9d8" stroke="#76899a" stroke-width="0.6" />
<rect x="323.93" y="591.02" width="5.77" height="7.16" fill="#fee699" stroke="#76899a" stroke-width="0.6" />
<rect x="329.70" y="591.02" width="5.77" height="7.16" fill="#8bb9d8" stroke="#76899a" stroke-width="0.6" />
<rect x="335.47" y="591.02" width="5.77" height="7.16" fill="#fecb82" stroke="#76899a" stroke-width="0.6" />
<rect x="341.24" y="591.02" width="5.77" height="7.16" fill="#a0c9e1" stroke="#76899a" stroke-width="0.6" />
<rect x="347.01" y="591.02" width="5.77" height="7.16" fill="#e5f5ef" stroke="#76899a" stroke-width="0.6" />
<rect x="272.00" y="598.18" width="5.77" height="7.16" fill="#fcfec5" stroke="#76899a" stroke-width="0.6" />
<rect x="277.77" y="598.18" width="5.77" height="7.16" fill="#fef0a8" stroke="#76899a" stroke-width="0.6" />
<rect x="283.54" y="598.18" width="5.77" height="7.16" fill="#fee699" stroke="#76899a" stroke-width="0.6" />
<rect x="289.31" y="598.18" width="5.77" height="7.16" fill="#a0c9e1" stroke="#76899a" stroke-width="0.6" />
<rect x="295.08" y="598.18" width="5.77" height="7.16" fill="#e0f3f8" stroke="#76899a" stroke-width="0.6" />
<rect x="300.85" y="598.18" width="5.77" height="7.16" fill="#fcfec5" stroke="#76899a" stroke-width="0.6" />
<rect x="306.62" y="598.18" width="5.77" height="7.16" fill="#fffdbd" stroke="#76899a" stroke-width="0.6" />
<rect x="312.39" y="598.18" width="5.77" height="7.16" fill="#fffdbd" stroke="#76899a" stroke-width="0.6" />
<rect x="318.16" y="598.18" width="5.77" height="7.16" fill="#a0c9e1" stroke="#76899a" stroke-width="0.6" />
<rect x="323.93" y="598.18" width="5.77" height="7.16" fill="#fee292" stroke="#76899a" stroke-width="0.6" />
<rect x="329.70" y="598.18" width="5.77" height="7.16" fill="#c0deec" stroke="#76899a" stroke-width="0.6" />
<rect x="335.47" y="598.18" width="5.77" height="7.16" fill="#fff9b6" stroke="#76899a" stroke-width="0.6" />
<rect x="341.24" y="598.18" width="5.77" height="7.16" fill="#95c2dd" stroke="#76899a" stroke-width="0.6" />
<rect x="347.01" y="598.18" width="5.77" height="7.16" fill="#e0f3f8" stroke="#76899a" stroke-width="0.6" />
<rect x="272.00" y="605.34" width="5.77" height="7.16" fill="#fcfec5" stroke="#76899a" stroke-width="0.6" />
<rect x="277.77" y="605.34" width="5.77" height="7.16" fill="#c0deec" stroke="#76899a" stroke-width="0.6" />
<rect x="283.54" y="605.34" width="5.77" height="7.16" fill="#f3fad6" stroke="#76899a" stroke-width="0.6" />
<rect x="289.31" y="605.34" width="5.77" height="7.16" fill="#e5f5ef" stroke="#76899a" stroke-width="0.6" />
<rect x="295.08" y="605.34" width="5.77" height="7.16" fill="#a0c9e1" stroke="#76899a" stroke-width="0.6" />
<rect x="300.85" y="605.34" width="5.77" height="7.16" fill="#eef8de" stroke="#76899a" stroke-width="0.6" />
<rect x="306.62" y="605.34" width="5.77" height="7.16" fill="#f57c50" stroke="#76899a" stroke-width="0.6" />
<rect x="312.39" y="605.34" width="5.77" height="7.16" fill="#eef8de" stroke="#76899a" stroke-width="0.6" />
<rect x="318.16" y="605.34" width="5.77" height="7.16" fill="#76a5cd" stroke="#76899a" stroke-width="0.6" />
<rect x="323.93" y="605.34" width="5.77" height="7.16" fill="#fee699" stroke="#76899a" stroke-width="0.6" />
<rect x="329.70" y="605.34" width="5.77" height="7.16" fill="#cbe5f0" stroke="#76899a" stroke-width="0.6" />
<rect x="335.47" y="605.34" width="5.77" height="7.16" fill="#abd0e4" stroke="#76899a" stroke-width="0.6" />
<rect x="341.24" y="605.34" width="5.77" height="7.16" fill="#a0c9e1" stroke="#76899a" stroke-width="0.6" />
<rect x="347.01" y="605.34" width="5.77" height="7.16" fill="#fee699" stroke="#76899a" stroke-width="0.6" />
<rect x="272.00" y="612.49" width="5.77" height="7.16" fill="#b5d7e8" stroke="#76899a" stroke-width="0.6" />
<rect x="277.77" y="612.49" width="5.77" height="7.16" fill="#fef0a8" stroke="#76899a" stroke-width="0.6" />
<rect x="283.54" y="612.49" width="5.77" height="7.16" fill="#e5f5ef" stroke="#76899a" stroke-width="0.6" />
<rect x="289.31" y="612.49" width="5.77" height="7.16" fill="#e9f7e7" stroke="#76899a" stroke-width="0.6" />
<rect x="295.08" y="612.49" width="5.77" height="7.16" fill="#a0c9e1" stroke="#76899a" stroke-width="0.6" />
<rect x="300.85" y="612.49" width="5.77" height="7.16" fill="#fdc57e" stroke="#76899a" stroke-width="0.6" />
<rect x="306.62" y="612.49" width="5.77" height="7.16" fill="#fca167" stroke="#76899a" stroke-width="0.6" />
<rect x="312.39" y="612.49" width="5.77" height="7.16" fill="#cbe5f0" stroke="#76899a" stroke-width="0.6" />
<rect x="318.16" y="612.49" width="5.77" height="7.16" fill="#81afd3" stroke="#76899a" stroke-width="0.6" />
<rect x="323.93" y="612.49" width="5.77" height="7.16" fill="#fef0a8" stroke="#76899a" stroke-width="0.6" />
<rect x="329.70" y="612.49" width="5.77" height="7.16" fill="#fcfec5" stroke="#76899a" stroke-width="0.6" />
<rect x="335.47" y="612.49" width="5.77" height="7.16" fill="#cbe5f0" stroke="#76899a" stroke-width="0.6" />
<rect x="341.24" y="612.49" width="5.77" height="7.16" fill="#abd0e4" stroke="#76899a" stroke-width="0.6" />
<rect x="347.01" y="612.49" width="5.77" height="7.16" fill="#fef0a8" stroke="#76899a" stroke-width="0.6" />
<rect x="272.00" y="619.64" width="5.77" height="7.16" fill="#fcfec5" stroke="#76899a" stroke-width="0.6" />
<rect x="277.77" y="619.64" width="5.77" height="7.16" fill="#c0deec" stroke="#76899a" stroke-width="0.6" />
<rect x="283.54" y="619.64" width="5.77" height="7.16" fill="#f3fad6" stroke="#76899a" stroke-width="0.6" />
<rect x="289.31" y="619.64" width="5.77" height="7.16" fill="#6c9bc8" stroke="#76899a" stroke-width="0.6" />
<rect x="295.08" y="619.64" width="5.77" height="7.16" fill="#e0f3f8" stroke="#76899a" stroke-width="0.6" />
<rect x="300.85" y="619.64" width="5.77" height="7.16" fill="#fcfec5" stroke="#76899a" stroke-width="0.6" />
<rect x="306.62" y="619.64" width="5.77" height="7.16" fill="#e9f7e7" stroke="#76899a" stroke-width="0.6" />
<rect x="312.39" y="619.64" width="5.77" height="7.16" fill="#c0deec" stroke="#76899a" stroke-width="0.6" />
<rect x="318.16" y="619.64" width="5.77" height="7.16" fill="#b5d7e8" stroke="#76899a" stroke-width="0.6" />
<rect x="323.93" y="619.64" width="5.77" height="7.16" fill="#f7fccd" stroke="#76899a" stroke-width="0.6" />
<rect x="329.70" y="619.64" width="5.77" height="7.16" fill="#b5d7e8" stroke="#76899a" stroke-width="0.6" />
<rect x="335.47" y="619.64" width="5.77" height="7.16" fill="#fcfec5" stroke="#76899a" stroke-width="0.6" />
<rect x="341.24" y="619.64" width="5.77" height="7.16" fill="#f57c50" stroke="#76899a" stroke-width="0.6" />
<rect x="347.01" y="619.64" width="5.77" height="7.16" fill="#feeba0" stroke="#76899a" stroke-width="0.6" />
<rect x="272.00" y="626.80" width="5.77" height="7.16" fill="#e9f7e7" stroke="#76899a" stroke-width="0.6" />
<rect x="277.77" y="626.80" width="5.77" height="7.16" fill="#a0c9e1" stroke="#76899a" stroke-width="0.6" />
<rect x="283.54" y="626.80" width="5.77" height="7.16" fill="#95c2dd" stroke="#76899a" stroke-width="0.6" />
<rect x="289.31" y="626.80" width="5.77" height="7.16" fill="#c0deec" stroke="#76899a" stroke-width="0.6" />
<rect x="295.08" y="626.80" width="5.77" height="7.16" fill="#a0c9e1" stroke="#76899a" stroke-width="0.6" />
<rect x="300.85" y="626.80" width="5.77" height="7.16" fill="#fcfec5" stroke="#76899a" stroke-width="0.6" />
<rect x="306.62" y="626.80" width="5.77" height="7.16" fill="#fdb976" stroke="#76899a" stroke-width="0.6" />
<rect x="312.39" y="626.80" width="5.77" height="7.16" fill="#fcfec5" stroke="#76899a" stroke-width="0.6" />
<rect x="318.16" y="626.80" width="5.77" height="7.16" fill="#abd0e4" stroke="#76899a" stroke-width="0.6" />
<rect x="323.93" y="626.80" width="5.77" height="7.16" fill="#fee292" stroke="#76899a" stroke-width="0.6" />
<rect x="329.70" y="626.80" width="5.77" height="7.16" fill="#c0deec" stroke="#76899a" stroke-width="0.6" />
<rect x="335.47" y="626.80" width="5.77" height="7.16" fill="#feeba0" stroke="#76899a" stroke-width="0.6" />
<rect x="341.24" y="626.80" width="5.77" height="7.16" fill="#eef8de" stroke="#76899a" stroke-width="0.6" />
<rect x="347.01" y="626.80" width="5.77" height="7.16" fill="#fa8957" stroke="#76899a" stroke-width="0.6" />
<rect x="272.00" y="633.95" width="5.77" height="7.16" fill="#e5f5ef" stroke="#76899a" stroke-width="0.6" />
<rect x="277.77" y="633.95" width="5.77" height="7.16" fill="#e0f3f8" stroke="#76899a" stroke-width="0.6" />
<rect x="283.54" y="633.95" width="5.77" height="7.16" fill="#e5f5ef" stroke="#76899a" stroke-width="0.6" />
<rect x="289.31" y="633.95" width="5.77" height="7.16" fill="#fee699" stroke="#76899a" stroke-width="0.6" />
<rect x="295.08" y="633.95" width="5.77" height="7.16" fill="#76a5cd" stroke="#76899a" stroke-width="0.6" />
<rect x="300.85" y="633.95" width="5.77" height="7.16" fill="#e0f3f8" stroke="#76899a" stroke-width="0.6" />
<rect x="306.62" y="633.95" width="5.77" height="7.16" fill="#f7fccd" stroke="#76899a" stroke-width="0.6" />
<rect x="312.39" y="633.95" width="5.77" height="7.16" fill="#a0c9e1" stroke="#76899a" stroke-width="0.6" />
<rect x="318.16" y="633.95" width="5.77" height="7.16" fill="#fdad6e" stroke="#76899a" stroke-width="0.6" />
<rect x="323.93" y="633.95" width="5.77" height="7.16" fill="#c0deec" stroke="#76899a" stroke-width="0.6" />
<rect x="329.70" y="633.95" width="5.77" height="7.16" fill="#fdbf7a" stroke="#76899a" stroke-width="0.6" />
<rect x="335.47" y="633.95" width="5.77" height="7.16" fill="#fff9b6" stroke="#76899a" stroke-width="0.6" />
<rect x="341.24" y="633.95" width="5.77" height="7.16" fill="#fff9b6" stroke="#76899a" stroke-width="0.6" />
<rect x="347.01" y="633.95" width="5.77" height="7.16" fill="#abd0e4" stroke="#76899a" stroke-width="0.6" />
<text x="357.00" y="489.88" font-size="6.5" fill="#222" font-style="italic" stroke="#222" stroke-width="0.06">IL7</text>
<text x="357.00" y="497.03" font-size="6.5" fill="#222" font-style="italic" stroke="#222" stroke-width="0.06">B3GAT1</text>
<text x="357.00" y="504.19" font-size="6.5" fill="#222" font-style="italic" stroke="#222" stroke-width="0.06">CCL3</text>
<text x="357.00" y="511.34" font-size="6.5" fill="#222" font-style="italic" stroke="#222" stroke-width="0.06">KLRG1</text>
<text x="357.00" y="518.50" font-size="6.5" fill="#222" font-style="italic" stroke="#222" stroke-width="0.06">EOMES</text>
<text x="357.00" y="525.65" font-size="6.5" fill="#222" font-style="italic" stroke="#222" stroke-width="0.06">IFNG</text>
<text x="357.00" y="532.81" font-size="6.5" fill="#222" font-style="italic" stroke="#222" stroke-width="0.06">TOX</text>
<text x="357.00" y="539.96" font-size="6.5" fill="#222" font-style="italic" stroke="#222" stroke-width="0.06">LTA</text>
<text x="357.00" y="547.12" font-size="6.5" fill="#222" font-style="italic" stroke="#222" stroke-width="0.06">KLRD1</text>
<text x="357.00" y="554.27" font-size="6.5" fill="#222" font-style="italic" stroke="#222" stroke-width="0.06">CD86</text>
<text x="357.00" y="561.43" font-size="6.5" fill="#222" font-style="italic" stroke="#222" stroke-width="0.06">HLA-DPA1</text>
<text x="357.00" y="568.58" font-size="6.5" fill="#222" font-style="italic" stroke="#222" stroke-width="0.06">HLA-DPB1</text>
<text x="357.00" y="575.74" font-size="6.5" fill="#222" font-style="italic" stroke="#222" stroke-width="0.06">BACH2</text>
<text x="357.00" y="582.89" font-size="6.5" fill="#222" font-style="italic" stroke="#222" stroke-width="0.06">TCF7</text>
<text x="357.00" y="590.05" font-size="6.5" fill="#222" font-style="italic" stroke="#222" stroke-width="0.06">ITGAX</text>
<text x="357.00" y="597.20" font-size="6.5" fill="#222" font-style="italic" stroke="#222" stroke-width="0.06">LEF1</text>
<text x="357.00" y="604.36" font-size="6.5" fill="#222" font-style="italic" stroke="#222" stroke-width="0.06">SELL</text>
<text x="357.00" y="611.51" font-size="6.5" fill="#222" font-style="italic" stroke="#222" stroke-width="0.06">CD27</text>
<text x="357.00" y="618.67" font-size="6.5" fill="#222" font-style="italic" stroke="#222" stroke-width="0.06">CD52</text>
<text x="357.00" y="625.82" font-size="6.5" fill="#222" font-style="italic" stroke="#222" stroke-width="0.06">CD28</text>
<text x="357.00" y="632.98" font-size="6.5" fill="#222" font-style="italic" stroke="#222" stroke-width="0.06">CD7</text>
<text x="357.00" y="640.13" font-size="6.5" fill="#222" font-style="italic" stroke="#222" stroke-width="0.06">GATA3</text>
<rect x="272.00" y="475.00" width="5.77" height="6.30" fill="#d0529f" stroke="#b9b9c9" stroke-width="0.3" />
<rect x="277.77" y="475.00" width="5.77" height="6.30" fill="#d0529f" stroke="#b9b9c9" stroke-width="0.3" />
<rect x="283.54" y="475.00" width="5.77" height="6.30" fill="#d0529f" stroke="#b9b9c9" stroke-width="0.3" />
<rect x="289.31" y="475.00" width="5.77" height="6.30" fill="#d0529f" stroke="#b9b9c9" stroke-width="0.3" />
<rect x="295.08" y="475.00" width="5.77" height="6.30" fill="#d0529f" stroke="#b9b9c9" stroke-width="0.3" />
<rect x="300.85" y="475.00" width="5.77" height="6.30" fill="#d0529f" stroke="#b9b9c9" stroke-width="0.3" />
<rect x="306.62" y="475.00" width="5.77" height="6.30" fill="#d0529f" stroke="#b9b9c9" stroke-width="0.3" />
<rect x="312.39" y="475.00" width="5.77" height="6.30" fill="#d0529f" stroke="#b9b9c9" stroke-width="0.3" />
<rect x="318.16" y="475.00" width="5.77" height="6.30" fill="#d0529f" stroke="#b9b9c9" stroke-width="0.3" />
<rect x="323.93" y="475.00" width="5.77" height="6.30" fill="#2b49a1" stroke="#b9b9c9" stroke-width="0.3" />
<rect x="329.70" y="475.00" width="5.77" height="6.30" fill="#2b49a1" stroke="#b9b9c9" stroke-width="0.3" />
<rect x="335.47" y="475.00" width="5.77" height="6.30" fill="#2b49a1" stroke="#b9b9c9" stroke-width="0.3" />
<rect x="341.24" y="475.00" width="5.77" height="6.30" fill="#2b49a1" stroke="#b9b9c9" stroke-width="0.3" />
<rect x="347.01" y="475.00" width="5.77" height="6.30" fill="#2b49a1" stroke="#b9b9c9" stroke-width="0.3" />
<polyline points="272.40,472.2 272.40,468.7 352.38,468.7 352.38,472.2" fill="none" stroke="#333" stroke-width="0.9"/>
<line x1="323.93" y1="468.70" x2="323.93" y2="472.20" stroke="#333" stroke-width="1.0" />
<text x="297.97" y="463.20" font-size="6.3" fill="#333" text-anchor="middle"  stroke="#333" stroke-width="0.24">R</text>
<text x="338.36" y="463.20" font-size="6.3" fill="#333" text-anchor="middle"  stroke="#333" stroke-width="0.24">NR</text>
<text x="272.60" y="451.9" font-size="8.2" fill="#333" textLength="70.1" lengthAdjust="spacingAndGlyphs" stroke="#333" stroke-width="0.12">Non-clonal CD8 T</text>
<text x="343.0" y="454.4" font-size="6.3" fill="#333" textLength="9.6" lengthAdjust="spacingAndGlyphs" stroke="#333" stroke-width="0.24">EM</text>
<defs><linearGradient id="cb" x1="0" x2="1" y1="0" y2="0"><stop offset="0.0777" stop-color="#4575b4"/><stop offset="0.2281" stop-color="#91bfdb"/><stop offset="0.3786" stop-color="#e0f3f8"/><stop offset="0.5290" stop-color="#ffffbf"/><stop offset="0.6794" stop-color="#fee090"/><stop offset="0.8299" stop-color="#fc8d59"/><stop offset="0.9803" stop-color="#d73027"/><stop offset="1" stop-color="#d02a22"/></linearGradient></defs>
<rect x="203.90" y="657.70" width="91.40" height="6.90" fill="url(#cb)" stroke="#6a6a6a" stroke-width="0.35" />
<text x="249.50" y="653.70" font-size="7.0" fill="#333" text-anchor="middle" textLength="60.5" lengthAdjust="spacingAndGlyphs"  stroke="#333" stroke-width="0.24">Z-scored Expression:</text>
<text x="205.90" y="673.60" font-size="6.5" fill="#333" text-anchor="middle"  stroke="#333" stroke-width="0.24">−2</text>
<text x="223.10" y="673.60" font-size="6.5" fill="#333" text-anchor="middle"  stroke="#333" stroke-width="0.24">−1</text>
<text x="238.50" y="673.60" font-size="6.5" fill="#333" text-anchor="middle"  stroke="#333" stroke-width="0.24">0</text>
<text x="252.20" y="673.60" font-size="6.5" fill="#333" text-anchor="middle"  stroke="#333" stroke-width="0.24">1</text>
<text x="266.10" y="673.60" font-size="6.5" fill="#333" text-anchor="middle"  stroke="#333" stroke-width="0.24">2</text>
<text x="279.90" y="673.60" font-size="6.5" fill="#333" text-anchor="middle"  stroke="#333" stroke-width="0.24">3</text>
<text x="293.50" y="673.60" font-size="6.5" fill="#333" text-anchor="middle"  stroke="#333" stroke-width="0.24">4</text>
<rect x="0.5" y="0.5" width="519" height="681" fill="none" stroke="#555" stroke-width="1"/>
</svg>
</body></html>
